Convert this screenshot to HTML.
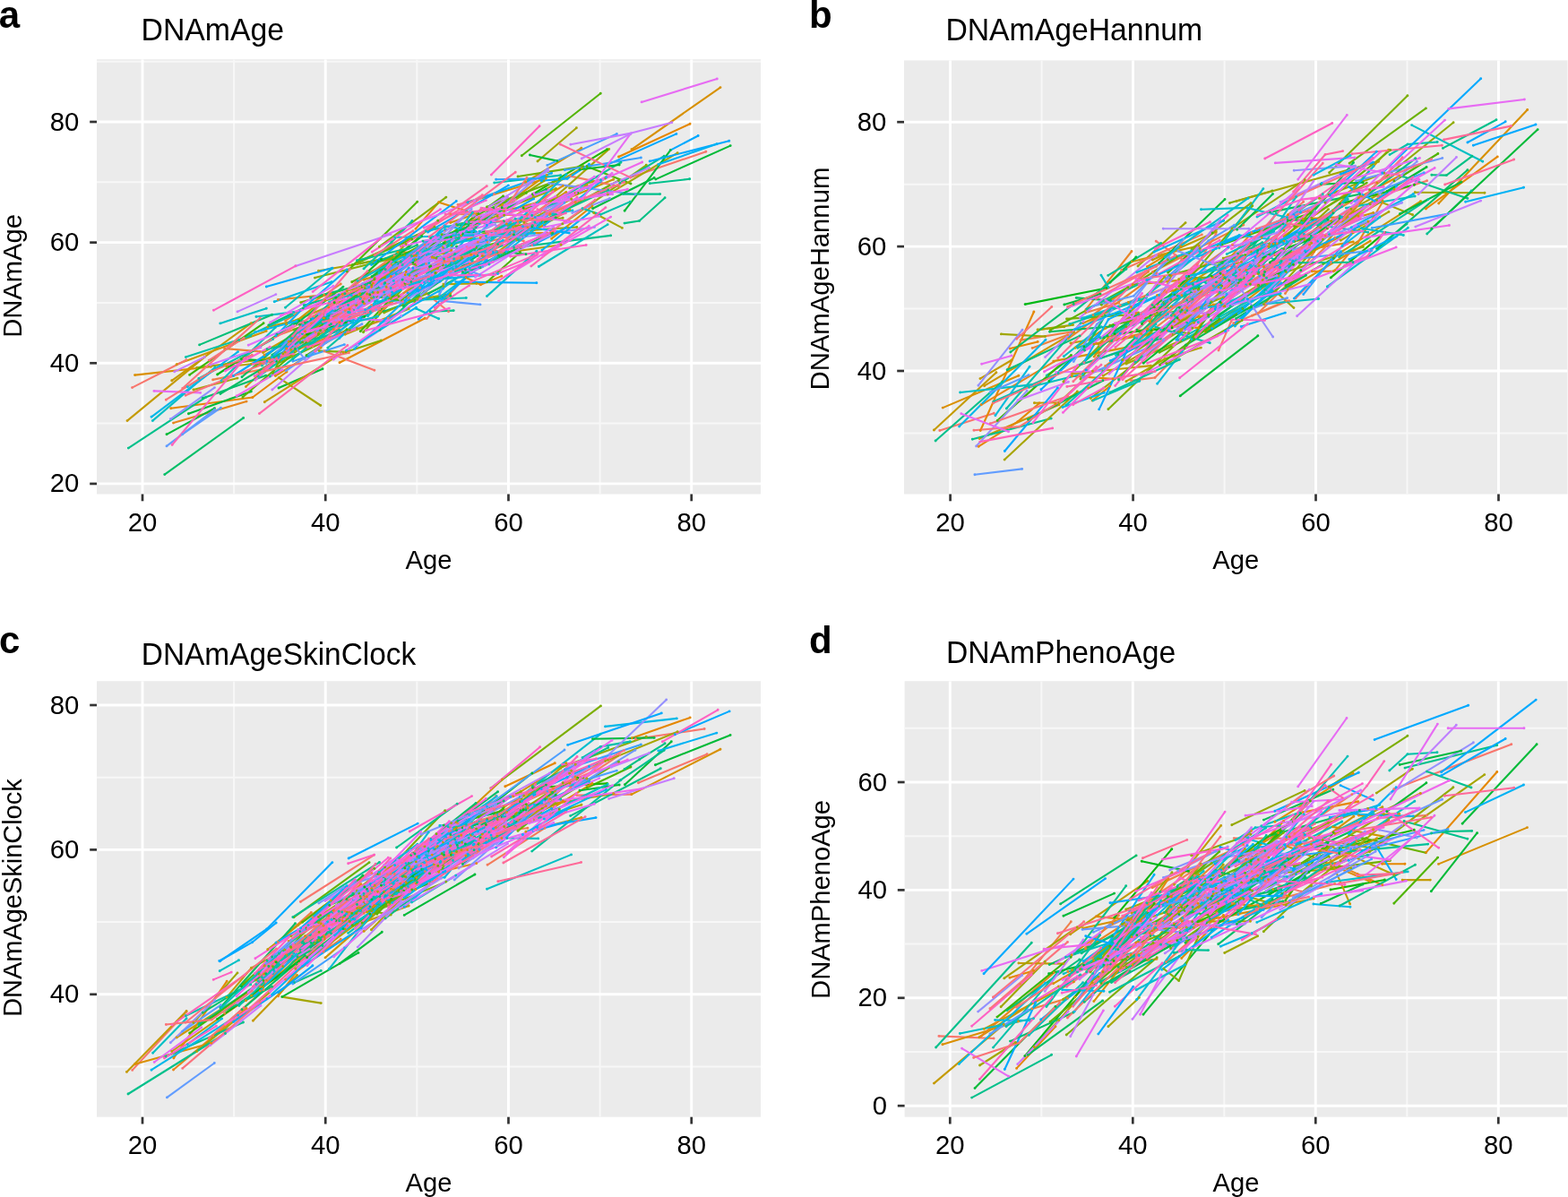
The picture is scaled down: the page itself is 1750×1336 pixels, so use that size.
<!DOCTYPE html><html><head><meta charset="utf-8"><title>DNAm clocks vs age</title>
<style>html,body{margin:0;padding:0;background:#fff;}svg{display:block;filter:blur(0.45px);}</style></head><body>
<svg width="1750" height="1336" viewBox="0 0 1750 1336" font-family='"Liberation Sans", Arial, Helvetica, sans-serif'>
<defs>
<clipPath id="clipa"><rect x="108" y="66.2" width="741.0" height="485.3"/></clipPath>
<clipPath id="clipb"><rect x="1009" y="67.3" width="740.5" height="484.2"/></clipPath>
<clipPath id="clipc"><rect x="108" y="760.2" width="741.0" height="486.5"/></clipPath>
<clipPath id="clipd"><rect x="1009.6" y="760.2" width="739.9" height="486.5"/></clipPath>
</defs>
<rect x="108" y="66.2" width="741.0" height="485.3" fill="#EBEBEB"/>
<g stroke="#FFFFFF" clip-path="url(#clipa)"><line x1="108" x2="849" y1="472.60" y2="472.60" stroke-width="2.0" stroke="#F7F7F7"/><line x1="108" x2="849" y1="337.96" y2="337.96" stroke-width="2.0" stroke="#F7F7F7"/><line x1="108" x2="849" y1="203.32" y2="203.32" stroke-width="2.0" stroke="#F7F7F7"/><line x1="108" x2="849" y1="68.68" y2="68.68" stroke-width="2.0" stroke="#F7F7F7"/><line x1="261.12" x2="261.12" y1="66.2" y2="551.5" stroke-width="2.0" stroke="#F7F7F7"/><line x1="465.36" x2="465.36" y1="66.2" y2="551.5" stroke-width="2.0" stroke="#F7F7F7"/><line x1="669.60" x2="669.60" y1="66.2" y2="551.5" stroke-width="2.0" stroke="#F7F7F7"/><line x1="108" x2="849" y1="539.92" y2="539.92" stroke-width="2.9"/><line x1="108" x2="849" y1="405.28" y2="405.28" stroke-width="2.9"/><line x1="108" x2="849" y1="270.64" y2="270.64" stroke-width="2.9"/><line x1="108" x2="849" y1="136.00" y2="136.00" stroke-width="2.9"/><line x1="159.00" x2="159.00" y1="66.2" y2="551.5" stroke-width="2.9"/><line x1="363.24" x2="363.24" y1="66.2" y2="551.5" stroke-width="2.9"/><line x1="567.48" x2="567.48" y1="66.2" y2="551.5" stroke-width="2.9"/><line x1="771.72" x2="771.72" y1="66.2" y2="551.5" stroke-width="2.9"/></g>
<g clip-path="url(#clipa)" fill="none" stroke-linecap="butt" stroke-linejoin="round"><g stroke-width="2.1"><path stroke="#F8766D" d="M703.7 198.1L787.9 169.2"/><path stroke="#F67964" d="M475.5 294.5L537.5 232.4"/><path stroke="#F27C55" d="M400.4 328.8L474.3 273.1"/><path stroke="#F47A5D" d="M361.2 370.2L387.7 370.8L433.3 355.3"/><path stroke="#F77768" d="M415.5 333.3L434.8 330.3L455.9 332.4"/><path stroke="#EE8041" d="M385.1 347.0L486.7 304.5"/><path stroke="#E58700" d="M379.0 404.7L474.2 355.2"/><path stroke="#E88526" d="M310.4 334.4L361.7 329.3"/><path stroke="#DB8E00" d="M536.0 265.4L628.3 207.4"/><path stroke="#EF7F47" d="M332.2 378.4L406.4 333.3"/><path stroke="#E48800" d="M520.0 309.7L536.4 317.7L559.9 308.1"/><path stroke="#DD8C00" d="M464.7 308.1L565.4 249.9"/><path stroke="#D29300" d="M502.7 248.6L560.6 228.4"/><path stroke="#CF9500" d="M363.0 335.4L452.2 306.7"/><path stroke="#EE8044" d="M533.4 270.2L578.1 247.3L613.2 239.7"/><path stroke="#D89000" d="M444.0 281.4L525.7 284.3"/><path stroke="#D19400" d="M586.8 203.2L648.8 165.3"/><path stroke="#D69100" d="M307.4 419.5L358.2 388.1"/><path stroke="#CD9500" d="M572.8 253.3L631.8 214.4"/><path stroke="#E38900" d="M379.0 360.0L416.4 316.1"/><path stroke="#E08B00" d="M463.9 255.4L489.7 225.7L531.8 239.1"/><path stroke="#F7776B" d="M544.8 261.3L584.4 269.0"/><path stroke="#C19B00" d="M409.6 328.0L461.8 285.6"/><path stroke="#C79800" d="M588.9 239.9L684.7 200.2"/><path stroke="#E88520" d="M588.9 253.9L614.2 238.7L642.1 225.6"/><path stroke="#E48800" d="M366.7 343.1L382.3 328.2L406.0 338.0"/><path stroke="#F27D53" d="M352.0 371.0L436.2 333.8"/><path stroke="#B1A100" d="M355.5 302.2L398.7 294.8L439.2 286.9"/><path stroke="#E28900" d="M295.0 396.3L340.6 370.0"/><path stroke="#D39200" d="M274.4 431.6L362.1 351.3"/><path stroke="#F8766D" d="M511.0 228.5L551.5 216.7"/><path stroke="#9EA700" d="M534.3 244.4L620.5 210.4"/><path stroke="#C49900" d="M191.7 424.8L280.5 360.7"/><path stroke="#B89E00" d="M538.3 285.7L626.1 273.2"/><path stroke="#EA832F" d="M524.3 294.2L617.4 259.2"/><path stroke="#BD9C00" d="M385.1 373.3L456.2 344.8"/><path stroke="#AAA300" d="M584.8 248.4L637.7 222.3"/><path stroke="#F8766D" d="M362.0 392.0L417.9 413.2"/><path stroke="#F07E4D" d="M496.3 257.0L534.7 242.8"/><path stroke="#F57962" d="M636.7 196.6L691.7 208.2"/><path stroke="#8BAB00" d="M509.5 250.5L562.7 240.2"/><path stroke="#A3A500" d="M614.5 224.5L679.7 166.4"/><path stroke="#E58705" d="M553.2 259.7L615.0 260.1"/><path stroke="#DC8D00" d="M417.7 312.3L464.5 285.2"/><path stroke="#92AA00" d="M285.5 408.0L324.8 397.5"/><path stroke="#F37B5A" d="M544.0 270.2L608.1 252.1"/><path stroke="#C49A00" d="M142.0 469.6L228.4 398.4"/><path stroke="#ED813E" d="M310.2 374.3L347.4 360.8"/><path stroke="#A3A500" d="M600.0 180.0L643.4 142.8"/><path stroke="#8FAB00" d="M627.8 249.9L721.3 184.3"/><path stroke="#B4A000" d="M329.8 392.0L431.2 320.4"/><path stroke="#BC9D00" d="M319.6 361.8L401.8 327.7"/><path stroke="#DA8F00" d="M150.5 418.6L235.4 409.3"/><path stroke="#4FB400" d="M655.1 185.8L704.0 205.0"/><path stroke="#F37C58" d="M349.0 386.8L414.8 340.4"/><path stroke="#62B200" d="M392.7 314.7L493.2 261.7"/><path stroke="#EB8237" d="M318.6 358.0L380.3 317.0"/><path stroke="#DC8D00" d="M521.9 226.1L609.3 199.3"/><path stroke="#C99700" d="M362.1 355.1L436.8 295.7"/><path stroke="#97A800" d="M315.8 394.8L407.0 321.0"/><path stroke="#CA9700" d="M456.9 307.3L509.3 265.8"/><path stroke="#4BB400" d="M543.6 314.8L580.5 281.5"/><path stroke="#A3A500" d="M662.6 237.5L694.4 254.4"/><path stroke="#53B400" d="M582.3 173.7L670.3 104.3"/><path stroke="#F17D50" d="M502.9 239.0L588.9 240.2"/><path stroke="#B0A100" d="M494.9 317.2L531.9 316.5"/><path stroke="#6AB100" d="M605.1 247.7L690.5 201.5"/><path stroke="#A9A400" d="M324.8 390.4L398.4 366.5"/><path stroke="#CC9600" d="M197.1 406.7L297.2 369.4"/><path stroke="#00B81C" d="M373.2 337.7L425.5 289.5"/><path stroke="#12B700" d="M584.2 232.3L644.7 215.4"/><path stroke="#7BAE00" d="M405.5 370.7L496.7 270.0"/><path stroke="#81AD00" d="M423.3 275.4L497.9 220.1"/><path stroke="#F07F4A" d="M237.6 423.9L294.2 411.7"/><path stroke="#5CB300" d="M444.9 330.6L485.8 304.8"/><path stroke="#9BA800" d="M571.4 258.4L643.8 253.5"/><path stroke="#D09400" d="M414.7 320.3L458.9 285.4"/><path stroke="#E7861A" d="M193.5 472.1L275.1 448.1"/><path stroke="#D59100" d="M514.7 262.7L610.2 195.4"/><path stroke="#94A900" d="M503.6 273.7L581.5 246.2"/><path stroke="#2EB600" d="M342.0 396.7L387.1 367.8"/><path stroke="#D79000" d="M704.9 166.8L804.0 97.6"/><path stroke="#00BB4A" d="M422.0 291.8L495.6 271.5"/><path stroke="#00BD5C" d="M428.1 347.8L463.0 335.5L502.8 330.3"/><path stroke="#1EB700" d="M594.5 216.8L677.6 166.7"/><path stroke="#F8766D" d="M468.6 321.4L500.6 347.7"/><path stroke="#A3A500" d="M355.7 371.9L452.9 272.5"/><path stroke="#E9842B" d="M290.6 405.7L389.9 368.2"/><path stroke="#E68612" d="M322.2 381.3L372.2 367.2L402.9 331.7"/><path stroke="#47B500" d="M533.9 238.7L587.4 215.2"/><path stroke="#65B200" d="M327.9 368.1L412.1 335.4"/><path stroke="#00BB47" d="M367.7 362.4L409.5 321.0"/><path stroke="#F67866" d="M476.2 355.6L553.6 272.9"/><path stroke="#EB8333" d="M423.6 348.4L495.8 291.1"/><path stroke="#00BC54" d="M330.8 361.3L383.0 320.1"/><path stroke="#C69900" d="M298.7 365.1L332.7 356.9L369.2 328.1"/><path stroke="#C09B00" d="M293.5 393.5L379.7 343.7"/><path stroke="#A4A500" d="M635.6 209.9L675.7 199.1"/><path stroke="#00BE71" d="M510.9 251.2L562.2 247.0"/><path stroke="#99A800" d="M509.3 266.6L607.1 201.9"/><path stroke="#00BA37" d="M495.2 271.5L550.7 232.3"/><path stroke="#F57A5F" d="M350.3 353.2L440.2 284.9"/><path stroke="#00BA38" d="M731.8 200.1L815.2 162.6"/><path stroke="#C39A00" d="M423.2 303.4L507.1 260.5"/><path stroke="#96A900" d="M473.9 270.3L555.2 241.4"/><path stroke="#C89800" d="M576.8 268.1L636.0 234.0"/><path stroke="#00BA38" d="M311.0 433.0L360.0 411.7"/><path stroke="#BE9C00" d="M418.2 310.3L494.6 275.8"/><path stroke="#74B000" d="M487.0 288.2L582.0 264.1"/><path stroke="#00C08B" d="M725.2 204.7L769.7 199.8"/><path stroke="#6FB000" d="M578.0 197.0L650.8 185.6"/><path stroke="#00BC4F" d="M479.5 297.7L519.4 301.0"/><path stroke="#00C08B" d="M480.0 347.7L506.3 346.6"/><path stroke="#00BF7F" d="M430.1 300.8L529.1 256.1"/><path stroke="#76AF00" d="M462.4 336.4L531.6 276.6"/><path stroke="#F8766D" d="M147.5 432.6L208.0 401.8"/><path stroke="#E18A00" d="M390.1 345.1L482.2 287.3"/><path stroke="#7DAE00" d="M289.1 415.3L390.2 368.3"/><path stroke="#53B400" d="M387.4 303.1L465.7 225.2"/><path stroke="#00BD5E" d="M516.4 303.7L616.6 260.5"/><path stroke="#B3A000" d="M414.4 332.6L484.3 287.5"/><path stroke="#ADA200" d="M421.6 326.5L464.3 296.0"/><path stroke="#E58700" d="M190.7 455.7L281.9 443.5L320.0 415.0"/><path stroke="#00BE67" d="M458.8 314.5L555.6 272.6"/><path stroke="#00C093" d="M326.8 400.7L423.5 320.5"/><path stroke="#EC823A" d="M250.6 389.0L290.3 392.4"/><path stroke="#A6A500" d="M678.3 217.1L756.2 170.7"/><path stroke="#00BC59" d="M450.4 341.8L533.3 285.2"/><path stroke="#34B600" d="M412.8 328.9L436.7 292.0L480.8 296.9"/><path stroke="#A0A600" d="M215.9 435.0L265.0 422.1"/><path stroke="#85AD00" d="M356.1 391.6L385.8 392.9L425.4 379.9"/><path stroke="#00C08A" d="M423.9 368.2L503.8 293.4"/><path stroke="#00C1A3" d="M475.3 258.0L523.2 248.0"/><path stroke="#43B500" d="M402.3 369.8L452.0 316.2"/><path stroke="#DE8C00" d="M615.6 266.4L661.0 230.0"/><path stroke="#DF8B00" d="M406.7 338.9L436.3 308.5L453.2 303.5"/><path stroke="#B79F00" d="M562.6 235.6L642.2 215.4"/><path stroke="#AFA200" d="M387.4 324.6L488.5 299.8"/><path stroke="#00BE67" d="M183.7 529.6L271.7 466.4"/><path stroke="#00C0B7" d="M418.7 336.5L520.3 332.5"/><path stroke="#00C1AB" d="M650.0 232.6L670.2 239.5L703.4 225.1"/><path stroke="#E58700" d="M690.5 175.0L770.1 138.2"/><path stroke="#00C0BD" d="M413.4 347.9L512.0 262.2"/><path stroke="#00B930" d="M374.9 332.3L460.6 310.4"/><path stroke="#00C0B1" d="M388.6 340.5L449.1 295.8"/><path stroke="#D98F00" d="M409.3 320.9L446.9 292.0"/><path stroke="#90AA00" d="M575.5 252.3L628.2 243.3"/><path stroke="#D49200" d="M319.7 389.0L361.0 354.9"/><path stroke="#00BFC4" d="M245.8 360.9L297.3 344.2"/><path stroke="#00B822" d="M460.9 293.2L560.2 231.8"/><path stroke="#ACA300" d="M595.3 219.3L649.0 187.8"/><path stroke="#CB9600" d="M406.1 312.3L503.8 279.2"/><path stroke="#00C19A" d="M593.7 240.5L693.0 181.2"/><path stroke="#00C085" d="M697.0 249.1L713.6 246.5L742.1 220.8"/><path stroke="#00BD65" d="M299.8 362.9L338.2 343.9"/><path stroke="#00C1AC" d="M221.8 422.4L304.7 378.6"/><path stroke="#00C0AF" d="M495.4 289.0L575.3 244.3"/><path stroke="#00BFC6" d="M285.9 353.5L327.7 348.4"/><path stroke="#52B400" d="M393.3 295.7L459.8 267.0"/><path stroke="#27B700" d="M450.9 284.8L503.5 264.6L542.4 244.8"/><path stroke="#83AD00" d="M397.7 340.6L414.7 318.1L436.2 333.5"/><path stroke="#00B70A" d="M342.7 373.4L406.8 353.3"/><path stroke="#00BB44" d="M536.1 298.8L581.2 276.4"/><path stroke="#6CB100" d="M543.4 230.9L624.3 200.4"/><path stroke="#00B9E2" d="M436.1 321.5L478.9 293.6"/><path stroke="#9CA700" d="M465.8 334.3L502.7 328.0"/><path stroke="#A3A500" d="M311.2 421.6L357.8 452.5"/><path stroke="#00BECE" d="M365.5 354.6L402.2 333.4"/><path stroke="#3EB500" d="M462.6 290.2L561.6 218.9"/><path stroke="#00BD60" d="M270.0 420.8L340.5 360.3"/><path stroke="#00BECF" d="M439.3 313.4L490.9 279.7L535.4 258.1"/><path stroke="#C29A00" d="M295.3 448.7L383.1 393.2"/><path stroke="#7FAE00" d="M335.6 337.6L429.7 309.9"/><path stroke="#A7A400" d="M219.6 410.4L301.0 400.2"/><path stroke="#8DAB00" d="M428.7 349.1L494.9 319.6"/><path stroke="#89AC00" d="M351.4 310.1L451.2 284.9"/><path stroke="#00BB4C" d="M334.4 362.4L404.9 336.8"/><path stroke="#00B8E6" d="M461.3 290.0L496.2 252.0L531.0 258.4"/><path stroke="#00BE69" d="M478.5 327.6L556.5 284.9"/><path stroke="#B59F00" d="M555.0 281.7L655.0 206.2"/><path stroke="#87AC00" d="M402.2 294.0L438.0 287.2"/><path stroke="#00BECB" d="M478.2 283.6L508.7 260.6L527.4 237.3"/><path stroke="#00B6EB" d="M542.5 263.5L596.5 260.4"/><path stroke="#00C097" d="M409.2 317.4L423.4 303.5L447.7 292.2"/><path stroke="#00B9E3" d="M597.2 242.6L639.0 235.0"/><path stroke="#BB9D00" d="M416.6 326.5L515.0 288.5"/><path stroke="#00BA38" d="M591.4 173.0L621.9 179.6"/><path stroke="#B99E00" d="M253.0 409.3L280.5 406.2L318.1 393.0"/><path stroke="#00C08B" d="M143.3 500.1L230.0 443.2"/><path stroke="#00BFC9" d="M509.1 297.5L582.4 242.8"/><path stroke="#00A9FF" d="M748.3 167.6L779.2 151.5"/><path stroke="#00BECD" d="M580.3 248.1L670.5 201.0"/><path stroke="#00BD62" d="M245.9 439.5L329.5 389.3"/><path stroke="#00BE6D" d="M480.5 265.7L531.1 253.9"/><path stroke="#00C08E" d="M335.4 382.7L394.4 345.9"/><path stroke="#00BA38" d="M210.4 461.7L280.3 436.9"/><path stroke="#00B815" d="M242.6 418.0L333.8 357.9"/><path stroke="#00BF79" d="M222.6 384.9L303.7 351.3"/><path stroke="#00C0B3" d="M318.5 343.2L370.5 299.7"/><path stroke="#00C0BA" d="M288.4 420.3L388.7 348.5"/><path stroke="#00BC52" d="M509.5 275.1L587.0 283.7"/><path stroke="#00BADF" d="M306.2 336.8L370.2 314.6"/><path stroke="#00BF77" d="M309.1 373.1L332.0 357.9L359.9 360.7"/><path stroke="#00B927" d="M516.3 261.0L593.9 252.8"/><path stroke="#00BF7B" d="M416.2 294.4L465.6 273.5"/><path stroke="#00C1A9" d="M207.3 398.6L279.7 374.9"/><path stroke="#00B1F6" d="M481.0 312.5L555.6 305.6"/><path stroke="#A1A600" d="M464.1 289.8L515.6 287.4"/><path stroke="#00C090" d="M691.8 204.4L741.3 174.1"/><path stroke="#71B000" d="M304.5 416.2L324.4 380.6L355.5 373.2"/><path stroke="#00BBDB" d="M390.3 348.8L428.7 326.0"/><path stroke="#67B100" d="M404.1 320.4L488.8 246.2"/><path stroke="#00C083" d="M339.3 340.8L384.8 327.7"/><path stroke="#00BA3B" d="M415.0 308.7L470.7 263.8"/><path stroke="#00BBDC" d="M209.3 431.7L247.6 407.5"/><path stroke="#00BFC7" d="M379.3 363.2L442.3 305.8"/><path stroke="#00B92B" d="M269.4 400.7L308.4 403.3"/><path stroke="#00B6EA" d="M437.6 326.3L482.0 309.1L535.1 249.8"/><path stroke="#00B8E7" d="M477.2 315.2L569.8 248.3"/><path stroke="#00BA38" d="M186.0 484.8L239.5 455.7"/><path stroke="#00BA3E" d="M573.4 261.9L620.2 242.9"/><path stroke="#78AF00" d="M400.6 291.8L485.0 253.3"/><path stroke="#6F99FF" d="M612.6 204.6L709.0 217.0"/><path stroke="#00C0B4" d="M551.7 204.0L625.8 195.6"/><path stroke="#00BF81" d="M305.9 398.8L369.4 361.8"/><path stroke="#00BDD3" d="M490.8 331.6L534.9 298.4"/><path stroke="#00BA38" d="M697.1 235.3L748.3 167.6"/><path stroke="#00B6EC" d="M451.2 338.3L548.0 247.9"/><path stroke="#00C095" d="M444.7 294.5L507.7 283.5"/><path stroke="#00C08B" d="M573.7 276.4L681.7 262.9"/><path stroke="#00BCD9" d="M455.5 306.3L505.7 262.6"/><path stroke="#59B300" d="M420.8 331.1L447.8 335.2L494.2 295.9"/><path stroke="#00BC57" d="M510.4 258.7L609.5 211.3"/><path stroke="#988FFF" d="M447.2 338.0L506.0 303.8"/><path stroke="#00C092" d="M472.0 269.1L511.0 265.9"/><path stroke="#00ACFC" d="M604.2 201.8L633.1 199.4L657.5 183.3"/><path stroke="#31A2FF" d="M467.8 287.3L504.6 293.2"/><path stroke="#00B5ED" d="M607.3 251.5L676.6 198.0"/><path stroke="#5FB200" d="M270.9 443.2L357.6 369.0"/><path stroke="#00AFF7" d="M424.8 360.9L494.6 322.1"/><path stroke="#00A6FF" d="M260.5 419.5L326.2 377.0"/><path stroke="#00A8FF" d="M477.6 259.1L567.4 206.9"/><path stroke="#00BFC4" d="M543.4 330.6L598.9 280.3"/><path stroke="#00C0B6" d="M545.9 295.0L597.0 248.3"/><path stroke="#00C1A4" d="M502.1 296.4L578.2 267.4"/><path stroke="#00C08B" d="M695.4 216.6L736.7 216.6"/><path stroke="#00C19F" d="M311.4 397.8L378.7 368.3"/><path stroke="#56B300" d="M337.6 381.9L417.9 311.7"/><path stroke="#00B934" d="M647.0 189.3L691.2 184.0"/><path stroke="#9D8DFF" d="M553.9 252.5L622.8 227.8"/><path stroke="#00A4FF" d="M460.9 299.2L542.8 268.1"/><path stroke="#00C1A6" d="M266.8 379.6L326.5 351.7"/><path stroke="#00C08C" d="M398.5 290.8L456.3 277.1"/><path stroke="#39B600" d="M211.6 418.4L294.1 360.8"/><path stroke="#00BA41" d="M661.5 232.7L730.2 198.5"/><path stroke="#9590FF" d="M543.1 245.7L611.5 188.1"/><path stroke="#00C087" d="M594.4 251.6L678.8 211.9"/><path stroke="#00C089" d="M298.1 389.6L355.7 377.1"/><path stroke="#8993FF" d="M404.7 316.5L469.4 283.3"/><path stroke="#00C1AE" d="M301.4 420.1L381.8 358.0"/><path stroke="#00BCD6" d="M541.7 281.8L632.1 194.7"/><path stroke="#00B0F6" d="M451.3 287.6L496.9 256.0"/><path stroke="#00ABFD" d="M337.8 363.3L403.0 356.0"/><path stroke="#00BFC4" d="M464.0 344.3L489.7 355.7"/><path stroke="#00BAE0" d="M489.5 325.4L524.2 299.5L554.3 281.1"/><path stroke="#00BFC0" d="M468.0 314.7L520.7 258.1"/><path stroke="#A58AFF" d="M458.0 311.6L497.0 275.5L552.7 250.4"/><path stroke="#00C1A7" d="M292.4 408.1L378.1 329.2"/><path stroke="#CA7BFF" d="M303.8 435.0L389.3 360.2"/><path stroke="#639CFF" d="M490.4 328.8L506.8 296.6L535.6 306.6"/><path stroke="#00AEFA" d="M484.0 312.7L533.3 282.9"/><path stroke="#00BCD7" d="M344.1 397.8L394.5 357.4"/><path stroke="#00C19E" d="M337.4 372.6L415.2 326.1"/><path stroke="#CD79FF" d="M362.9 351.5L443.7 321.0"/><path stroke="#00BBDD" d="M501.9 272.4L574.1 258.8"/><path stroke="#A08CFF" d="M581.6 264.7L663.6 253.6"/><path stroke="#00A6FF" d="M455.1 327.1L491.3 314.1"/><path stroke="#A38BFF" d="M512.0 276.2L571.4 259.1"/><path stroke="#00BF75" d="M449.2 312.2L529.7 278.7"/><path stroke="#B684FF" d="M399.2 385.2L447.7 352.5"/><path stroke="#00ACFB" d="M522.0 225.9L615.6 193.3"/><path stroke="#00BE6B" d="M226.3 444.4L296.8 419.1"/><path stroke="#00BE6F" d="M346.7 332.3L413.0 315.9"/><path stroke="#41A0FF" d="M326.8 403.3L384.4 384.6"/><path stroke="#00BF7D" d="M303.7 396.1L393.9 333.5"/><path stroke="#00C19C" d="M406.0 299.9L437.1 270.2L460.0 246.4"/><path stroke="#E66CF4" d="M590.3 241.6L663.4 197.2"/><path stroke="#00A7FF" d="M414.5 295.5L509.3 224.5"/><path stroke="#00BBDA" d="M367.5 336.9L428.7 316.9"/><path stroke="#00BFC4" d="M170.3 469.6L240.0 410.0"/><path stroke="#6B9AFF" d="M306.9 402.3L396.9 338.5"/><path stroke="#8F91FF" d="M638.7 237.6L680.5 221.4"/><path stroke="#00A9FF" d="M467.2 356.3L543.3 290.1"/><path stroke="#C27EFF" d="M265.0 347.9L307.9 328.6"/><path stroke="#00C098" d="M417.0 331.7L512.4 265.7"/><path stroke="#00AEF9" d="M499.9 310.5L550.5 281.2"/><path stroke="#00C0B9" d="M506.8 289.0L549.1 265.3L603.3 248.9"/><path stroke="#00AAFD" d="M543.3 251.5L595.6 221.9"/><path stroke="#7E96FF" d="M355.8 350.5L383.1 348.1L419.7 345.8"/><path stroke="#00BF73" d="M347.1 356.4L429.7 315.8"/><path stroke="#00C0BC" d="M247.0 425.0L307.4 365.4"/><path stroke="#00C1A1" d="M365.8 388.3L430.1 333.6"/><path stroke="#00B7E9" d="M169.0 465.3L265.6 392.6"/><path stroke="#D973FC" d="M420.0 329.3L518.2 275.2"/><path stroke="#00A9FF" d="M675.6 184.9L754.9 149.4"/><path stroke="#EA69F0" d="M368.9 354.8L432.9 357.6"/><path stroke="#48A0FF" d="M610.8 184.4L688.4 149.4"/><path stroke="#00BECA" d="M398.9 313.3L492.0 264.5"/><path stroke="#BC81FF" d="M527.9 241.3L612.0 190.6"/><path stroke="#00BDD5" d="M410.5 352.7L453.1 313.9L478.3 300.4"/><path stroke="#F763E0" d="M445.5 298.8L514.4 260.2"/><path stroke="#E76BF3" d="M171.9 436.4L223.7 438.4"/><path stroke="#EC69EF" d="M565.6 245.7L620.0 219.1"/><path stroke="#00BFC4" d="M505.6 300.5L545.6 273.5"/><path stroke="#00AFF8" d="M308.0 374.8L335.7 346.5L387.1 301.0"/><path stroke="#00A9FF" d="M595.3 273.3L631.8 254.3"/><path stroke="#00A5FF" d="M310.6 399.3L348.9 355.5"/><path stroke="#BE80FF" d="M682.2 205.7L724.6 187.4"/><path stroke="#E76BF3" d="M336.5 346.3L426.6 306.9"/><path stroke="#DD71FA" d="M277.2 385.3L326.9 363.8"/><path stroke="#7797FF" d="M507.2 260.4L585.1 264.6"/><path stroke="#619CFF" d="M186.0 497.9L239.5 457.3"/><path stroke="#D774FD" d="M452.6 314.8L524.4 291.9"/><path stroke="#BA82FF" d="M375.3 344.2L445.7 315.8"/><path stroke="#00AAFE" d="M466.5 324.9L529.2 285.6"/><path stroke="#FC61D5" d="M396.5 337.4L469.0 282.1"/><path stroke="#AF86FF" d="M397.0 336.0L488.7 270.7"/><path stroke="#ED68EE" d="M479.3 270.3L546.9 261.2"/><path stroke="#679BFF" d="M319.3 413.8L363.9 382.3L404.0 361.7"/><path stroke="#F066EA" d="M342.9 377.9L422.2 332.7"/><path stroke="#00A9FF" d="M297.3 320.0L371.0 299.1"/><path stroke="#C07FFF" d="M470.7 292.7L535.3 284.3"/><path stroke="#FF61C3" d="M343.2 387.4L396.1 367.6"/><path stroke="#00A9FF" d="M508.6 314.6L598.9 315.7"/><path stroke="#00B8E5" d="M565.0 281.0L606.2 248.1"/><path stroke="#00C0BF" d="M601.3 297.5L678.2 250.6"/><path stroke="#EF67EB" d="M622.6 237.9L650.1 221.1L700.4 211.2"/><path stroke="#8594FF" d="M542.3 283.8L634.6 220.1"/><path stroke="#7398FF" d="M296.8 405.9L322.9 378.6L340.0 400.6"/><path stroke="#FF63B7" d="M599.8 233.7L624.9 237.5L644.1 220.0"/><path stroke="#4E9FFF" d="M538.5 297.7L630.0 226.2"/><path stroke="#00A9FF" d="M725.2 180.0L813.8 157.2"/><path stroke="#39A1FF" d="M630.3 189.8L715.4 176.0"/><path stroke="#00BFC2" d="M478.0 311.8L500.1 309.8L527.3 291.0"/><path stroke="#DE70F9" d="M428.7 262.7L529.8 224.0"/><path stroke="#00B4F0" d="M386.6 391.1L464.6 343.2"/><path stroke="#00B5EE" d="M284.5 370.8L330.9 358.4"/><path stroke="#9290FF" d="M190.3 467.8L239.5 432.6"/><path stroke="#00BFC3" d="M459.5 285.7L508.8 266.0"/><path stroke="#FF64AF" d="M442.1 314.9L521.0 275.5"/><path stroke="#00BDD1" d="M367.2 367.0L421.7 353.1"/><path stroke="#26A3FF" d="M553.6 200.2L606.9 199.2"/><path stroke="#E16FF7" d="M372.5 344.6L454.6 319.2"/><path stroke="#00B7E8" d="M407.7 345.7L497.6 296.0"/><path stroke="#B385FF" d="M377.9 355.7L444.3 337.5"/><path stroke="#FE61CE" d="M393.2 346.5L415.9 343.8L448.9 328.6"/><path stroke="#00BDD2" d="M422.9 304.8L465.9 282.2"/><path stroke="#FF62BA" d="M525.3 251.5L575.1 222.6"/><path stroke="#16A4FF" d="M411.5 320.8L476.2 284.6"/><path stroke="#FF61C5" d="M369.8 352.5L460.2 309.3"/><path stroke="#00BAE1" d="M440.6 265.0L528.1 262.6"/><path stroke="#CF78FF" d="M234.5 407.3L291.0 387.9"/><path stroke="#DA72FB" d="M488.9 283.3L560.5 258.1"/><path stroke="#00B2F3" d="M395.7 389.2L469.7 318.1"/><path stroke="#00ADFB" d="M583.4 252.7L635.3 260.1"/><path stroke="#FF62BF" d="M523.0 254.7L597.0 227.6"/><path stroke="#E76BF3" d="M703.7 149.4L650.0 222.0"/><path stroke="#00B3F1" d="M298.0 403.2L392.3 330.1"/><path stroke="#FF65AC" d="M425.8 317.0L457.1 295.6L493.8 278.9"/><path stroke="#FC727E" d="M539.0 289.9L612.4 226.2"/><path stroke="#5E9CFF" d="M203.6 484.7L246.5 455.2"/><path stroke="#FF65AD" d="M351.6 392.0L435.8 296.8"/><path stroke="#549EFF" d="M409.4 320.6L474.2 270.5"/><path stroke="#C77CFF" d="M329.9 296.9L436.1 261.6"/><path stroke="#00B2F4" d="M734.8 183.5L799.9 160.7"/><path stroke="#00B3F2" d="M378.8 377.6L456.3 299.0"/><path stroke="#F8766F" d="M366.9 358.5L432.4 317.1"/><path stroke="#C87CFF" d="M504.1 269.2L566.7 220.0"/><path stroke="#FE6E8B" d="M593.9 273.8L664.3 223.1"/><path stroke="#AD87FF" d="M374.9 357.4L460.6 309.6"/><path stroke="#8C92FF" d="M397.4 334.1L479.9 305.4"/><path stroke="#FF699C" d="M326.6 375.2L390.4 300.7"/><path stroke="#FB737A" d="M535.4 247.7L557.0 243.2L588.0 198.4"/><path stroke="#F265E7" d="M551.5 237.1L639.8 247.3"/><path stroke="#00B4EF" d="M473.7 315.3L561.5 268.2"/><path stroke="#FF66A8" d="M482.2 307.4L560.7 248.3"/><path stroke="#C47DFF" d="M525.2 304.2L613.5 262.9"/><path stroke="#FC61D3" d="M473.2 254.2L542.4 223.6"/><path stroke="#F862DE" d="M284.9 424.3L376.5 336.4"/><path stroke="#00B1F5" d="M604.9 279.2L657.5 237.6"/><path stroke="#FF62BC" d="M433.5 329.1L500.8 284.3"/><path stroke="#E76BF3" d="M716.1 113.9L800.3 88.0"/><path stroke="#C77CFF" d="M636.8 161.3L704.5 148.6L749.9 136.7"/><path stroke="#E46DF6" d="M607.1 253.7L668.8 241.3"/><path stroke="#FF63B9" d="M192.1 496.5L273.3 399.8"/><path stroke="#FF6C91" d="M374.3 360.2L423.8 345.1"/><path stroke="#B883FF" d="M457.4 301.2L503.5 290.0"/><path stroke="#FF61C3" d="M548.3 195.1L602.1 140.8"/><path stroke="#F962DC" d="M366.6 361.0L420.5 329.4L466.1 294.7"/><path stroke="#EE68ED" d="M372.2 401.2L469.6 333.0"/><path stroke="#599DFF" d="M399.5 343.9L447.5 302.8L476.6 274.3"/><path stroke="#8295FF" d="M470.1 329.2L553.3 260.3"/><path stroke="#F663E1" d="M446.4 295.5L486.1 264.3"/><path stroke="#E26EF7" d="M451.4 274.3L549.5 250.3"/><path stroke="#CC7AFF" d="M481.3 291.8L565.0 253.7"/><path stroke="#FF61C3" d="M556.6 313.4L598.9 284.9"/><path stroke="#D276FF" d="M424.5 319.4L490.4 282.7"/><path stroke="#7B97FF" d="M413.6 325.4L455.9 314.7"/><path stroke="#FB727C" d="M203.7 433.5L290.3 355.0"/><path stroke="#619CFF" d="M491.4 335.7L536.0 339.9"/><path stroke="#FF6B95" d="M478.0 300.7L566.7 268.7"/><path stroke="#DC72FB" d="M301.5 359.9L371.9 319.3"/><path stroke="#A889FF" d="M397.0 327.7L492.5 294.9"/><path stroke="#FD6F86" d="M366.8 338.7L405.5 319.3"/><path stroke="#F97571" d="M290.2 415.4L389.5 393.8"/><path stroke="#FF63B5" d="M532.9 289.6L617.3 214.0"/><path stroke="#FA61D9" d="M446.0 318.5L529.4 275.2"/><path stroke="#E96AF1" d="M623.9 225.5L683.1 193.4"/><path stroke="#D675FE" d="M530.5 309.4L617.9 253.1"/><path stroke="#FF61CC" d="M415.3 281.2L491.5 233.6"/><path stroke="#9A8EFF" d="M427.8 332.7L526.2 233.5"/><path stroke="#FF6A9A" d="M447.3 275.3L538.4 217.6"/><path stroke="#FF64B2" d="M548.6 262.6L631.4 237.9"/><path stroke="#FF6A98" d="M625.2 161.0L703.7 198.1"/><path stroke="#E06FF8" d="M332.5 374.1L362.1 364.4L394.8 343.3"/><path stroke="#FF61C9" d="M349.1 325.6L424.4 266.4"/><path stroke="#B186FF" d="M477.1 275.5L524.1 235.7"/><path stroke="#FF6A97" d="M478.9 264.3L575.3 192.2"/><path stroke="#F166E8" d="M264.0 442.0L315.2 412.7"/><path stroke="#FA7476" d="M185.3 446.2L236.2 414.4L281.4 396.3"/><path stroke="#F962DB" d="M562.3 273.8L643.4 215.5"/><path stroke="#FC7180" d="M207.1 441.3L308.6 400.3"/><path stroke="#C67DFF" d="M446.3 334.2L524.0 273.8"/><path stroke="#C77CFF" d="M194.7 414.9L228.4 398.4"/><path stroke="#D177FF" d="M408.2 336.5L495.8 274.3"/><path stroke="#E86BF2" d="M540.7 251.4L596.0 215.7"/><path stroke="#FF62C0" d="M485.2 343.5L523.6 318.7"/><path stroke="#F564E3" d="M520.7 247.7L574.0 246.9"/><path stroke="#AA88FF" d="M480.1 281.2L546.4 270.4"/><path stroke="#FF67A5" d="M542.5 258.4L577.9 256.1L597.7 251.4"/><path stroke="#C77CFF" d="M649.2 177.0L703.7 149.4"/><path stroke="#FF6C93" d="M279.2 392.4L376.8 337.1"/><path stroke="#D476FE" d="M531.7 242.5L612.3 212.0"/><path stroke="#FF61C8" d="M537.0 232.1L603.2 236.7"/><path stroke="#FF66AA" d="M282.2 406.6L327.6 395.1"/><path stroke="#FF67A3" d="M467.4 261.9L543.3 207.7"/><path stroke="#F763DF" d="M337.2 370.7L373.3 361.9"/><path stroke="#FD6F88" d="M554.8 246.9L614.6 245.1"/><path stroke="#F365E6" d="M605.6 285.5L681.7 242.1"/><path stroke="#E56DF5" d="M594.1 228.9L683.6 216.7"/><path stroke="#FD61D0" d="M381.1 361.6L436.7 291.9"/><path stroke="#EF67EC" d="M620.8 223.8L716.7 181.0"/><path stroke="#FF61C3" d="M238.4 346.3L329.9 296.9"/><path stroke="#FA7378" d="M233.2 402.1L272.3 377.2"/><path stroke="#FF66A7" d="M289.4 461.6L387.9 385.5"/><path stroke="#FE6D8D" d="M609.7 238.5L696.7 203.2"/><path stroke="#FD7084" d="M418.2 285.0L461.0 257.7"/><path stroke="#F564E4" d="M313.3 351.8L384.3 333.5"/><path stroke="#FF63B4" d="M592.8 297.1L675.9 231.6"/><path stroke="#FD61D2" d="M332.8 368.9L433.3 303.9"/><path stroke="#FB61D7" d="M408.4 368.7L501.4 344.1"/><path stroke="#FF62BD" d="M525.2 314.9L600.2 283.4"/><path stroke="#FF61C2" d="M379.3 342.2L457.6 312.0"/><path stroke="#F464E5" d="M565.9 307.6L657.3 252.3"/><path stroke="#FA62DA" d="M449.5 322.5L550.4 292.3"/><path stroke="#FC61D6" d="M251.5 414.0L301.3 387.3"/><path stroke="#FF68A0" d="M500.3 289.3L581.5 275.8"/><path stroke="#FF61CB" d="M543.0 288.0L619.7 257.6"/><path stroke="#FE61CF" d="M502.4 307.4L552.2 306.8L590.2 291.5"/><path stroke="#FF61C3" d="M569.5 286.2L654.2 273.5"/><path stroke="#FF68A1" d="M343.4 380.6L419.1 325.6"/><path stroke="#FF61C6" d="M284.1 419.8L322.3 393.1"/><path stroke="#FF6D8F" d="M321.8 384.8L410.1 302.8"/><path stroke="#FF64B1" d="M497.1 239.2L549.7 234.0"/><path stroke="#FF699E" d="M360.3 359.3L449.7 336.6"/><path stroke="#F97473" d="M488.7 295.1L532.4 282.6"/><path stroke="#FF6A98" d="M405.0 331.4L478.7 308.8"/><path stroke="#FE6E8A" d="M296.4 410.2L344.7 377.7"/><path stroke="#FC7082" d="M501.1 303.8L559.7 281.5"/></g><g stroke-width="2.9" stroke-linecap="round"><path stroke="#F8766D" d="M703.7 198.1h0M787.9 169.2h0"/><path stroke="#F67964" d="M475.5 294.5h0M537.5 232.4h0"/><path stroke="#F27C55" d="M400.4 328.8h0M474.3 273.1h0"/><path stroke="#F47A5D" d="M361.2 370.2h0M387.7 370.8h0M433.3 355.3h0"/><path stroke="#F77768" d="M415.5 333.3h0M434.8 330.3h0M455.9 332.4h0"/><path stroke="#EE8041" d="M385.1 347.0h0M486.7 304.5h0"/><path stroke="#E58700" d="M379.0 404.7h0M474.2 355.2h0"/><path stroke="#E88526" d="M310.4 334.4h0M361.7 329.3h0"/><path stroke="#DB8E00" d="M536.0 265.4h0M628.3 207.4h0"/><path stroke="#EF7F47" d="M332.2 378.4h0M406.4 333.3h0"/><path stroke="#E48800" d="M520.0 309.7h0M536.4 317.7h0M559.9 308.1h0"/><path stroke="#DD8C00" d="M464.7 308.1h0M565.4 249.9h0"/><path stroke="#D29300" d="M502.7 248.6h0M560.6 228.4h0"/><path stroke="#CF9500" d="M363.0 335.4h0M452.2 306.7h0"/><path stroke="#EE8044" d="M533.4 270.2h0M578.1 247.3h0M613.2 239.7h0"/><path stroke="#D89000" d="M444.0 281.4h0M525.7 284.3h0"/><path stroke="#D19400" d="M586.8 203.2h0M648.8 165.3h0"/><path stroke="#D69100" d="M307.4 419.5h0M358.2 388.1h0"/><path stroke="#CD9500" d="M572.8 253.3h0M631.8 214.4h0"/><path stroke="#E38900" d="M379.0 360.0h0M416.4 316.1h0"/><path stroke="#E08B00" d="M463.9 255.4h0M489.7 225.7h0M531.8 239.1h0"/><path stroke="#F7776B" d="M544.8 261.3h0M584.4 269.0h0"/><path stroke="#C19B00" d="M409.6 328.0h0M461.8 285.6h0"/><path stroke="#C79800" d="M588.9 239.9h0M684.7 200.2h0"/><path stroke="#E88520" d="M588.9 253.9h0M614.2 238.7h0M642.1 225.6h0"/><path stroke="#E48800" d="M366.7 343.1h0M382.3 328.2h0M406.0 338.0h0"/><path stroke="#F27D53" d="M352.0 371.0h0M436.2 333.8h0"/><path stroke="#B1A100" d="M355.5 302.2h0M398.7 294.8h0M439.2 286.9h0"/><path stroke="#E28900" d="M295.0 396.3h0M340.6 370.0h0"/><path stroke="#D39200" d="M274.4 431.6h0M362.1 351.3h0"/><path stroke="#F8766D" d="M511.0 228.5h0M551.5 216.7h0"/><path stroke="#9EA700" d="M534.3 244.4h0M620.5 210.4h0"/><path stroke="#C49900" d="M191.7 424.8h0M280.5 360.7h0"/><path stroke="#B89E00" d="M538.3 285.7h0M626.1 273.2h0"/><path stroke="#EA832F" d="M524.3 294.2h0M617.4 259.2h0"/><path stroke="#BD9C00" d="M385.1 373.3h0M456.2 344.8h0"/><path stroke="#AAA300" d="M584.8 248.4h0M637.7 222.3h0"/><path stroke="#F8766D" d="M362.0 392.0h0M417.9 413.2h0"/><path stroke="#F07E4D" d="M496.3 257.0h0M534.7 242.8h0"/><path stroke="#F57962" d="M636.7 196.6h0M691.7 208.2h0"/><path stroke="#8BAB00" d="M509.5 250.5h0M562.7 240.2h0"/><path stroke="#A3A500" d="M614.5 224.5h0M679.7 166.4h0"/><path stroke="#E58705" d="M553.2 259.7h0M615.0 260.1h0"/><path stroke="#DC8D00" d="M417.7 312.3h0M464.5 285.2h0"/><path stroke="#92AA00" d="M285.5 408.0h0M324.8 397.5h0"/><path stroke="#F37B5A" d="M544.0 270.2h0M608.1 252.1h0"/><path stroke="#C49A00" d="M142.0 469.6h0M228.4 398.4h0"/><path stroke="#ED813E" d="M310.2 374.3h0M347.4 360.8h0"/><path stroke="#A3A500" d="M600.0 180.0h0M643.4 142.8h0"/><path stroke="#8FAB00" d="M627.8 249.9h0M721.3 184.3h0"/><path stroke="#B4A000" d="M329.8 392.0h0M431.2 320.4h0"/><path stroke="#BC9D00" d="M319.6 361.8h0M401.8 327.7h0"/><path stroke="#DA8F00" d="M150.5 418.6h0M235.4 409.3h0"/><path stroke="#4FB400" d="M655.1 185.8h0M704.0 205.0h0"/><path stroke="#F37C58" d="M349.0 386.8h0M414.8 340.4h0"/><path stroke="#62B200" d="M392.7 314.7h0M493.2 261.7h0"/><path stroke="#EB8237" d="M318.6 358.0h0M380.3 317.0h0"/><path stroke="#DC8D00" d="M521.9 226.1h0M609.3 199.3h0"/><path stroke="#C99700" d="M362.1 355.1h0M436.8 295.7h0"/><path stroke="#97A800" d="M315.8 394.8h0M407.0 321.0h0"/><path stroke="#CA9700" d="M456.9 307.3h0M509.3 265.8h0"/><path stroke="#4BB400" d="M543.6 314.8h0M580.5 281.5h0"/><path stroke="#A3A500" d="M662.6 237.5h0M694.4 254.4h0"/><path stroke="#53B400" d="M582.3 173.7h0M670.3 104.3h0"/><path stroke="#F17D50" d="M502.9 239.0h0M588.9 240.2h0"/><path stroke="#B0A100" d="M494.9 317.2h0M531.9 316.5h0"/><path stroke="#6AB100" d="M605.1 247.7h0M690.5 201.5h0"/><path stroke="#A9A400" d="M324.8 390.4h0M398.4 366.5h0"/><path stroke="#CC9600" d="M197.1 406.7h0M297.2 369.4h0"/><path stroke="#00B81C" d="M373.2 337.7h0M425.5 289.5h0"/><path stroke="#12B700" d="M584.2 232.3h0M644.7 215.4h0"/><path stroke="#7BAE00" d="M405.5 370.7h0M496.7 270.0h0"/><path stroke="#81AD00" d="M423.3 275.4h0M497.9 220.1h0"/><path stroke="#F07F4A" d="M237.6 423.9h0M294.2 411.7h0"/><path stroke="#5CB300" d="M444.9 330.6h0M485.8 304.8h0"/><path stroke="#9BA800" d="M571.4 258.4h0M643.8 253.5h0"/><path stroke="#D09400" d="M414.7 320.3h0M458.9 285.4h0"/><path stroke="#E7861A" d="M193.5 472.1h0M275.1 448.1h0"/><path stroke="#D59100" d="M514.7 262.7h0M610.2 195.4h0"/><path stroke="#94A900" d="M503.6 273.7h0M581.5 246.2h0"/><path stroke="#2EB600" d="M342.0 396.7h0M387.1 367.8h0"/><path stroke="#D79000" d="M704.9 166.8h0M804.0 97.6h0"/><path stroke="#00BB4A" d="M422.0 291.8h0M495.6 271.5h0"/><path stroke="#00BD5C" d="M428.1 347.8h0M463.0 335.5h0M502.8 330.3h0"/><path stroke="#1EB700" d="M594.5 216.8h0M677.6 166.7h0"/><path stroke="#F8766D" d="M468.6 321.4h0M500.6 347.7h0"/><path stroke="#A3A500" d="M355.7 371.9h0M452.9 272.5h0"/><path stroke="#E9842B" d="M290.6 405.7h0M389.9 368.2h0"/><path stroke="#E68612" d="M322.2 381.3h0M372.2 367.2h0M402.9 331.7h0"/><path stroke="#47B500" d="M533.9 238.7h0M587.4 215.2h0"/><path stroke="#65B200" d="M327.9 368.1h0M412.1 335.4h0"/><path stroke="#00BB47" d="M367.7 362.4h0M409.5 321.0h0"/><path stroke="#F67866" d="M476.2 355.6h0M553.6 272.9h0"/><path stroke="#EB8333" d="M423.6 348.4h0M495.8 291.1h0"/><path stroke="#00BC54" d="M330.8 361.3h0M383.0 320.1h0"/><path stroke="#C69900" d="M298.7 365.1h0M332.7 356.9h0M369.2 328.1h0"/><path stroke="#C09B00" d="M293.5 393.5h0M379.7 343.7h0"/><path stroke="#A4A500" d="M635.6 209.9h0M675.7 199.1h0"/><path stroke="#00BE71" d="M510.9 251.2h0M562.2 247.0h0"/><path stroke="#99A800" d="M509.3 266.6h0M607.1 201.9h0"/><path stroke="#00BA37" d="M495.2 271.5h0M550.7 232.3h0"/><path stroke="#F57A5F" d="M350.3 353.2h0M440.2 284.9h0"/><path stroke="#00BA38" d="M731.8 200.1h0M815.2 162.6h0"/><path stroke="#C39A00" d="M423.2 303.4h0M507.1 260.5h0"/><path stroke="#96A900" d="M473.9 270.3h0M555.2 241.4h0"/><path stroke="#C89800" d="M576.8 268.1h0M636.0 234.0h0"/><path stroke="#00BA38" d="M311.0 433.0h0M360.0 411.7h0"/><path stroke="#BE9C00" d="M418.2 310.3h0M494.6 275.8h0"/><path stroke="#74B000" d="M487.0 288.2h0M582.0 264.1h0"/><path stroke="#00C08B" d="M725.2 204.7h0M769.7 199.8h0"/><path stroke="#6FB000" d="M578.0 197.0h0M650.8 185.6h0"/><path stroke="#00BC4F" d="M479.5 297.7h0M519.4 301.0h0"/><path stroke="#00C08B" d="M480.0 347.7h0M506.3 346.6h0"/><path stroke="#00BF7F" d="M430.1 300.8h0M529.1 256.1h0"/><path stroke="#76AF00" d="M462.4 336.4h0M531.6 276.6h0"/><path stroke="#F8766D" d="M147.5 432.6h0M208.0 401.8h0"/><path stroke="#E18A00" d="M390.1 345.1h0M482.2 287.3h0"/><path stroke="#7DAE00" d="M289.1 415.3h0M390.2 368.3h0"/><path stroke="#53B400" d="M387.4 303.1h0M465.7 225.2h0"/><path stroke="#00BD5E" d="M516.4 303.7h0M616.6 260.5h0"/><path stroke="#B3A000" d="M414.4 332.6h0M484.3 287.5h0"/><path stroke="#ADA200" d="M421.6 326.5h0M464.3 296.0h0"/><path stroke="#E58700" d="M190.7 455.7h0M281.9 443.5h0M320.0 415.0h0"/><path stroke="#00BE67" d="M458.8 314.5h0M555.6 272.6h0"/><path stroke="#00C093" d="M326.8 400.7h0M423.5 320.5h0"/><path stroke="#EC823A" d="M250.6 389.0h0M290.3 392.4h0"/><path stroke="#A6A500" d="M678.3 217.1h0M756.2 170.7h0"/><path stroke="#00BC59" d="M450.4 341.8h0M533.3 285.2h0"/><path stroke="#34B600" d="M412.8 328.9h0M436.7 292.0h0M480.8 296.9h0"/><path stroke="#A0A600" d="M215.9 435.0h0M265.0 422.1h0"/><path stroke="#85AD00" d="M356.1 391.6h0M385.8 392.9h0M425.4 379.9h0"/><path stroke="#00C08A" d="M423.9 368.2h0M503.8 293.4h0"/><path stroke="#00C1A3" d="M475.3 258.0h0M523.2 248.0h0"/><path stroke="#43B500" d="M402.3 369.8h0M452.0 316.2h0"/><path stroke="#DE8C00" d="M615.6 266.4h0M661.0 230.0h0"/><path stroke="#DF8B00" d="M406.7 338.9h0M436.3 308.5h0M453.2 303.5h0"/><path stroke="#B79F00" d="M562.6 235.6h0M642.2 215.4h0"/><path stroke="#AFA200" d="M387.4 324.6h0M488.5 299.8h0"/><path stroke="#00BE67" d="M183.7 529.6h0M271.7 466.4h0"/><path stroke="#00C0B7" d="M418.7 336.5h0M520.3 332.5h0"/><path stroke="#00C1AB" d="M650.0 232.6h0M670.2 239.5h0M703.4 225.1h0"/><path stroke="#E58700" d="M690.5 175.0h0M770.1 138.2h0"/><path stroke="#00C0BD" d="M413.4 347.9h0M512.0 262.2h0"/><path stroke="#00B930" d="M374.9 332.3h0M460.6 310.4h0"/><path stroke="#00C0B1" d="M388.6 340.5h0M449.1 295.8h0"/><path stroke="#D98F00" d="M409.3 320.9h0M446.9 292.0h0"/><path stroke="#90AA00" d="M575.5 252.3h0M628.2 243.3h0"/><path stroke="#D49200" d="M319.7 389.0h0M361.0 354.9h0"/><path stroke="#00BFC4" d="M245.8 360.9h0M297.3 344.2h0"/><path stroke="#00B822" d="M460.9 293.2h0M560.2 231.8h0"/><path stroke="#ACA300" d="M595.3 219.3h0M649.0 187.8h0"/><path stroke="#CB9600" d="M406.1 312.3h0M503.8 279.2h0"/><path stroke="#00C19A" d="M593.7 240.5h0M693.0 181.2h0"/><path stroke="#00C085" d="M697.0 249.1h0M713.6 246.5h0M742.1 220.8h0"/><path stroke="#00BD65" d="M299.8 362.9h0M338.2 343.9h0"/><path stroke="#00C1AC" d="M221.8 422.4h0M304.7 378.6h0"/><path stroke="#00C0AF" d="M495.4 289.0h0M575.3 244.3h0"/><path stroke="#00BFC6" d="M285.9 353.5h0M327.7 348.4h0"/><path stroke="#52B400" d="M393.3 295.7h0M459.8 267.0h0"/><path stroke="#27B700" d="M450.9 284.8h0M503.5 264.6h0M542.4 244.8h0"/><path stroke="#83AD00" d="M397.7 340.6h0M414.7 318.1h0M436.2 333.5h0"/><path stroke="#00B70A" d="M342.7 373.4h0M406.8 353.3h0"/><path stroke="#00BB44" d="M536.1 298.8h0M581.2 276.4h0"/><path stroke="#6CB100" d="M543.4 230.9h0M624.3 200.4h0"/><path stroke="#00B9E2" d="M436.1 321.5h0M478.9 293.6h0"/><path stroke="#9CA700" d="M465.8 334.3h0M502.7 328.0h0"/><path stroke="#A3A500" d="M311.2 421.6h0M357.8 452.5h0"/><path stroke="#00BECE" d="M365.5 354.6h0M402.2 333.4h0"/><path stroke="#3EB500" d="M462.6 290.2h0M561.6 218.9h0"/><path stroke="#00BD60" d="M270.0 420.8h0M340.5 360.3h0"/><path stroke="#00BECF" d="M439.3 313.4h0M490.9 279.7h0M535.4 258.1h0"/><path stroke="#C29A00" d="M295.3 448.7h0M383.1 393.2h0"/><path stroke="#7FAE00" d="M335.6 337.6h0M429.7 309.9h0"/><path stroke="#A7A400" d="M219.6 410.4h0M301.0 400.2h0"/><path stroke="#8DAB00" d="M428.7 349.1h0M494.9 319.6h0"/><path stroke="#89AC00" d="M351.4 310.1h0M451.2 284.9h0"/><path stroke="#00BB4C" d="M334.4 362.4h0M404.9 336.8h0"/><path stroke="#00B8E6" d="M461.3 290.0h0M496.2 252.0h0M531.0 258.4h0"/><path stroke="#00BE69" d="M478.5 327.6h0M556.5 284.9h0"/><path stroke="#B59F00" d="M555.0 281.7h0M655.0 206.2h0"/><path stroke="#87AC00" d="M402.2 294.0h0M438.0 287.2h0"/><path stroke="#00BECB" d="M478.2 283.6h0M508.7 260.6h0M527.4 237.3h0"/><path stroke="#00B6EB" d="M542.5 263.5h0M596.5 260.4h0"/><path stroke="#00C097" d="M409.2 317.4h0M423.4 303.5h0M447.7 292.2h0"/><path stroke="#00B9E3" d="M597.2 242.6h0M639.0 235.0h0"/><path stroke="#BB9D00" d="M416.6 326.5h0M515.0 288.5h0"/><path stroke="#00BA38" d="M591.4 173.0h0M621.9 179.6h0"/><path stroke="#B99E00" d="M253.0 409.3h0M280.5 406.2h0M318.1 393.0h0"/><path stroke="#00C08B" d="M143.3 500.1h0M230.0 443.2h0"/><path stroke="#00BFC9" d="M509.1 297.5h0M582.4 242.8h0"/><path stroke="#00A9FF" d="M748.3 167.6h0M779.2 151.5h0"/><path stroke="#00BECD" d="M580.3 248.1h0M670.5 201.0h0"/><path stroke="#00BD62" d="M245.9 439.5h0M329.5 389.3h0"/><path stroke="#00BE6D" d="M480.5 265.7h0M531.1 253.9h0"/><path stroke="#00C08E" d="M335.4 382.7h0M394.4 345.9h0"/><path stroke="#00BA38" d="M210.4 461.7h0M280.3 436.9h0"/><path stroke="#00B815" d="M242.6 418.0h0M333.8 357.9h0"/><path stroke="#00BF79" d="M222.6 384.9h0M303.7 351.3h0"/><path stroke="#00C0B3" d="M318.5 343.2h0M370.5 299.7h0"/><path stroke="#00C0BA" d="M288.4 420.3h0M388.7 348.5h0"/><path stroke="#00BC52" d="M509.5 275.1h0M587.0 283.7h0"/><path stroke="#00BADF" d="M306.2 336.8h0M370.2 314.6h0"/><path stroke="#00BF77" d="M309.1 373.1h0M332.0 357.9h0M359.9 360.7h0"/><path stroke="#00B927" d="M516.3 261.0h0M593.9 252.8h0"/><path stroke="#00BF7B" d="M416.2 294.4h0M465.6 273.5h0"/><path stroke="#00C1A9" d="M207.3 398.6h0M279.7 374.9h0"/><path stroke="#00B1F6" d="M481.0 312.5h0M555.6 305.6h0"/><path stroke="#A1A600" d="M464.1 289.8h0M515.6 287.4h0"/><path stroke="#00C090" d="M691.8 204.4h0M741.3 174.1h0"/><path stroke="#71B000" d="M304.5 416.2h0M324.4 380.6h0M355.5 373.2h0"/><path stroke="#00BBDB" d="M390.3 348.8h0M428.7 326.0h0"/><path stroke="#67B100" d="M404.1 320.4h0M488.8 246.2h0"/><path stroke="#00C083" d="M339.3 340.8h0M384.8 327.7h0"/><path stroke="#00BA3B" d="M415.0 308.7h0M470.7 263.8h0"/><path stroke="#00BBDC" d="M209.3 431.7h0M247.6 407.5h0"/><path stroke="#00BFC7" d="M379.3 363.2h0M442.3 305.8h0"/><path stroke="#00B92B" d="M269.4 400.7h0M308.4 403.3h0"/><path stroke="#00B6EA" d="M437.6 326.3h0M482.0 309.1h0M535.1 249.8h0"/><path stroke="#00B8E7" d="M477.2 315.2h0M569.8 248.3h0"/><path stroke="#00BA38" d="M186.0 484.8h0M239.5 455.7h0"/><path stroke="#00BA3E" d="M573.4 261.9h0M620.2 242.9h0"/><path stroke="#78AF00" d="M400.6 291.8h0M485.0 253.3h0"/><path stroke="#6F99FF" d="M612.6 204.6h0M709.0 217.0h0"/><path stroke="#00C0B4" d="M551.7 204.0h0M625.8 195.6h0"/><path stroke="#00BF81" d="M305.9 398.8h0M369.4 361.8h0"/><path stroke="#00BDD3" d="M490.8 331.6h0M534.9 298.4h0"/><path stroke="#00BA38" d="M697.1 235.3h0M748.3 167.6h0"/><path stroke="#00B6EC" d="M451.2 338.3h0M548.0 247.9h0"/><path stroke="#00C095" d="M444.7 294.5h0M507.7 283.5h0"/><path stroke="#00C08B" d="M573.7 276.4h0M681.7 262.9h0"/><path stroke="#00BCD9" d="M455.5 306.3h0M505.7 262.6h0"/><path stroke="#59B300" d="M420.8 331.1h0M447.8 335.2h0M494.2 295.9h0"/><path stroke="#00BC57" d="M510.4 258.7h0M609.5 211.3h0"/><path stroke="#988FFF" d="M447.2 338.0h0M506.0 303.8h0"/><path stroke="#00C092" d="M472.0 269.1h0M511.0 265.9h0"/><path stroke="#00ACFC" d="M604.2 201.8h0M633.1 199.4h0M657.5 183.3h0"/><path stroke="#31A2FF" d="M467.8 287.3h0M504.6 293.2h0"/><path stroke="#00B5ED" d="M607.3 251.5h0M676.6 198.0h0"/><path stroke="#5FB200" d="M270.9 443.2h0M357.6 369.0h0"/><path stroke="#00AFF7" d="M424.8 360.9h0M494.6 322.1h0"/><path stroke="#00A6FF" d="M260.5 419.5h0M326.2 377.0h0"/><path stroke="#00A8FF" d="M477.6 259.1h0M567.4 206.9h0"/><path stroke="#00BFC4" d="M543.4 330.6h0M598.9 280.3h0"/><path stroke="#00C0B6" d="M545.9 295.0h0M597.0 248.3h0"/><path stroke="#00C1A4" d="M502.1 296.4h0M578.2 267.4h0"/><path stroke="#00C08B" d="M695.4 216.6h0M736.7 216.6h0"/><path stroke="#00C19F" d="M311.4 397.8h0M378.7 368.3h0"/><path stroke="#56B300" d="M337.6 381.9h0M417.9 311.7h0"/><path stroke="#00B934" d="M647.0 189.3h0M691.2 184.0h0"/><path stroke="#9D8DFF" d="M553.9 252.5h0M622.8 227.8h0"/><path stroke="#00A4FF" d="M460.9 299.2h0M542.8 268.1h0"/><path stroke="#00C1A6" d="M266.8 379.6h0M326.5 351.7h0"/><path stroke="#00C08C" d="M398.5 290.8h0M456.3 277.1h0"/><path stroke="#39B600" d="M211.6 418.4h0M294.1 360.8h0"/><path stroke="#00BA41" d="M661.5 232.7h0M730.2 198.5h0"/><path stroke="#9590FF" d="M543.1 245.7h0M611.5 188.1h0"/><path stroke="#00C087" d="M594.4 251.6h0M678.8 211.9h0"/><path stroke="#00C089" d="M298.1 389.6h0M355.7 377.1h0"/><path stroke="#8993FF" d="M404.7 316.5h0M469.4 283.3h0"/><path stroke="#00C1AE" d="M301.4 420.1h0M381.8 358.0h0"/><path stroke="#00BCD6" d="M541.7 281.8h0M632.1 194.7h0"/><path stroke="#00B0F6" d="M451.3 287.6h0M496.9 256.0h0"/><path stroke="#00ABFD" d="M337.8 363.3h0M403.0 356.0h0"/><path stroke="#00BFC4" d="M464.0 344.3h0M489.7 355.7h0"/><path stroke="#00BAE0" d="M489.5 325.4h0M524.2 299.5h0M554.3 281.1h0"/><path stroke="#00BFC0" d="M468.0 314.7h0M520.7 258.1h0"/><path stroke="#A58AFF" d="M458.0 311.6h0M497.0 275.5h0M552.7 250.4h0"/><path stroke="#00C1A7" d="M292.4 408.1h0M378.1 329.2h0"/><path stroke="#CA7BFF" d="M303.8 435.0h0M389.3 360.2h0"/><path stroke="#639CFF" d="M490.4 328.8h0M506.8 296.6h0M535.6 306.6h0"/><path stroke="#00AEFA" d="M484.0 312.7h0M533.3 282.9h0"/><path stroke="#00BCD7" d="M344.1 397.8h0M394.5 357.4h0"/><path stroke="#00C19E" d="M337.4 372.6h0M415.2 326.1h0"/><path stroke="#CD79FF" d="M362.9 351.5h0M443.7 321.0h0"/><path stroke="#00BBDD" d="M501.9 272.4h0M574.1 258.8h0"/><path stroke="#A08CFF" d="M581.6 264.7h0M663.6 253.6h0"/><path stroke="#00A6FF" d="M455.1 327.1h0M491.3 314.1h0"/><path stroke="#A38BFF" d="M512.0 276.2h0M571.4 259.1h0"/><path stroke="#00BF75" d="M449.2 312.2h0M529.7 278.7h0"/><path stroke="#B684FF" d="M399.2 385.2h0M447.7 352.5h0"/><path stroke="#00ACFB" d="M522.0 225.9h0M615.6 193.3h0"/><path stroke="#00BE6B" d="M226.3 444.4h0M296.8 419.1h0"/><path stroke="#00BE6F" d="M346.7 332.3h0M413.0 315.9h0"/><path stroke="#41A0FF" d="M326.8 403.3h0M384.4 384.6h0"/><path stroke="#00BF7D" d="M303.7 396.1h0M393.9 333.5h0"/><path stroke="#00C19C" d="M406.0 299.9h0M437.1 270.2h0M460.0 246.4h0"/><path stroke="#E66CF4" d="M590.3 241.6h0M663.4 197.2h0"/><path stroke="#00A7FF" d="M414.5 295.5h0M509.3 224.5h0"/><path stroke="#00BBDA" d="M367.5 336.9h0M428.7 316.9h0"/><path stroke="#00BFC4" d="M170.3 469.6h0M240.0 410.0h0"/><path stroke="#6B9AFF" d="M306.9 402.3h0M396.9 338.5h0"/><path stroke="#8F91FF" d="M638.7 237.6h0M680.5 221.4h0"/><path stroke="#00A9FF" d="M467.2 356.3h0M543.3 290.1h0"/><path stroke="#C27EFF" d="M265.0 347.9h0M307.9 328.6h0"/><path stroke="#00C098" d="M417.0 331.7h0M512.4 265.7h0"/><path stroke="#00AEF9" d="M499.9 310.5h0M550.5 281.2h0"/><path stroke="#00C0B9" d="M506.8 289.0h0M549.1 265.3h0M603.3 248.9h0"/><path stroke="#00AAFD" d="M543.3 251.5h0M595.6 221.9h0"/><path stroke="#7E96FF" d="M355.8 350.5h0M383.1 348.1h0M419.7 345.8h0"/><path stroke="#00BF73" d="M347.1 356.4h0M429.7 315.8h0"/><path stroke="#00C0BC" d="M247.0 425.0h0M307.4 365.4h0"/><path stroke="#00C1A1" d="M365.8 388.3h0M430.1 333.6h0"/><path stroke="#00B7E9" d="M169.0 465.3h0M265.6 392.6h0"/><path stroke="#D973FC" d="M420.0 329.3h0M518.2 275.2h0"/><path stroke="#00A9FF" d="M675.6 184.9h0M754.9 149.4h0"/><path stroke="#EA69F0" d="M368.9 354.8h0M432.9 357.6h0"/><path stroke="#48A0FF" d="M610.8 184.4h0M688.4 149.4h0"/><path stroke="#00BECA" d="M398.9 313.3h0M492.0 264.5h0"/><path stroke="#BC81FF" d="M527.9 241.3h0M612.0 190.6h0"/><path stroke="#00BDD5" d="M410.5 352.7h0M453.1 313.9h0M478.3 300.4h0"/><path stroke="#F763E0" d="M445.5 298.8h0M514.4 260.2h0"/><path stroke="#E76BF3" d="M171.9 436.4h0M223.7 438.4h0"/><path stroke="#EC69EF" d="M565.6 245.7h0M620.0 219.1h0"/><path stroke="#00BFC4" d="M505.6 300.5h0M545.6 273.5h0"/><path stroke="#00AFF8" d="M308.0 374.8h0M335.7 346.5h0M387.1 301.0h0"/><path stroke="#00A9FF" d="M595.3 273.3h0M631.8 254.3h0"/><path stroke="#00A5FF" d="M310.6 399.3h0M348.9 355.5h0"/><path stroke="#BE80FF" d="M682.2 205.7h0M724.6 187.4h0"/><path stroke="#E76BF3" d="M336.5 346.3h0M426.6 306.9h0"/><path stroke="#DD71FA" d="M277.2 385.3h0M326.9 363.8h0"/><path stroke="#7797FF" d="M507.2 260.4h0M585.1 264.6h0"/><path stroke="#619CFF" d="M186.0 497.9h0M239.5 457.3h0"/><path stroke="#D774FD" d="M452.6 314.8h0M524.4 291.9h0"/><path stroke="#BA82FF" d="M375.3 344.2h0M445.7 315.8h0"/><path stroke="#00AAFE" d="M466.5 324.9h0M529.2 285.6h0"/><path stroke="#FC61D5" d="M396.5 337.4h0M469.0 282.1h0"/><path stroke="#AF86FF" d="M397.0 336.0h0M488.7 270.7h0"/><path stroke="#ED68EE" d="M479.3 270.3h0M546.9 261.2h0"/><path stroke="#679BFF" d="M319.3 413.8h0M363.9 382.3h0M404.0 361.7h0"/><path stroke="#F066EA" d="M342.9 377.9h0M422.2 332.7h0"/><path stroke="#00A9FF" d="M297.3 320.0h0M371.0 299.1h0"/><path stroke="#C07FFF" d="M470.7 292.7h0M535.3 284.3h0"/><path stroke="#FF61C3" d="M343.2 387.4h0M396.1 367.6h0"/><path stroke="#00A9FF" d="M508.6 314.6h0M598.9 315.7h0"/><path stroke="#00B8E5" d="M565.0 281.0h0M606.2 248.1h0"/><path stroke="#00C0BF" d="M601.3 297.5h0M678.2 250.6h0"/><path stroke="#EF67EB" d="M622.6 237.9h0M650.1 221.1h0M700.4 211.2h0"/><path stroke="#8594FF" d="M542.3 283.8h0M634.6 220.1h0"/><path stroke="#7398FF" d="M296.8 405.9h0M322.9 378.6h0M340.0 400.6h0"/><path stroke="#FF63B7" d="M599.8 233.7h0M624.9 237.5h0M644.1 220.0h0"/><path stroke="#4E9FFF" d="M538.5 297.7h0M630.0 226.2h0"/><path stroke="#00A9FF" d="M725.2 180.0h0M813.8 157.2h0"/><path stroke="#39A1FF" d="M630.3 189.8h0M715.4 176.0h0"/><path stroke="#00BFC2" d="M478.0 311.8h0M500.1 309.8h0M527.3 291.0h0"/><path stroke="#DE70F9" d="M428.7 262.7h0M529.8 224.0h0"/><path stroke="#00B4F0" d="M386.6 391.1h0M464.6 343.2h0"/><path stroke="#00B5EE" d="M284.5 370.8h0M330.9 358.4h0"/><path stroke="#9290FF" d="M190.3 467.8h0M239.5 432.6h0"/><path stroke="#00BFC3" d="M459.5 285.7h0M508.8 266.0h0"/><path stroke="#FF64AF" d="M442.1 314.9h0M521.0 275.5h0"/><path stroke="#00BDD1" d="M367.2 367.0h0M421.7 353.1h0"/><path stroke="#26A3FF" d="M553.6 200.2h0M606.9 199.2h0"/><path stroke="#E16FF7" d="M372.5 344.6h0M454.6 319.2h0"/><path stroke="#00B7E8" d="M407.7 345.7h0M497.6 296.0h0"/><path stroke="#B385FF" d="M377.9 355.7h0M444.3 337.5h0"/><path stroke="#FE61CE" d="M393.2 346.5h0M415.9 343.8h0M448.9 328.6h0"/><path stroke="#00BDD2" d="M422.9 304.8h0M465.9 282.2h0"/><path stroke="#FF62BA" d="M525.3 251.5h0M575.1 222.6h0"/><path stroke="#16A4FF" d="M411.5 320.8h0M476.2 284.6h0"/><path stroke="#FF61C5" d="M369.8 352.5h0M460.2 309.3h0"/><path stroke="#00BAE1" d="M440.6 265.0h0M528.1 262.6h0"/><path stroke="#CF78FF" d="M234.5 407.3h0M291.0 387.9h0"/><path stroke="#DA72FB" d="M488.9 283.3h0M560.5 258.1h0"/><path stroke="#00B2F3" d="M395.7 389.2h0M469.7 318.1h0"/><path stroke="#00ADFB" d="M583.4 252.7h0M635.3 260.1h0"/><path stroke="#FF62BF" d="M523.0 254.7h0M597.0 227.6h0"/><path stroke="#E76BF3" d="M703.7 149.4h0M650.0 222.0h0"/><path stroke="#00B3F1" d="M298.0 403.2h0M392.3 330.1h0"/><path stroke="#FF65AC" d="M425.8 317.0h0M457.1 295.6h0M493.8 278.9h0"/><path stroke="#FC727E" d="M539.0 289.9h0M612.4 226.2h0"/><path stroke="#5E9CFF" d="M203.6 484.7h0M246.5 455.2h0"/><path stroke="#FF65AD" d="M351.6 392.0h0M435.8 296.8h0"/><path stroke="#549EFF" d="M409.4 320.6h0M474.2 270.5h0"/><path stroke="#C77CFF" d="M329.9 296.9h0M436.1 261.6h0"/><path stroke="#00B2F4" d="M734.8 183.5h0M799.9 160.7h0"/><path stroke="#00B3F2" d="M378.8 377.6h0M456.3 299.0h0"/><path stroke="#F8766F" d="M366.9 358.5h0M432.4 317.1h0"/><path stroke="#C87CFF" d="M504.1 269.2h0M566.7 220.0h0"/><path stroke="#FE6E8B" d="M593.9 273.8h0M664.3 223.1h0"/><path stroke="#AD87FF" d="M374.9 357.4h0M460.6 309.6h0"/><path stroke="#8C92FF" d="M397.4 334.1h0M479.9 305.4h0"/><path stroke="#FF699C" d="M326.6 375.2h0M390.4 300.7h0"/><path stroke="#FB737A" d="M535.4 247.7h0M557.0 243.2h0M588.0 198.4h0"/><path stroke="#F265E7" d="M551.5 237.1h0M639.8 247.3h0"/><path stroke="#00B4EF" d="M473.7 315.3h0M561.5 268.2h0"/><path stroke="#FF66A8" d="M482.2 307.4h0M560.7 248.3h0"/><path stroke="#C47DFF" d="M525.2 304.2h0M613.5 262.9h0"/><path stroke="#FC61D3" d="M473.2 254.2h0M542.4 223.6h0"/><path stroke="#F862DE" d="M284.9 424.3h0M376.5 336.4h0"/><path stroke="#00B1F5" d="M604.9 279.2h0M657.5 237.6h0"/><path stroke="#FF62BC" d="M433.5 329.1h0M500.8 284.3h0"/><path stroke="#E76BF3" d="M716.1 113.9h0M800.3 88.0h0"/><path stroke="#C77CFF" d="M636.8 161.3h0M704.5 148.6h0M749.9 136.7h0"/><path stroke="#E46DF6" d="M607.1 253.7h0M668.8 241.3h0"/><path stroke="#FF63B9" d="M192.1 496.5h0M273.3 399.8h0"/><path stroke="#FF6C91" d="M374.3 360.2h0M423.8 345.1h0"/><path stroke="#B883FF" d="M457.4 301.2h0M503.5 290.0h0"/><path stroke="#FF61C3" d="M548.3 195.1h0M602.1 140.8h0"/><path stroke="#F962DC" d="M366.6 361.0h0M420.5 329.4h0M466.1 294.7h0"/><path stroke="#EE68ED" d="M372.2 401.2h0M469.6 333.0h0"/><path stroke="#599DFF" d="M399.5 343.9h0M447.5 302.8h0M476.6 274.3h0"/><path stroke="#8295FF" d="M470.1 329.2h0M553.3 260.3h0"/><path stroke="#F663E1" d="M446.4 295.5h0M486.1 264.3h0"/><path stroke="#E26EF7" d="M451.4 274.3h0M549.5 250.3h0"/><path stroke="#CC7AFF" d="M481.3 291.8h0M565.0 253.7h0"/><path stroke="#FF61C3" d="M556.6 313.4h0M598.9 284.9h0"/><path stroke="#D276FF" d="M424.5 319.4h0M490.4 282.7h0"/><path stroke="#7B97FF" d="M413.6 325.4h0M455.9 314.7h0"/><path stroke="#FB727C" d="M203.7 433.5h0M290.3 355.0h0"/><path stroke="#619CFF" d="M491.4 335.7h0M536.0 339.9h0"/><path stroke="#FF6B95" d="M478.0 300.7h0M566.7 268.7h0"/><path stroke="#DC72FB" d="M301.5 359.9h0M371.9 319.3h0"/><path stroke="#A889FF" d="M397.0 327.7h0M492.5 294.9h0"/><path stroke="#FD6F86" d="M366.8 338.7h0M405.5 319.3h0"/><path stroke="#F97571" d="M290.2 415.4h0M389.5 393.8h0"/><path stroke="#FF63B5" d="M532.9 289.6h0M617.3 214.0h0"/><path stroke="#FA61D9" d="M446.0 318.5h0M529.4 275.2h0"/><path stroke="#E96AF1" d="M623.9 225.5h0M683.1 193.4h0"/><path stroke="#D675FE" d="M530.5 309.4h0M617.9 253.1h0"/><path stroke="#FF61CC" d="M415.3 281.2h0M491.5 233.6h0"/><path stroke="#9A8EFF" d="M427.8 332.7h0M526.2 233.5h0"/><path stroke="#FF6A9A" d="M447.3 275.3h0M538.4 217.6h0"/><path stroke="#FF64B2" d="M548.6 262.6h0M631.4 237.9h0"/><path stroke="#FF6A98" d="M625.2 161.0h0M703.7 198.1h0"/><path stroke="#E06FF8" d="M332.5 374.1h0M362.1 364.4h0M394.8 343.3h0"/><path stroke="#FF61C9" d="M349.1 325.6h0M424.4 266.4h0"/><path stroke="#B186FF" d="M477.1 275.5h0M524.1 235.7h0"/><path stroke="#FF6A97" d="M478.9 264.3h0M575.3 192.2h0"/><path stroke="#F166E8" d="M264.0 442.0h0M315.2 412.7h0"/><path stroke="#FA7476" d="M185.3 446.2h0M236.2 414.4h0M281.4 396.3h0"/><path stroke="#F962DB" d="M562.3 273.8h0M643.4 215.5h0"/><path stroke="#FC7180" d="M207.1 441.3h0M308.6 400.3h0"/><path stroke="#C67DFF" d="M446.3 334.2h0M524.0 273.8h0"/><path stroke="#C77CFF" d="M194.7 414.9h0M228.4 398.4h0"/><path stroke="#D177FF" d="M408.2 336.5h0M495.8 274.3h0"/><path stroke="#E86BF2" d="M540.7 251.4h0M596.0 215.7h0"/><path stroke="#FF62C0" d="M485.2 343.5h0M523.6 318.7h0"/><path stroke="#F564E3" d="M520.7 247.7h0M574.0 246.9h0"/><path stroke="#AA88FF" d="M480.1 281.2h0M546.4 270.4h0"/><path stroke="#FF67A5" d="M542.5 258.4h0M577.9 256.1h0M597.7 251.4h0"/><path stroke="#C77CFF" d="M649.2 177.0h0M703.7 149.4h0"/><path stroke="#FF6C93" d="M279.2 392.4h0M376.8 337.1h0"/><path stroke="#D476FE" d="M531.7 242.5h0M612.3 212.0h0"/><path stroke="#FF61C8" d="M537.0 232.1h0M603.2 236.7h0"/><path stroke="#FF66AA" d="M282.2 406.6h0M327.6 395.1h0"/><path stroke="#FF67A3" d="M467.4 261.9h0M543.3 207.7h0"/><path stroke="#F763DF" d="M337.2 370.7h0M373.3 361.9h0"/><path stroke="#FD6F88" d="M554.8 246.9h0M614.6 245.1h0"/><path stroke="#F365E6" d="M605.6 285.5h0M681.7 242.1h0"/><path stroke="#E56DF5" d="M594.1 228.9h0M683.6 216.7h0"/><path stroke="#FD61D0" d="M381.1 361.6h0M436.7 291.9h0"/><path stroke="#EF67EC" d="M620.8 223.8h0M716.7 181.0h0"/><path stroke="#FF61C3" d="M238.4 346.3h0M329.9 296.9h0"/><path stroke="#FA7378" d="M233.2 402.1h0M272.3 377.2h0"/><path stroke="#FF66A7" d="M289.4 461.6h0M387.9 385.5h0"/><path stroke="#FE6D8D" d="M609.7 238.5h0M696.7 203.2h0"/><path stroke="#FD7084" d="M418.2 285.0h0M461.0 257.7h0"/><path stroke="#F564E4" d="M313.3 351.8h0M384.3 333.5h0"/><path stroke="#FF63B4" d="M592.8 297.1h0M675.9 231.6h0"/><path stroke="#FD61D2" d="M332.8 368.9h0M433.3 303.9h0"/><path stroke="#FB61D7" d="M408.4 368.7h0M501.4 344.1h0"/><path stroke="#FF62BD" d="M525.2 314.9h0M600.2 283.4h0"/><path stroke="#FF61C2" d="M379.3 342.2h0M457.6 312.0h0"/><path stroke="#F464E5" d="M565.9 307.6h0M657.3 252.3h0"/><path stroke="#FA62DA" d="M449.5 322.5h0M550.4 292.3h0"/><path stroke="#FC61D6" d="M251.5 414.0h0M301.3 387.3h0"/><path stroke="#FF68A0" d="M500.3 289.3h0M581.5 275.8h0"/><path stroke="#FF61CB" d="M543.0 288.0h0M619.7 257.6h0"/><path stroke="#FE61CF" d="M502.4 307.4h0M552.2 306.8h0M590.2 291.5h0"/><path stroke="#FF61C3" d="M569.5 286.2h0M654.2 273.5h0"/><path stroke="#FF68A1" d="M343.4 380.6h0M419.1 325.6h0"/><path stroke="#FF61C6" d="M284.1 419.8h0M322.3 393.1h0"/><path stroke="#FF6D8F" d="M321.8 384.8h0M410.1 302.8h0"/><path stroke="#FF64B1" d="M497.1 239.2h0M549.7 234.0h0"/><path stroke="#FF699E" d="M360.3 359.3h0M449.7 336.6h0"/><path stroke="#F97473" d="M488.7 295.1h0M532.4 282.6h0"/><path stroke="#FF6A98" d="M405.0 331.4h0M478.7 308.8h0"/><path stroke="#FE6E8A" d="M296.4 410.2h0M344.7 377.7h0"/><path stroke="#FC7082" d="M501.1 303.8h0M559.7 281.5h0"/></g></g>
<g stroke="#333333" stroke-width="2.7"><line x1="100.20" x2="108" y1="539.92" y2="539.92"/><line x1="100.20" x2="108" y1="405.28" y2="405.28"/><line x1="100.20" x2="108" y1="270.64" y2="270.64"/><line x1="100.20" x2="108" y1="136.00" y2="136.00"/><line x1="159.00" x2="159.00" y1="551.5" y2="559.30"/><line x1="363.24" x2="363.24" y1="551.5" y2="559.30"/><line x1="567.48" x2="567.48" y1="551.5" y2="559.30"/><line x1="771.72" x2="771.72" y1="551.5" y2="559.30"/></g>
<g font-size="30.3" fill="#000"><text x="88.4" y="549.4" text-anchor="end" textLength="32.58" lengthAdjust="spacingAndGlyphs">20</text><text x="88.4" y="414.8" text-anchor="end" textLength="32.58" lengthAdjust="spacingAndGlyphs">40</text><text x="88.4" y="280.1" text-anchor="end" textLength="32.58" lengthAdjust="spacingAndGlyphs">60</text><text x="88.4" y="145.5" text-anchor="end" textLength="32.58" lengthAdjust="spacingAndGlyphs">80</text><text x="159.0" y="592.7" text-anchor="middle" textLength="32.58" lengthAdjust="spacingAndGlyphs">20</text><text x="363.2" y="592.7" text-anchor="middle" textLength="32.58" lengthAdjust="spacingAndGlyphs">40</text><text x="567.5" y="592.7" text-anchor="middle" textLength="32.58" lengthAdjust="spacingAndGlyphs">60</text><text x="771.7" y="592.7" text-anchor="middle" textLength="32.58" lengthAdjust="spacingAndGlyphs">80</text></g>
<text x="478.5" y="634.5" font-size="30.3" text-anchor="middle" textLength="51.96" lengthAdjust="spacingAndGlyphs">Age</text>
<text transform="translate(24.2,307.9) rotate(-90)" font-size="29.4" text-anchor="middle" textLength="137.9" lengthAdjust="spacingAndGlyphs">DNAmAge</text>
<text x="157.5" y="45.0" font-size="34.5" textLength="159.6" lengthAdjust="spacingAndGlyphs">DNAmAge</text>
<rect x="1009" y="67.3" width="740.5" height="484.2" fill="#EBEBEB"/>
<g stroke="#FFFFFF" clip-path="url(#clipb)"><line x1="1009" x2="1749.5" y1="483.45" y2="483.45" stroke-width="2.0" stroke="#F7F7F7"/><line x1="1009" x2="1749.5" y1="344.55" y2="344.55" stroke-width="2.0" stroke="#F7F7F7"/><line x1="1009" x2="1749.5" y1="205.65" y2="205.65" stroke-width="2.0" stroke="#F7F7F7"/><line x1="1009" x2="1749.5" y1="66.75" y2="66.75" stroke-width="2.0" stroke="#F7F7F7"/><line x1="1162.58" x2="1162.58" y1="67.3" y2="551.5" stroke-width="2.0" stroke="#F7F7F7"/><line x1="1366.54" x2="1366.54" y1="67.3" y2="551.5" stroke-width="2.0" stroke="#F7F7F7"/><line x1="1570.50" x2="1570.50" y1="67.3" y2="551.5" stroke-width="2.0" stroke="#F7F7F7"/><line x1="1009" x2="1749.5" y1="414.00" y2="414.00" stroke-width="2.9"/><line x1="1009" x2="1749.5" y1="275.10" y2="275.10" stroke-width="2.9"/><line x1="1009" x2="1749.5" y1="136.20" y2="136.20" stroke-width="2.9"/><line x1="1060.60" x2="1060.60" y1="67.3" y2="551.5" stroke-width="2.9"/><line x1="1264.56" x2="1264.56" y1="67.3" y2="551.5" stroke-width="2.9"/><line x1="1468.52" x2="1468.52" y1="67.3" y2="551.5" stroke-width="2.9"/><line x1="1672.48" x2="1672.48" y1="67.3" y2="551.5" stroke-width="2.9"/></g>
<g clip-path="url(#clipb)" fill="none" stroke-linecap="butt" stroke-linejoin="round"><g stroke-width="2.1"><path stroke="#F67964" d="M1376.6 360.8L1438.6 335.6"/><path stroke="#F27C55" d="M1301.7 326.2L1375.5 273.2"/><path stroke="#F47A5D" d="M1262.5 424.8L1289.0 421.5L1334.5 375.8"/><path stroke="#F77768" d="M1316.7 322.6L1336.0 296.0L1357.1 261.1"/><path stroke="#EE8041" d="M1286.4 303.5L1387.9 251.1"/><path stroke="#E58700" d="M1177.9 450.9L1214.7 432.9"/><path stroke="#E88526" d="M1211.8 345.6L1263.0 280.5"/><path stroke="#DB8E00" d="M1437.1 323.2L1529.3 269.0"/><path stroke="#EF7F47" d="M1233.6 408.5L1307.7 352.0"/><path stroke="#E48800" d="M1421.1 272.1L1437.5 239.8L1460.9 235.3"/><path stroke="#DD8C00" d="M1365.9 342.1L1466.4 281.1"/><path stroke="#D29300" d="M1403.9 305.6L1461.6 273.5"/><path stroke="#CF9500" d="M1264.3 317.7L1353.4 309.4"/><path stroke="#EE8044" d="M1434.4 327.6L1479.1 263.3L1514.2 230.7"/><path stroke="#D89000" d="M1345.2 370.4L1426.8 308.0"/><path stroke="#D19400" d="M1487.8 234.7L1549.8 167.1"/><path stroke="#D69100" d="M1208.8 360.7L1259.5 337.5"/><path stroke="#C49A00" d="M1042.4 480.0L1111.9 415.7"/><path stroke="#CD9500" d="M1473.8 254.0L1532.8 237.5"/><path stroke="#E38900" d="M1280.3 297.6L1317.7 274.9"/><path stroke="#E08B00" d="M1365.1 306.9L1390.9 301.5L1432.9 269.3"/><path stroke="#F7776B" d="M1445.9 333.1L1485.4 292.5"/><path stroke="#C19B00" d="M1310.8 351.7L1363.0 338.1"/><path stroke="#C79800" d="M1489.9 285.7L1585.6 224.6"/><path stroke="#E88520" d="M1489.9 301.8L1515.2 271.4L1543.1 225.5"/><path stroke="#E48800" d="M1268.1 349.6L1283.5 359.2L1307.2 307.7"/><path stroke="#F27D53" d="M1253.3 401.3L1337.4 344.5"/><path stroke="#B1A100" d="M1256.9 425.7L1300.0 400.6L1340.4 388.1"/><path stroke="#A3A500" d="M1270.0 297.0L1323.1 248.6"/><path stroke="#E28900" d="M1196.4 419.7L1241.9 422.9"/><path stroke="#D39200" d="M1175.8 403.1L1263.4 386.6"/><path stroke="#F8766D" d="M1412.1 339.7L1452.6 276.2"/><path stroke="#9EA700" d="M1435.4 303.6L1521.4 275.4"/><path stroke="#C49900" d="M1093.2 489.5L1181.9 451.7"/><path stroke="#B89E00" d="M1439.4 294.4L1527.0 247.3"/><path stroke="#EA832F" d="M1425.4 271.7L1518.4 219.0"/><path stroke="#BD9C00" d="M1286.3 290.0L1357.4 258.8"/><path stroke="#E58700" d="M1219.0 447.1L1238.7 431.1"/><path stroke="#AAA300" d="M1485.8 246.7L1538.7 216.8"/><path stroke="#F07E4D" d="M1397.5 352.3L1435.7 335.7"/><path stroke="#F57962" d="M1537.7 219.5L1592.6 201.8"/><path stroke="#F8766D" d="M1360.0 391.1L1374.4 358.0"/><path stroke="#E58700" d="M1127.3 389.1L1158.2 381.4"/><path stroke="#8BAB00" d="M1410.6 307.9L1463.7 243.3"/><path stroke="#E58705" d="M1454.3 244.4L1516.0 241.3"/><path stroke="#DC8D00" d="M1318.9 329.7L1365.7 311.0"/><path stroke="#92AA00" d="M1186.9 426.0L1226.2 386.8"/><path stroke="#F37B5A" d="M1445.1 269.1L1509.1 258.2"/><path stroke="#ED813E" d="M1211.6 349.0L1248.7 338.1"/><path stroke="#8FAB00" d="M1528.7 212.0L1622.1 136.7"/><path stroke="#B4A000" d="M1231.2 419.4L1332.5 360.3"/><path stroke="#BC9D00" d="M1221.0 384.2L1303.0 369.1"/><path stroke="#DA8F00" d="M1052.2 455.1L1136.9 419.2"/><path stroke="#4FB400" d="M1556.0 202.0L1604.9 171.5"/><path stroke="#F37C58" d="M1250.3 340.7L1316.1 315.6"/><path stroke="#62B200" d="M1294.0 393.3L1394.4 343.8"/><path stroke="#EB8237" d="M1220.0 351.6L1281.6 303.2"/><path stroke="#DC8D00" d="M1423.0 284.8L1510.3 269.9"/><path stroke="#C99700" d="M1263.4 292.0L1338.0 274.2"/><path stroke="#E58700" d="M1092.1 498.4L1135.9 470.6L1160.0 450.0"/><path stroke="#97A800" d="M1217.2 444.5L1308.2 373.3"/><path stroke="#F8766D" d="M1048.8 480.5L1109.3 461.2"/><path stroke="#CA9700" d="M1358.1 296.8L1410.5 297.8"/><path stroke="#4BB400" d="M1444.7 269.6L1481.5 254.9"/><path stroke="#E58700" d="M1591.4 233.0L1671.3 174.9"/><path stroke="#F17D50" d="M1404.0 349.7L1489.9 265.3"/><path stroke="#B0A100" d="M1396.1 280.9L1433.0 257.2"/><path stroke="#6AB100" d="M1506.1 182.2L1591.4 120.9"/><path stroke="#A9A400" d="M1226.1 384.0L1299.7 309.3"/><path stroke="#CC9600" d="M1098.6 430.7L1198.7 370.9"/><path stroke="#00B81C" d="M1274.5 361.5L1326.7 308.5"/><path stroke="#12B700" d="M1485.3 309.9L1545.6 259.4"/><path stroke="#7BAE00" d="M1306.8 334.4L1397.8 229.7"/><path stroke="#81AD00" d="M1324.6 310.3L1399.1 308.2"/><path stroke="#F07F4A" d="M1139.1 379.6L1195.6 370.5"/><path stroke="#C49A00" d="M1093.9 422.6L1129.0 402.0"/><path stroke="#5CB300" d="M1346.1 370.3L1386.9 344.5"/><path stroke="#A3A500" d="M1158.1 368.0L1187.8 364.7"/><path stroke="#F8766D" d="M1290.2 269.2L1319.4 289.7"/><path stroke="#9BA800" d="M1472.5 221.4L1544.7 193.1"/><path stroke="#D09400" d="M1315.9 357.1L1360.0 320.8"/><path stroke="#E7861A" d="M1095.1 451.8L1176.5 403.6"/><path stroke="#D59100" d="M1415.8 275.2L1511.1 210.3"/><path stroke="#94A900" d="M1404.7 305.4L1482.6 233.6"/><path stroke="#2EB600" d="M1243.4 362.4L1288.4 342.7"/><path stroke="#D79000" d="M1605.7 227.0L1704.7 122.5"/><path stroke="#00BB4A" d="M1323.3 385.1L1396.7 341.9"/><path stroke="#00BD5C" d="M1329.3 326.8L1364.2 293.4L1403.9 279.6"/><path stroke="#1EB700" d="M1495.5 227.4L1578.5 206.2"/><path stroke="#7CAE00" d="M1483.6 192.8L1570.9 106.8"/><path stroke="#A3A500" d="M1257.0 406.0L1354.1 364.8"/><path stroke="#E9842B" d="M1192.0 378.2L1291.2 305.5"/><path stroke="#E68612" d="M1223.6 383.4L1273.5 372.6L1304.1 343.9"/><path stroke="#47B500" d="M1434.9 318.8L1488.4 288.2"/><path stroke="#65B200" d="M1229.3 340.2L1313.3 287.1"/><path stroke="#00BB47" d="M1269.0 368.3L1310.8 328.9"/><path stroke="#F67866" d="M1377.4 289.9L1454.7 225.3"/><path stroke="#EB8333" d="M1324.8 343.5L1396.9 259.7"/><path stroke="#00BC54" d="M1232.2 376.9L1284.3 344.6"/><path stroke="#C69900" d="M1200.1 388.2L1234.0 366.2L1270.5 348.9"/><path stroke="#C09B00" d="M1194.9 383.0L1281.0 367.3"/><path stroke="#A4A500" d="M1536.5 223.6L1576.6 239.8"/><path stroke="#00BE71" d="M1412.0 323.7L1463.3 263.4"/><path stroke="#99A800" d="M1410.4 339.6L1508.0 233.3"/><path stroke="#00BA37" d="M1396.4 342.9L1451.8 301.8"/><path stroke="#F57A5F" d="M1251.6 301.5L1341.4 261.9"/><path stroke="#C39A00" d="M1324.4 318.3L1408.2 265.2"/><path stroke="#96A900" d="M1375.0 255.0L1456.3 200.6"/><path stroke="#C89800" d="M1477.8 273.3L1537.0 204.1"/><path stroke="#BE9C00" d="M1319.4 368.9L1395.7 296.1"/><path stroke="#74B000" d="M1388.1 310.2L1483.0 217.1"/><path stroke="#6FB000" d="M1479.0 226.3L1551.7 167.5"/><path stroke="#00BC4F" d="M1380.7 256.3L1420.5 216.5"/><path stroke="#00C08B" d="M1085.3 490.3L1173.2 467.1"/><path stroke="#00BF7F" d="M1331.4 317.5L1430.1 291.5"/><path stroke="#76AF00" d="M1363.6 319.2L1432.7 277.7"/><path stroke="#E18A00" d="M1291.4 329.6L1383.4 301.2"/><path stroke="#7DAE00" d="M1190.5 355.9L1291.5 349.3"/><path stroke="#00BD5E" d="M1417.5 236.9L1517.6 216.8"/><path stroke="#B3A000" d="M1315.6 311.7L1385.5 292.4"/><path stroke="#ADA200" d="M1322.9 348.9L1365.5 331.8"/><path stroke="#E58700" d="M1464.4 302.8L1488.4 302.8"/><path stroke="#00BE67" d="M1360.0 352.7L1456.6 281.1"/><path stroke="#00C093" d="M1228.1 413.5L1324.8 346.6"/><path stroke="#EC823A" d="M1152.1 388.4L1191.7 373.7"/><path stroke="#A6A500" d="M1579.2 214.8L1657.0 215.3"/><path stroke="#00BC59" d="M1351.6 357.2L1434.3 302.0"/><path stroke="#34B600" d="M1314.1 355.0L1337.9 322.2L1382.0 315.4"/><path stroke="#A0A600" d="M1117.4 372.9L1166.5 375.5"/><path stroke="#85AD00" d="M1257.4 403.0L1287.1 367.8L1326.6 372.0"/><path stroke="#E58700" d="M1094.2 480.5L1153.9 348.0"/><path stroke="#00C08A" d="M1325.1 334.9L1404.9 304.0"/><path stroke="#00C1A3" d="M1376.5 306.9L1424.3 238.3"/><path stroke="#43B500" d="M1303.6 304.3L1353.2 260.0"/><path stroke="#DE8C00" d="M1516.5 220.7L1562.0 196.3"/><path stroke="#DF8B00" d="M1308.0 364.3L1337.5 365.9L1354.4 339.9"/><path stroke="#B79F00" d="M1463.6 271.2L1543.1 224.2"/><path stroke="#AFA200" d="M1288.7 350.6L1389.7 307.7"/><path stroke="#00C0B7" d="M1320.0 379.8L1421.4 322.9"/><path stroke="#00C1AB" d="M1551.0 172.6L1571.1 161.0L1604.2 158.5"/><path stroke="#00C0BD" d="M1314.7 379.6L1413.1 325.0"/><path stroke="#00B930" d="M1276.2 405.2L1361.8 337.3"/><path stroke="#00C0B1" d="M1289.9 365.1L1350.3 382.7"/><path stroke="#A3A500" d="M1409.2 312.4L1444.0 343.6"/><path stroke="#D98F00" d="M1310.5 358.9L1348.1 351.6"/><path stroke="#00C08B" d="M1536.4 277.6L1570.0 250.0"/><path stroke="#90AA00" d="M1476.5 267.3L1529.2 227.9"/><path stroke="#D49200" d="M1221.1 398.1L1262.4 342.6"/><path stroke="#00B822" d="M1362.1 305.3L1461.2 267.4"/><path stroke="#00BE67" d="M1537.5 277.4L1637.9 189.7"/><path stroke="#00BA38" d="M1293.8 293.4L1367.0 222.4"/><path stroke="#7CAE00" d="M1372.4 226.6L1420.0 212.9"/><path stroke="#00BA38" d="M1317.2 441.9L1403.9 374.8"/><path stroke="#ACA300" d="M1496.3 268.3L1550.0 236.4"/><path stroke="#00BFC4" d="M1404.4 340.0L1471.6 333.5"/><path stroke="#CB9600" d="M1307.3 342.1L1404.9 296.5"/><path stroke="#00C19A" d="M1494.7 286.9L1593.9 222.6"/><path stroke="#A3A500" d="M1380.0 224.6L1538.6 180.2"/><path stroke="#00C085" d="M1597.8 195.2L1614.4 195.6L1642.9 174.3"/><path stroke="#00BD65" d="M1201.2 332.4L1239.5 335.4"/><path stroke="#00C1AC" d="M1123.3 456.0L1206.1 360.6"/><path stroke="#00C0AF" d="M1396.6 271.8L1476.3 216.7"/><path stroke="#00BFC6" d="M1187.3 397.8L1229.0 364.6"/><path stroke="#52B400" d="M1294.5 407.2L1361.0 356.1"/><path stroke="#27B700" d="M1352.1 308.1L1404.6 318.4L1443.5 295.4"/><path stroke="#83AD00" d="M1299.0 338.8L1315.9 319.5L1337.4 323.4"/><path stroke="#00B70A" d="M1244.0 372.7L1308.1 365.9"/><path stroke="#00BB44" d="M1437.2 245.6L1482.2 245.2"/><path stroke="#6CB100" d="M1444.5 252.6L1525.3 204.1"/><path stroke="#00B9E2" d="M1337.3 359.8L1380.1 318.7"/><path stroke="#9CA700" d="M1367.0 341.7L1403.9 318.9"/><path stroke="#00BECE" d="M1266.8 376.3L1303.5 350.6"/><path stroke="#A3A500" d="M1158.2 368.1L1197.6 362.6"/><path stroke="#3EB500" d="M1363.8 273.1L1462.6 237.7"/><path stroke="#00BD60" d="M1171.5 370.2L1241.8 364.3"/><path stroke="#00BECF" d="M1340.5 233.8L1392.0 231.9L1436.5 242.8"/><path stroke="#C29A00" d="M1196.8 417.3L1284.4 408.1"/><path stroke="#7FAE00" d="M1236.9 456.7L1330.9 366.3"/><path stroke="#A7A400" d="M1121.1 513.1L1202.4 437.0"/><path stroke="#8DAB00" d="M1329.9 277.8L1396.1 226.6"/><path stroke="#89AC00" d="M1252.7 401.7L1352.4 337.1"/><path stroke="#00BB4C" d="M1235.8 374.7L1306.2 329.1"/><path stroke="#00B8E6" d="M1362.5 321.4L1397.4 291.2L1432.1 270.9"/><path stroke="#00BE69" d="M1379.6 355.5L1457.5 307.3"/><path stroke="#B59F00" d="M1456.1 267.8L1555.9 211.3"/><path stroke="#87AC00" d="M1303.5 289.7L1339.3 277.4"/><path stroke="#00BECB" d="M1379.3 312.5L1409.9 283.1L1428.5 293.0"/><path stroke="#00B6EB" d="M1443.6 269.5L1497.5 242.2"/><path stroke="#00C097" d="M1310.5 369.5L1324.7 359.9L1348.9 353.4"/><path stroke="#00B9E3" d="M1498.2 274.5L1540.0 242.3"/><path stroke="#BB9D00" d="M1317.9 367.6L1416.1 275.1"/><path stroke="#00BFC4" d="M1519.6 254.8L1566.4 262.5"/><path stroke="#B99E00" d="M1154.4 449.8L1181.9 449.3L1219.4 414.2"/><path stroke="#00BFC9" d="M1410.2 325.5L1483.5 261.4"/><path stroke="#00BECD" d="M1481.3 319.9L1571.4 254.3"/><path stroke="#00BD62" d="M1147.4 468.2L1230.9 424.7"/><path stroke="#00BE6D" d="M1381.7 283.1L1432.2 249.9"/><path stroke="#00C08E" d="M1236.7 307.4L1295.7 271.5"/><path stroke="#00B815" d="M1144.1 339.6L1235.1 321.5"/><path stroke="#00BF79" d="M1124.1 412.8L1205.1 374.9"/><path stroke="#00C0B3" d="M1219.9 447.1L1271.8 425.2"/><path stroke="#00C0BA" d="M1189.8 452.2L1290.0 361.8"/><path stroke="#00BC52" d="M1410.6 306.6L1488.0 237.7"/><path stroke="#00BADF" d="M1207.6 355.3L1271.5 333.8"/><path stroke="#00BF77" d="M1210.5 391.0L1233.4 352.1L1261.2 347.4"/><path stroke="#00B927" d="M1417.4 293.0L1494.9 243.7"/><path stroke="#00BF7B" d="M1317.5 347.7L1366.8 309.8"/><path stroke="#00C1A9" d="M1108.8 448.3L1181.1 416.5"/><path stroke="#00B1F6" d="M1382.2 349.9L1456.7 280.0"/><path stroke="#A1A600" d="M1365.2 288.2L1416.7 272.2"/><path stroke="#00C090" d="M1592.7 261.0L1642.2 212.9"/><path stroke="#71B000" d="M1205.9 423.1L1225.8 396.9L1256.9 364.6"/><path stroke="#00BBDB" d="M1291.6 428.3L1330.0 378.7"/><path stroke="#67B100" d="M1305.4 307.3L1389.9 284.6"/><path stroke="#00C083" d="M1240.7 380.6L1286.1 340.4"/><path stroke="#00BFC4" d="M1071.6 438.0L1151.3 429.4"/><path stroke="#00BA3B" d="M1316.2 343.2L1371.9 313.3"/><path stroke="#00BBDC" d="M1110.9 463.7L1149.1 409.2"/><path stroke="#00BFC7" d="M1280.6 328.9L1343.5 279.6"/><path stroke="#00B92B" d="M1170.8 425.5L1209.8 386.7"/><path stroke="#00B6EA" d="M1338.8 280.7L1383.1 262.5L1436.2 269.5"/><path stroke="#00BFC4" d="M1228.9 307.1L1237.1 320.8"/><path stroke="#00B8E7" d="M1378.3 364.1L1470.8 269.3"/><path stroke="#00BA3E" d="M1474.4 205.6L1521.2 203.8"/><path stroke="#78AF00" d="M1301.8 405.8L1386.2 357.5"/><path stroke="#6F99FF" d="M1513.5 201.9L1609.8 176.4"/><path stroke="#00C0B4" d="M1452.7 248.5L1526.7 259.2"/><path stroke="#00BF81" d="M1207.3 406.1L1270.7 350.8"/><path stroke="#00BDD3" d="M1391.9 304.3L1436.0 249.7"/><path stroke="#00B6EC" d="M1352.4 300.0L1449.1 264.7"/><path stroke="#00C095" d="M1345.9 302.6L1408.8 270.6"/><path stroke="#00BCD9" d="M1356.7 342.8L1406.8 322.5"/><path stroke="#59B300" d="M1322.0 389.0L1349.0 351.5L1395.4 317.2"/><path stroke="#00BC57" d="M1411.5 303.5L1510.5 181.5"/><path stroke="#988FFF" d="M1348.4 332.4L1407.1 288.0"/><path stroke="#00C092" d="M1373.2 341.7L1412.2 318.4"/><path stroke="#00ACFC" d="M1505.2 208.6L1534.1 224.4L1558.4 208.0"/><path stroke="#31A2FF" d="M1369.0 328.0L1405.7 308.3"/><path stroke="#00B5ED" d="M1508.2 253.9L1577.5 216.5"/><path stroke="#5FB200" d="M1172.4 368.4L1258.9 320.7"/><path stroke="#00AFF7" d="M1326.0 317.5L1395.7 296.2"/><path stroke="#00A6FF" d="M1161.9 434.7L1227.6 371.8"/><path stroke="#00A8FF" d="M1378.8 298.1L1468.4 245.1"/><path stroke="#00C0B6" d="M1447.0 262.1L1498.0 230.3"/><path stroke="#00C1A4" d="M1403.2 282.2L1479.2 245.7"/><path stroke="#00C08B" d="M1044.1 492.0L1118.7 426.0"/><path stroke="#00C08B" d="M1566.0 197.0L1637.9 221.4"/><path stroke="#00C19F" d="M1212.8 344.9L1280.0 312.9"/><path stroke="#56B300" d="M1238.9 363.2L1319.2 346.0"/><path stroke="#00B934" d="M1548.0 213.5L1592.1 186.5"/><path stroke="#9D8DFF" d="M1455.0 282.2L1523.7 230.1"/><path stroke="#00A4FF" d="M1362.1 273.1L1443.9 239.7"/><path stroke="#00C1A6" d="M1168.2 419.2L1227.9 376.7"/><path stroke="#00BA38" d="M1597.8 255.2L1716.2 144.6"/><path stroke="#00C08C" d="M1299.8 339.7L1357.5 314.9"/><path stroke="#39B600" d="M1113.2 469.4L1195.5 396.4"/><path stroke="#00BA41" d="M1562.4 238.8L1631.0 203.1"/><path stroke="#9590FF" d="M1444.2 190.2L1512.5 185.1"/><path stroke="#00C087" d="M1495.4 241.1L1579.7 176.8"/><path stroke="#00C089" d="M1199.5 347.1L1257.0 300.2"/><path stroke="#8993FF" d="M1306.0 354.4L1370.6 294.7"/><path stroke="#00C1AE" d="M1202.8 388.3L1283.1 355.1"/><path stroke="#00BCD6" d="M1442.7 290.9L1533.1 185.4"/><path stroke="#00B0F6" d="M1352.5 366.4L1398.1 336.0"/><path stroke="#00ABFD" d="M1239.2 402.7L1304.3 369.0"/><path stroke="#00A9FF" d="M1644.3 162.2L1714.0 139.0"/><path stroke="#00BAE0" d="M1390.6 318.0L1425.3 276.4L1455.4 261.5"/><path stroke="#00BA38" d="M1187.8 340.0L1228.0 328.1"/><path stroke="#00BA38" d="M1239.0 315.3L1267.9 287.0"/><path stroke="#00BFC0" d="M1369.2 283.6L1421.8 258.2"/><path stroke="#A58AFF" d="M1359.2 300.1L1398.1 268.2L1453.8 229.9"/><path stroke="#00C1A7" d="M1193.8 361.7L1279.4 332.3"/><path stroke="#CA7BFF" d="M1205.2 354.4L1290.5 284.7"/><path stroke="#639CFF" d="M1391.6 347.6L1407.9 340.6L1436.7 332.6"/><path stroke="#00A9FF" d="M1637.9 159.0L1680.2 135.8"/><path stroke="#00AEFA" d="M1385.2 364.5L1434.4 349.1"/><path stroke="#00BCD7" d="M1245.4 396.6L1295.8 368.1"/><path stroke="#00C19E" d="M1238.7 438.0L1316.5 401.2"/><path stroke="#CD79FF" d="M1264.2 349.3L1344.9 349.6"/><path stroke="#00BFC4" d="M1575.6 139.6L1654.8 180.2"/><path stroke="#00BBDD" d="M1403.0 242.1L1475.2 204.5"/><path stroke="#A08CFF" d="M1482.6 259.5L1564.6 226.2"/><path stroke="#00A6FF" d="M1356.3 345.0L1392.4 334.0"/><path stroke="#A38BFF" d="M1413.1 325.9L1472.4 267.6"/><path stroke="#00BF75" d="M1350.4 338.1L1430.8 277.7"/><path stroke="#B684FF" d="M1300.5 354.5L1348.9 336.9"/><path stroke="#00ACFB" d="M1423.1 297.7L1516.6 252.9"/><path stroke="#00C08B" d="M1450.0 293.2L1510.0 292.7"/><path stroke="#00BE6B" d="M1127.8 393.0L1198.2 339.4"/><path stroke="#00BE6F" d="M1248.0 395.6L1314.2 330.3"/><path stroke="#41A0FF" d="M1228.2 399.9L1285.7 378.7"/><path stroke="#00BF7D" d="M1205.1 407.2L1295.2 377.9"/><path stroke="#00A9FF" d="M1542.8 192.9L1652.7 87.8"/><path stroke="#00C19C" d="M1307.2 352.3L1338.4 310.9L1361.2 326.5"/><path stroke="#E66CF4" d="M1491.3 183.6L1564.3 195.9"/><path stroke="#00A7FF" d="M1315.8 330.6L1410.4 273.1"/><path stroke="#00BBDA" d="M1268.8 304.0L1329.9 280.0"/><path stroke="#00C08B" d="M1610.4 165.4L1670.0 133.7"/><path stroke="#6B9AFF" d="M1208.3 421.2L1298.2 380.2"/><path stroke="#8F91FF" d="M1539.6 216.2L1581.4 180.2"/><path stroke="#00A9FF" d="M1368.4 270.0L1444.4 241.2"/><path stroke="#C27EFF" d="M1166.5 398.6L1209.3 358.8"/><path stroke="#00C098" d="M1318.3 322.8L1413.5 310.2"/><path stroke="#00AEF9" d="M1401.0 287.5L1451.5 237.0"/><path stroke="#00C0B9" d="M1408.0 274.3L1450.1 261.3L1504.3 222.5"/><path stroke="#00AAFD" d="M1444.4 333.1L1496.6 280.7"/><path stroke="#7E96FF" d="M1257.2 345.6L1284.4 310.4L1321.0 266.7"/><path stroke="#E76BF3" d="M1549.1 192.8L1612.6 134.1"/><path stroke="#00BF73" d="M1248.5 423.8L1330.9 334.1"/><path stroke="#00C0BC" d="M1148.5 432.2L1208.8 417.3"/><path stroke="#00C1A1" d="M1267.1 404.2L1331.3 356.1"/><path stroke="#00B7E9" d="M1070.6 476.1L1167.0 379.2"/><path stroke="#D973FC" d="M1321.2 369.0L1419.3 301.8"/><path stroke="#E76BF3" d="M1423.3 181.9L1512.1 175.9"/><path stroke="#EA69F0" d="M1270.2 355.3L1334.1 316.7"/><path stroke="#48A0FF" d="M1511.8 224.6L1589.3 192.7"/><path stroke="#00BECA" d="M1300.2 286.9L1393.1 221.2"/><path stroke="#BC81FF" d="M1429.0 225.4L1513.0 186.7"/><path stroke="#00BDD5" d="M1311.8 353.2L1354.3 319.2L1379.5 302.1"/><path stroke="#F763E0" d="M1346.8 363.6L1415.5 286.3"/><path stroke="#EC69EF" d="M1466.6 270.1L1520.9 240.5"/><path stroke="#00BFC4" d="M1406.8 278.2L1446.6 219.7"/><path stroke="#00AFF8" d="M1209.4 405.1L1237.1 356.4L1288.4 332.3"/><path stroke="#E76BF3" d="M1616.8 121.4L1701.4 111.0"/><path stroke="#00A9FF" d="M1496.3 194.2L1532.8 181.1"/><path stroke="#C77CFF" d="M1447.6 352.7L1528.0 278.8"/><path stroke="#00A5FF" d="M1212.0 412.9L1250.3 372.2"/><path stroke="#BE80FF" d="M1583.0 216.7L1625.5 175.4"/><path stroke="#E76BF3" d="M1237.9 417.3L1327.9 338.9"/><path stroke="#DD71FA" d="M1178.6 415.5L1228.3 414.0"/><path stroke="#7797FF" d="M1408.3 255.0L1486.1 221.2"/><path stroke="#D774FD" d="M1353.8 293.5L1425.5 269.3"/><path stroke="#BA82FF" d="M1276.6 396.3L1346.9 343.5"/><path stroke="#00AAFE" d="M1367.6 369.7L1430.2 315.9"/><path stroke="#FC61D5" d="M1297.8 316.4L1370.2 240.2"/><path stroke="#AF86FF" d="M1298.3 334.7L1389.9 307.7"/><path stroke="#E76BF3" d="M1448.7 200.2L1503.3 128.4"/><path stroke="#619CFF" d="M1087.9 529.7L1140.7 523.4"/><path stroke="#E76BF3" d="M1191.4 343.6L1292.0 306.2"/><path stroke="#ED68EE" d="M1380.5 321.9L1448.0 287.5"/><path stroke="#679BFF" d="M1220.7 341.5L1265.3 330.3L1305.2 288.3"/><path stroke="#F066EA" d="M1244.3 360.9L1323.5 338.8"/><path stroke="#00A9FF" d="M1121.3 503.5L1180.4 432.9"/><path stroke="#C07FFF" d="M1371.9 326.7L1436.4 299.0"/><path stroke="#FF61C3" d="M1244.6 430.6L1297.4 365.8"/><path stroke="#00B8E5" d="M1466.1 195.2L1507.2 173.4"/><path stroke="#00C0BF" d="M1502.3 232.1L1579.1 219.0"/><path stroke="#EF67EB" d="M1523.6 235.9L1551.0 215.5L1601.2 187.5"/><path stroke="#8594FF" d="M1443.4 278.9L1535.5 243.7"/><path stroke="#7398FF" d="M1198.2 403.6L1224.2 361.9L1241.3 345.9"/><path stroke="#FF63B7" d="M1500.8 296.3L1525.8 286.3L1545.1 259.4"/><path stroke="#4E9FFF" d="M1439.6 289.7L1530.9 279.7"/><path stroke="#39A1FF" d="M1531.3 254.5L1616.3 238.6"/><path stroke="#00BFC2" d="M1379.2 308.2L1401.2 297.1L1428.4 298.5"/><path stroke="#DE70F9" d="M1329.9 328.4L1430.9 264.9"/><path stroke="#00B4F0" d="M1287.9 281.3L1365.7 246.3"/><path stroke="#00B5EE" d="M1185.9 454.6L1232.3 438.3"/><path stroke="#9290FF" d="M1091.9 430.2L1141.0 368.2"/><path stroke="#00BFC3" d="M1360.7 276.9L1409.9 210.6"/><path stroke="#FF64AF" d="M1343.3 351.1L1422.1 296.1"/><path stroke="#00BDD1" d="M1268.5 377.6L1323.0 327.6"/><path stroke="#26A3FF" d="M1454.7 328.5L1507.9 261.8"/><path stroke="#E16FF7" d="M1273.8 401.6L1355.8 312.3"/><path stroke="#00B7E8" d="M1309.0 327.1L1398.7 290.6"/><path stroke="#9590FF" d="M1089.6 498.0L1146.2 436.3"/><path stroke="#B385FF" d="M1279.2 331.1L1345.5 301.1"/><path stroke="#FE61CE" d="M1294.5 376.6L1317.1 352.0L1350.1 329.5"/><path stroke="#00BDD2" d="M1324.1 308.4L1367.0 299.1"/><path stroke="#FF62BA" d="M1426.4 301.2L1476.2 262.0"/><path stroke="#16A4FF" d="M1312.8 379.3L1377.4 294.9"/><path stroke="#FF61C5" d="M1271.1 317.9L1361.3 268.2"/><path stroke="#00BAE1" d="M1341.8 344.2L1429.2 327.6"/><path stroke="#CF78FF" d="M1136.0 446.7L1192.4 426.2"/><path stroke="#DA72FB" d="M1390.0 335.6L1461.6 317.3"/><path stroke="#00B2F3" d="M1296.9 340.3L1370.9 276.0"/><path stroke="#00ADFB" d="M1484.4 218.0L1536.3 169.2"/><path stroke="#FF62BF" d="M1424.1 284.2L1498.0 228.2"/><path stroke="#FF6A98" d="M1612.6 206.0L1689.7 178.0"/><path stroke="#00B3F1" d="M1199.4 367.6L1293.6 329.5"/><path stroke="#FF65AC" d="M1327.0 334.8L1358.3 326.0L1394.9 279.5"/><path stroke="#FC727E" d="M1440.1 222.2L1513.3 189.5"/><path stroke="#5E9CFF" d="M1105.2 437.8L1148.0 418.6"/><path stroke="#00A9FF" d="M1226.7 456.9L1257.6 391.7"/><path stroke="#FF65AD" d="M1253.0 423.8L1337.0 346.5"/><path stroke="#549EFF" d="M1310.7 339.9L1375.3 314.7"/><path stroke="#00B2F4" d="M1635.6 225.3L1700.6 209.2"/><path stroke="#00B3F2" d="M1280.1 312.4L1357.5 277.2"/><path stroke="#F8766F" d="M1268.2 375.3L1333.7 325.6"/><path stroke="#FF61C3" d="M1411.7 177.0L1486.8 137.5"/><path stroke="#C87CFF" d="M1405.2 314.6L1467.7 235.8"/><path stroke="#FE6E8B" d="M1494.9 248.1L1565.2 175.7"/><path stroke="#AD87FF" d="M1276.2 350.6L1361.8 245.5"/><path stroke="#8C92FF" d="M1298.7 379.0L1381.1 313.7"/><path stroke="#FF699C" d="M1228.0 385.4L1291.7 344.1"/><path stroke="#FB737A" d="M1436.5 249.5L1458.0 252.5L1489.0 235.2"/><path stroke="#F265E7" d="M1452.5 253.5L1540.7 169.4"/><path stroke="#00B4EF" d="M1374.8 291.1L1462.6 254.0"/><path stroke="#FF66A8" d="M1383.3 334.8L1461.8 275.3"/><path stroke="#C47DFF" d="M1426.3 288.0L1514.5 226.8"/><path stroke="#FC61D3" d="M1374.4 277.7L1443.5 241.8"/><path stroke="#F862DE" d="M1186.4 460.4L1277.8 369.5"/><path stroke="#00B1F5" d="M1505.9 289.5L1558.4 263.8"/><path stroke="#FF62BC" d="M1334.7 376.3L1401.9 300.3"/><path stroke="#E46DF6" d="M1508.0 226.9L1569.7 165.0"/><path stroke="#FF63B9" d="M1093.7 493.1L1174.7 477.9"/><path stroke="#FF6C91" d="M1275.6 311.0L1325.0 304.1"/><path stroke="#B883FF" d="M1358.6 345.7L1404.6 331.8"/><path stroke="#9590FF" d="M1378.0 312.4L1420.7 376.0"/><path stroke="#F962DC" d="M1267.9 311.5L1321.7 322.1L1367.3 303.4"/><path stroke="#EE68ED" d="M1273.5 419.1L1370.8 368.8"/><path stroke="#599DFF" d="M1300.8 311.1L1348.7 268.7L1377.7 251.2"/><path stroke="#8295FF" d="M1371.2 309.8L1454.4 284.1"/><path stroke="#F663E1" d="M1347.6 277.0L1387.2 272.9"/><path stroke="#E26EF7" d="M1352.6 292.2L1450.6 209.5"/><path stroke="#CC7AFF" d="M1382.4 322.3L1466.0 202.1"/><path stroke="#D276FF" d="M1325.7 368.1L1391.6 328.0"/><path stroke="#7B97FF" d="M1314.9 280.3L1357.0 296.2"/><path stroke="#FF6A98" d="M1509.0 171.7L1609.4 162.2"/><path stroke="#FB727C" d="M1105.2 472.7L1191.7 442.3"/><path stroke="#FF6B95" d="M1379.2 318.6L1467.7 267.9"/><path stroke="#C77CFF" d="M1579.8 253.1L1652.7 224.1"/><path stroke="#DC72FB" d="M1202.9 397.1L1273.2 341.3"/><path stroke="#A889FF" d="M1298.2 255.2L1393.7 255.2"/><path stroke="#FD6F86" d="M1268.2 399.0L1306.8 373.2"/><path stroke="#F97571" d="M1191.7 342.3L1290.7 297.3"/><path stroke="#FF63B5" d="M1434.0 287.8L1518.3 243.9"/><path stroke="#FA61D9" d="M1347.2 331.3L1430.5 279.2"/><path stroke="#E96AF1" d="M1524.8 251.4L1584.0 200.4"/><path stroke="#D675FE" d="M1431.6 299.1L1518.9 221.7"/><path stroke="#FF61CC" d="M1316.6 421.8L1392.6 361.4"/><path stroke="#9A8EFF" d="M1329.0 329.2L1427.3 275.6"/><path stroke="#FF6A9A" d="M1348.5 313.0L1439.5 252.5"/><path stroke="#E76BF3" d="M1095.6 406.3L1129.0 396.9"/><path stroke="#FF64B2" d="M1449.6 234.5L1532.3 176.4"/><path stroke="#E06FF8" d="M1233.9 335.1L1263.5 353.8L1296.1 309.1"/><path stroke="#FF61C9" d="M1250.5 394.9L1325.7 357.9"/><path stroke="#B186FF" d="M1378.3 274.9L1425.2 259.8"/><path stroke="#FF6A97" d="M1380.1 288.0L1476.3 182.3"/><path stroke="#F166E8" d="M1165.4 414.8L1216.6 388.2"/><path stroke="#FA7476" d="M1086.9 480.2L1137.7 476.1L1182.9 448.2"/><path stroke="#F962DB" d="M1463.4 221.9L1544.3 208.4"/><path stroke="#FC7180" d="M1108.7 449.9L1210.0 404.7"/><path stroke="#C67DFF" d="M1347.5 335.6L1425.1 307.4"/><path stroke="#D177FF" d="M1309.4 362.1L1397.0 292.7"/><path stroke="#E86BF2" d="M1441.8 299.6L1497.0 245.6"/><path stroke="#FF62C0" d="M1386.4 309.9L1424.7 298.5"/><path stroke="#F564E3" d="M1421.8 322.6L1475.1 296.8"/><path stroke="#AA88FF" d="M1381.2 302.3L1447.5 261.8"/><path stroke="#FF67A5" d="M1443.6 213.9L1479.0 172.5L1498.7 168.6"/><path stroke="#FF6C93" d="M1180.7 399.8L1278.1 302.8"/><path stroke="#D476FE" d="M1432.8 317.1L1513.2 251.4"/><path stroke="#FF61C8" d="M1438.1 312.1L1504.1 272.1"/><path stroke="#FF66AA" d="M1183.7 448.3L1229.0 407.2"/><path stroke="#FF61C3" d="M1289.2 277.8L1350.5 247.7"/><path stroke="#FF67A3" d="M1368.6 320.6L1444.4 244.8"/><path stroke="#F763DF" d="M1238.5 373.8L1274.6 327.5"/><path stroke="#FD6F88" d="M1455.8 263.1L1515.6 228.6"/><path stroke="#F365E6" d="M1506.5 241.2L1582.6 199.2"/><path stroke="#FF61C3" d="M1375.6 356.8L1411.6 357.5"/><path stroke="#E56DF5" d="M1495.1 204.2L1584.5 176.4"/><path stroke="#FD61D0" d="M1282.4 343.4L1337.9 296.9"/><path stroke="#EF67EC" d="M1521.8 265.1L1617.5 251.5"/><path stroke="#FA7378" d="M1134.7 378.3L1173.8 342.4"/><path stroke="#FF66A7" d="M1190.8 431.5L1289.2 414.5"/><path stroke="#E76BF3" d="M1072.8 461.7L1125.6 481.7"/><path stroke="#FE6D8D" d="M1510.7 213.5L1597.6 177.8"/><path stroke="#FD7084" d="M1319.5 350.4L1362.2 313.4"/><path stroke="#F564E4" d="M1214.7 411.6L1285.6 346.0"/><path stroke="#FF6A98" d="M1611.5 155.9L1686.6 140.6"/><path stroke="#FF63B4" d="M1493.8 257.4L1576.8 197.9"/><path stroke="#FD61D2" d="M1234.2 388.6L1334.5 297.7"/><path stroke="#FB61D7" d="M1309.7 385.8L1402.5 301.7"/><path stroke="#FF62BD" d="M1426.3 267.0L1501.2 199.6"/><path stroke="#FF61C2" d="M1280.6 405.3L1358.8 374.9"/><path stroke="#F464E5" d="M1466.9 310.9L1558.2 275.9"/><path stroke="#FA62DA" d="M1350.7 326.6L1451.5 307.6"/><path stroke="#FC61D6" d="M1153.0 471.7L1202.7 407.6"/><path stroke="#FF68A0" d="M1401.4 318.8L1482.5 253.4"/><path stroke="#FF61CB" d="M1444.1 265.1L1520.7 258.0"/><path stroke="#FE61CF" d="M1403.6 240.1L1453.3 222.6L1491.2 217.9"/><path stroke="#FF68A1" d="M1244.8 387.8L1320.3 324.8"/><path stroke="#FF61C6" d="M1185.5 447.1L1223.6 409.5"/><path stroke="#FF61C3" d="M1197.6 451.7L1231.9 432.9"/><path stroke="#FF6D8F" d="M1223.2 333.4L1311.4 285.4"/><path stroke="#FF64B1" d="M1398.3 301.3L1450.8 281.6"/><path stroke="#FF699E" d="M1261.6 360.9L1350.9 280.0"/><path stroke="#F97473" d="M1389.8 319.7L1433.5 288.1"/><path stroke="#FF6A98" d="M1306.3 354.8L1379.9 297.8"/><path stroke="#FE6E8A" d="M1197.8 425.7L1246.0 376.8"/><path stroke="#FC7082" d="M1402.2 255.4L1460.8 234.8"/></g><g stroke-width="2.9" stroke-linecap="round"><path stroke="#F67964" d="M1376.6 360.8h0M1438.6 335.6h0"/><path stroke="#F27C55" d="M1301.7 326.2h0M1375.5 273.2h0"/><path stroke="#F47A5D" d="M1262.5 424.8h0M1289.0 421.5h0M1334.5 375.8h0"/><path stroke="#F77768" d="M1316.7 322.6h0M1336.0 296.0h0M1357.1 261.1h0"/><path stroke="#EE8041" d="M1286.4 303.5h0M1387.9 251.1h0"/><path stroke="#E58700" d="M1177.9 450.9h0M1214.7 432.9h0"/><path stroke="#E88526" d="M1211.8 345.6h0M1263.0 280.5h0"/><path stroke="#DB8E00" d="M1437.1 323.2h0M1529.3 269.0h0"/><path stroke="#EF7F47" d="M1233.6 408.5h0M1307.7 352.0h0"/><path stroke="#E48800" d="M1421.1 272.1h0M1437.5 239.8h0M1460.9 235.3h0"/><path stroke="#DD8C00" d="M1365.9 342.1h0M1466.4 281.1h0"/><path stroke="#D29300" d="M1403.9 305.6h0M1461.6 273.5h0"/><path stroke="#CF9500" d="M1264.3 317.7h0M1353.4 309.4h0"/><path stroke="#EE8044" d="M1434.4 327.6h0M1479.1 263.3h0M1514.2 230.7h0"/><path stroke="#D89000" d="M1345.2 370.4h0M1426.8 308.0h0"/><path stroke="#D19400" d="M1487.8 234.7h0M1549.8 167.1h0"/><path stroke="#D69100" d="M1208.8 360.7h0M1259.5 337.5h0"/><path stroke="#C49A00" d="M1042.4 480.0h0M1111.9 415.7h0"/><path stroke="#CD9500" d="M1473.8 254.0h0M1532.8 237.5h0"/><path stroke="#E38900" d="M1280.3 297.6h0M1317.7 274.9h0"/><path stroke="#E08B00" d="M1365.1 306.9h0M1390.9 301.5h0M1432.9 269.3h0"/><path stroke="#F7776B" d="M1445.9 333.1h0M1485.4 292.5h0"/><path stroke="#C19B00" d="M1310.8 351.7h0M1363.0 338.1h0"/><path stroke="#C79800" d="M1489.9 285.7h0M1585.6 224.6h0"/><path stroke="#E88520" d="M1489.9 301.8h0M1515.2 271.4h0M1543.1 225.5h0"/><path stroke="#E48800" d="M1268.1 349.6h0M1283.5 359.2h0M1307.2 307.7h0"/><path stroke="#F27D53" d="M1253.3 401.3h0M1337.4 344.5h0"/><path stroke="#B1A100" d="M1256.9 425.7h0M1300.0 400.6h0M1340.4 388.1h0"/><path stroke="#A3A500" d="M1270.0 297.0h0M1323.1 248.6h0"/><path stroke="#E28900" d="M1196.4 419.7h0M1241.9 422.9h0"/><path stroke="#D39200" d="M1175.8 403.1h0M1263.4 386.6h0"/><path stroke="#F8766D" d="M1412.1 339.7h0M1452.6 276.2h0"/><path stroke="#9EA700" d="M1435.4 303.6h0M1521.4 275.4h0"/><path stroke="#C49900" d="M1093.2 489.5h0M1181.9 451.7h0"/><path stroke="#B89E00" d="M1439.4 294.4h0M1527.0 247.3h0"/><path stroke="#EA832F" d="M1425.4 271.7h0M1518.4 219.0h0"/><path stroke="#BD9C00" d="M1286.3 290.0h0M1357.4 258.8h0"/><path stroke="#E58700" d="M1219.0 447.1h0M1238.7 431.1h0"/><path stroke="#AAA300" d="M1485.8 246.7h0M1538.7 216.8h0"/><path stroke="#F07E4D" d="M1397.5 352.3h0M1435.7 335.7h0"/><path stroke="#F57962" d="M1537.7 219.5h0M1592.6 201.8h0"/><path stroke="#F8766D" d="M1360.0 391.1h0M1374.4 358.0h0"/><path stroke="#E58700" d="M1127.3 389.1h0M1158.2 381.4h0"/><path stroke="#8BAB00" d="M1410.6 307.9h0M1463.7 243.3h0"/><path stroke="#E58705" d="M1454.3 244.4h0M1516.0 241.3h0"/><path stroke="#DC8D00" d="M1318.9 329.7h0M1365.7 311.0h0"/><path stroke="#92AA00" d="M1186.9 426.0h0M1226.2 386.8h0"/><path stroke="#F37B5A" d="M1445.1 269.1h0M1509.1 258.2h0"/><path stroke="#ED813E" d="M1211.6 349.0h0M1248.7 338.1h0"/><path stroke="#8FAB00" d="M1528.7 212.0h0M1622.1 136.7h0"/><path stroke="#B4A000" d="M1231.2 419.4h0M1332.5 360.3h0"/><path stroke="#BC9D00" d="M1221.0 384.2h0M1303.0 369.1h0"/><path stroke="#DA8F00" d="M1052.2 455.1h0M1136.9 419.2h0"/><path stroke="#4FB400" d="M1556.0 202.0h0M1604.9 171.5h0"/><path stroke="#F37C58" d="M1250.3 340.7h0M1316.1 315.6h0"/><path stroke="#62B200" d="M1294.0 393.3h0M1394.4 343.8h0"/><path stroke="#EB8237" d="M1220.0 351.6h0M1281.6 303.2h0"/><path stroke="#DC8D00" d="M1423.0 284.8h0M1510.3 269.9h0"/><path stroke="#C99700" d="M1263.4 292.0h0M1338.0 274.2h0"/><path stroke="#E58700" d="M1092.1 498.4h0M1135.9 470.6h0M1160.0 450.0h0"/><path stroke="#97A800" d="M1217.2 444.5h0M1308.2 373.3h0"/><path stroke="#F8766D" d="M1048.8 480.5h0M1109.3 461.2h0"/><path stroke="#CA9700" d="M1358.1 296.8h0M1410.5 297.8h0"/><path stroke="#4BB400" d="M1444.7 269.6h0M1481.5 254.9h0"/><path stroke="#E58700" d="M1591.4 233.0h0M1671.3 174.9h0"/><path stroke="#F17D50" d="M1404.0 349.7h0M1489.9 265.3h0"/><path stroke="#B0A100" d="M1396.1 280.9h0M1433.0 257.2h0"/><path stroke="#6AB100" d="M1506.1 182.2h0M1591.4 120.9h0"/><path stroke="#A9A400" d="M1226.1 384.0h0M1299.7 309.3h0"/><path stroke="#CC9600" d="M1098.6 430.7h0M1198.7 370.9h0"/><path stroke="#00B81C" d="M1274.5 361.5h0M1326.7 308.5h0"/><path stroke="#12B700" d="M1485.3 309.9h0M1545.6 259.4h0"/><path stroke="#7BAE00" d="M1306.8 334.4h0M1397.8 229.7h0"/><path stroke="#81AD00" d="M1324.6 310.3h0M1399.1 308.2h0"/><path stroke="#F07F4A" d="M1139.1 379.6h0M1195.6 370.5h0"/><path stroke="#C49A00" d="M1093.9 422.6h0M1129.0 402.0h0"/><path stroke="#5CB300" d="M1346.1 370.3h0M1386.9 344.5h0"/><path stroke="#A3A500" d="M1158.1 368.0h0M1187.8 364.7h0"/><path stroke="#F8766D" d="M1290.2 269.2h0M1319.4 289.7h0"/><path stroke="#9BA800" d="M1472.5 221.4h0M1544.7 193.1h0"/><path stroke="#D09400" d="M1315.9 357.1h0M1360.0 320.8h0"/><path stroke="#E7861A" d="M1095.1 451.8h0M1176.5 403.6h0"/><path stroke="#D59100" d="M1415.8 275.2h0M1511.1 210.3h0"/><path stroke="#94A900" d="M1404.7 305.4h0M1482.6 233.6h0"/><path stroke="#2EB600" d="M1243.4 362.4h0M1288.4 342.7h0"/><path stroke="#D79000" d="M1605.7 227.0h0M1704.7 122.5h0"/><path stroke="#00BB4A" d="M1323.3 385.1h0M1396.7 341.9h0"/><path stroke="#00BD5C" d="M1329.3 326.8h0M1364.2 293.4h0M1403.9 279.6h0"/><path stroke="#1EB700" d="M1495.5 227.4h0M1578.5 206.2h0"/><path stroke="#7CAE00" d="M1483.6 192.8h0M1570.9 106.8h0"/><path stroke="#A3A500" d="M1257.0 406.0h0M1354.1 364.8h0"/><path stroke="#E9842B" d="M1192.0 378.2h0M1291.2 305.5h0"/><path stroke="#E68612" d="M1223.6 383.4h0M1273.5 372.6h0M1304.1 343.9h0"/><path stroke="#47B500" d="M1434.9 318.8h0M1488.4 288.2h0"/><path stroke="#65B200" d="M1229.3 340.2h0M1313.3 287.1h0"/><path stroke="#00BB47" d="M1269.0 368.3h0M1310.8 328.9h0"/><path stroke="#F67866" d="M1377.4 289.9h0M1454.7 225.3h0"/><path stroke="#EB8333" d="M1324.8 343.5h0M1396.9 259.7h0"/><path stroke="#00BC54" d="M1232.2 376.9h0M1284.3 344.6h0"/><path stroke="#C69900" d="M1200.1 388.2h0M1234.0 366.2h0M1270.5 348.9h0"/><path stroke="#C09B00" d="M1194.9 383.0h0M1281.0 367.3h0"/><path stroke="#A4A500" d="M1536.5 223.6h0M1576.6 239.8h0"/><path stroke="#00BE71" d="M1412.0 323.7h0M1463.3 263.4h0"/><path stroke="#99A800" d="M1410.4 339.6h0M1508.0 233.3h0"/><path stroke="#00BA37" d="M1396.4 342.9h0M1451.8 301.8h0"/><path stroke="#F57A5F" d="M1251.6 301.5h0M1341.4 261.9h0"/><path stroke="#C39A00" d="M1324.4 318.3h0M1408.2 265.2h0"/><path stroke="#96A900" d="M1375.0 255.0h0M1456.3 200.6h0"/><path stroke="#C89800" d="M1477.8 273.3h0M1537.0 204.1h0"/><path stroke="#BE9C00" d="M1319.4 368.9h0M1395.7 296.1h0"/><path stroke="#74B000" d="M1388.1 310.2h0M1483.0 217.1h0"/><path stroke="#6FB000" d="M1479.0 226.3h0M1551.7 167.5h0"/><path stroke="#00BC4F" d="M1380.7 256.3h0M1420.5 216.5h0"/><path stroke="#00C08B" d="M1085.3 490.3h0M1173.2 467.1h0"/><path stroke="#00BF7F" d="M1331.4 317.5h0M1430.1 291.5h0"/><path stroke="#76AF00" d="M1363.6 319.2h0M1432.7 277.7h0"/><path stroke="#E18A00" d="M1291.4 329.6h0M1383.4 301.2h0"/><path stroke="#7DAE00" d="M1190.5 355.9h0M1291.5 349.3h0"/><path stroke="#00BD5E" d="M1417.5 236.9h0M1517.6 216.8h0"/><path stroke="#B3A000" d="M1315.6 311.7h0M1385.5 292.4h0"/><path stroke="#ADA200" d="M1322.9 348.9h0M1365.5 331.8h0"/><path stroke="#E58700" d="M1464.4 302.8h0M1488.4 302.8h0"/><path stroke="#00BE67" d="M1360.0 352.7h0M1456.6 281.1h0"/><path stroke="#00C093" d="M1228.1 413.5h0M1324.8 346.6h0"/><path stroke="#EC823A" d="M1152.1 388.4h0M1191.7 373.7h0"/><path stroke="#A6A500" d="M1579.2 214.8h0M1657.0 215.3h0"/><path stroke="#00BC59" d="M1351.6 357.2h0M1434.3 302.0h0"/><path stroke="#34B600" d="M1314.1 355.0h0M1337.9 322.2h0M1382.0 315.4h0"/><path stroke="#A0A600" d="M1117.4 372.9h0M1166.5 375.5h0"/><path stroke="#85AD00" d="M1257.4 403.0h0M1287.1 367.8h0M1326.6 372.0h0"/><path stroke="#E58700" d="M1094.2 480.5h0M1153.9 348.0h0"/><path stroke="#00C08A" d="M1325.1 334.9h0M1404.9 304.0h0"/><path stroke="#00C1A3" d="M1376.5 306.9h0M1424.3 238.3h0"/><path stroke="#43B500" d="M1303.6 304.3h0M1353.2 260.0h0"/><path stroke="#DE8C00" d="M1516.5 220.7h0M1562.0 196.3h0"/><path stroke="#DF8B00" d="M1308.0 364.3h0M1337.5 365.9h0M1354.4 339.9h0"/><path stroke="#B79F00" d="M1463.6 271.2h0M1543.1 224.2h0"/><path stroke="#AFA200" d="M1288.7 350.6h0M1389.7 307.7h0"/><path stroke="#00C0B7" d="M1320.0 379.8h0M1421.4 322.9h0"/><path stroke="#00C1AB" d="M1551.0 172.6h0M1571.1 161.0h0M1604.2 158.5h0"/><path stroke="#00C0BD" d="M1314.7 379.6h0M1413.1 325.0h0"/><path stroke="#00B930" d="M1276.2 405.2h0M1361.8 337.3h0"/><path stroke="#00C0B1" d="M1289.9 365.1h0M1350.3 382.7h0"/><path stroke="#A3A500" d="M1409.2 312.4h0M1444.0 343.6h0"/><path stroke="#D98F00" d="M1310.5 358.9h0M1348.1 351.6h0"/><path stroke="#00C08B" d="M1536.4 277.6h0M1570.0 250.0h0"/><path stroke="#90AA00" d="M1476.5 267.3h0M1529.2 227.9h0"/><path stroke="#D49200" d="M1221.1 398.1h0M1262.4 342.6h0"/><path stroke="#00B822" d="M1362.1 305.3h0M1461.2 267.4h0"/><path stroke="#00BE67" d="M1537.5 277.4h0M1637.9 189.7h0"/><path stroke="#00BA38" d="M1293.8 293.4h0M1367.0 222.4h0"/><path stroke="#7CAE00" d="M1372.4 226.6h0M1420.0 212.9h0"/><path stroke="#00BA38" d="M1317.2 441.9h0M1403.9 374.8h0"/><path stroke="#ACA300" d="M1496.3 268.3h0M1550.0 236.4h0"/><path stroke="#00BFC4" d="M1404.4 340.0h0M1471.6 333.5h0"/><path stroke="#CB9600" d="M1307.3 342.1h0M1404.9 296.5h0"/><path stroke="#00C19A" d="M1494.7 286.9h0M1593.9 222.6h0"/><path stroke="#A3A500" d="M1380.0 224.6h0M1538.6 180.2h0"/><path stroke="#00C085" d="M1597.8 195.2h0M1614.4 195.6h0M1642.9 174.3h0"/><path stroke="#00BD65" d="M1201.2 332.4h0M1239.5 335.4h0"/><path stroke="#00C1AC" d="M1123.3 456.0h0M1206.1 360.6h0"/><path stroke="#00C0AF" d="M1396.6 271.8h0M1476.3 216.7h0"/><path stroke="#00BFC6" d="M1187.3 397.8h0M1229.0 364.6h0"/><path stroke="#52B400" d="M1294.5 407.2h0M1361.0 356.1h0"/><path stroke="#27B700" d="M1352.1 308.1h0M1404.6 318.4h0M1443.5 295.4h0"/><path stroke="#83AD00" d="M1299.0 338.8h0M1315.9 319.5h0M1337.4 323.4h0"/><path stroke="#00B70A" d="M1244.0 372.7h0M1308.1 365.9h0"/><path stroke="#00BB44" d="M1437.2 245.6h0M1482.2 245.2h0"/><path stroke="#6CB100" d="M1444.5 252.6h0M1525.3 204.1h0"/><path stroke="#00B9E2" d="M1337.3 359.8h0M1380.1 318.7h0"/><path stroke="#9CA700" d="M1367.0 341.7h0M1403.9 318.9h0"/><path stroke="#00BECE" d="M1266.8 376.3h0M1303.5 350.6h0"/><path stroke="#A3A500" d="M1158.2 368.1h0M1197.6 362.6h0"/><path stroke="#3EB500" d="M1363.8 273.1h0M1462.6 237.7h0"/><path stroke="#00BD60" d="M1171.5 370.2h0M1241.8 364.3h0"/><path stroke="#00BECF" d="M1340.5 233.8h0M1392.0 231.9h0M1436.5 242.8h0"/><path stroke="#C29A00" d="M1196.8 417.3h0M1284.4 408.1h0"/><path stroke="#7FAE00" d="M1236.9 456.7h0M1330.9 366.3h0"/><path stroke="#A7A400" d="M1121.1 513.1h0M1202.4 437.0h0"/><path stroke="#8DAB00" d="M1329.9 277.8h0M1396.1 226.6h0"/><path stroke="#89AC00" d="M1252.7 401.7h0M1352.4 337.1h0"/><path stroke="#00BB4C" d="M1235.8 374.7h0M1306.2 329.1h0"/><path stroke="#00B8E6" d="M1362.5 321.4h0M1397.4 291.2h0M1432.1 270.9h0"/><path stroke="#00BE69" d="M1379.6 355.5h0M1457.5 307.3h0"/><path stroke="#B59F00" d="M1456.1 267.8h0M1555.9 211.3h0"/><path stroke="#87AC00" d="M1303.5 289.7h0M1339.3 277.4h0"/><path stroke="#00BECB" d="M1379.3 312.5h0M1409.9 283.1h0M1428.5 293.0h0"/><path stroke="#00B6EB" d="M1443.6 269.5h0M1497.5 242.2h0"/><path stroke="#00C097" d="M1310.5 369.5h0M1324.7 359.9h0M1348.9 353.4h0"/><path stroke="#00B9E3" d="M1498.2 274.5h0M1540.0 242.3h0"/><path stroke="#BB9D00" d="M1317.9 367.6h0M1416.1 275.1h0"/><path stroke="#00BFC4" d="M1519.6 254.8h0M1566.4 262.5h0"/><path stroke="#B99E00" d="M1154.4 449.8h0M1181.9 449.3h0M1219.4 414.2h0"/><path stroke="#00BFC9" d="M1410.2 325.5h0M1483.5 261.4h0"/><path stroke="#00BECD" d="M1481.3 319.9h0M1571.4 254.3h0"/><path stroke="#00BD62" d="M1147.4 468.2h0M1230.9 424.7h0"/><path stroke="#00BE6D" d="M1381.7 283.1h0M1432.2 249.9h0"/><path stroke="#00C08E" d="M1236.7 307.4h0M1295.7 271.5h0"/><path stroke="#00B815" d="M1144.1 339.6h0M1235.1 321.5h0"/><path stroke="#00BF79" d="M1124.1 412.8h0M1205.1 374.9h0"/><path stroke="#00C0B3" d="M1219.9 447.1h0M1271.8 425.2h0"/><path stroke="#00C0BA" d="M1189.8 452.2h0M1290.0 361.8h0"/><path stroke="#00BC52" d="M1410.6 306.6h0M1488.0 237.7h0"/><path stroke="#00BADF" d="M1207.6 355.3h0M1271.5 333.8h0"/><path stroke="#00BF77" d="M1210.5 391.0h0M1233.4 352.1h0M1261.2 347.4h0"/><path stroke="#00B927" d="M1417.4 293.0h0M1494.9 243.7h0"/><path stroke="#00BF7B" d="M1317.5 347.7h0M1366.8 309.8h0"/><path stroke="#00C1A9" d="M1108.8 448.3h0M1181.1 416.5h0"/><path stroke="#00B1F6" d="M1382.2 349.9h0M1456.7 280.0h0"/><path stroke="#A1A600" d="M1365.2 288.2h0M1416.7 272.2h0"/><path stroke="#00C090" d="M1592.7 261.0h0M1642.2 212.9h0"/><path stroke="#71B000" d="M1205.9 423.1h0M1225.8 396.9h0M1256.9 364.6h0"/><path stroke="#00BBDB" d="M1291.6 428.3h0M1330.0 378.7h0"/><path stroke="#67B100" d="M1305.4 307.3h0M1389.9 284.6h0"/><path stroke="#00C083" d="M1240.7 380.6h0M1286.1 340.4h0"/><path stroke="#00BFC4" d="M1071.6 438.0h0M1151.3 429.4h0"/><path stroke="#00BA3B" d="M1316.2 343.2h0M1371.9 313.3h0"/><path stroke="#00BBDC" d="M1110.9 463.7h0M1149.1 409.2h0"/><path stroke="#00BFC7" d="M1280.6 328.9h0M1343.5 279.6h0"/><path stroke="#00B92B" d="M1170.8 425.5h0M1209.8 386.7h0"/><path stroke="#00B6EA" d="M1338.8 280.7h0M1383.1 262.5h0M1436.2 269.5h0"/><path stroke="#00BFC4" d="M1228.9 307.1h0M1237.1 320.8h0"/><path stroke="#00B8E7" d="M1378.3 364.1h0M1470.8 269.3h0"/><path stroke="#00BA3E" d="M1474.4 205.6h0M1521.2 203.8h0"/><path stroke="#78AF00" d="M1301.8 405.8h0M1386.2 357.5h0"/><path stroke="#6F99FF" d="M1513.5 201.9h0M1609.8 176.4h0"/><path stroke="#00C0B4" d="M1452.7 248.5h0M1526.7 259.2h0"/><path stroke="#00BF81" d="M1207.3 406.1h0M1270.7 350.8h0"/><path stroke="#00BDD3" d="M1391.9 304.3h0M1436.0 249.7h0"/><path stroke="#00B6EC" d="M1352.4 300.0h0M1449.1 264.7h0"/><path stroke="#00C095" d="M1345.9 302.6h0M1408.8 270.6h0"/><path stroke="#00BCD9" d="M1356.7 342.8h0M1406.8 322.5h0"/><path stroke="#59B300" d="M1322.0 389.0h0M1349.0 351.5h0M1395.4 317.2h0"/><path stroke="#00BC57" d="M1411.5 303.5h0M1510.5 181.5h0"/><path stroke="#988FFF" d="M1348.4 332.4h0M1407.1 288.0h0"/><path stroke="#00C092" d="M1373.2 341.7h0M1412.2 318.4h0"/><path stroke="#00ACFC" d="M1505.2 208.6h0M1534.1 224.4h0M1558.4 208.0h0"/><path stroke="#31A2FF" d="M1369.0 328.0h0M1405.7 308.3h0"/><path stroke="#00B5ED" d="M1508.2 253.9h0M1577.5 216.5h0"/><path stroke="#5FB200" d="M1172.4 368.4h0M1258.9 320.7h0"/><path stroke="#00AFF7" d="M1326.0 317.5h0M1395.7 296.2h0"/><path stroke="#00A6FF" d="M1161.9 434.7h0M1227.6 371.8h0"/><path stroke="#00A8FF" d="M1378.8 298.1h0M1468.4 245.1h0"/><path stroke="#00C0B6" d="M1447.0 262.1h0M1498.0 230.3h0"/><path stroke="#00C1A4" d="M1403.2 282.2h0M1479.2 245.7h0"/><path stroke="#00C08B" d="M1044.1 492.0h0M1118.7 426.0h0"/><path stroke="#00C08B" d="M1566.0 197.0h0M1637.9 221.4h0"/><path stroke="#00C19F" d="M1212.8 344.9h0M1280.0 312.9h0"/><path stroke="#56B300" d="M1238.9 363.2h0M1319.2 346.0h0"/><path stroke="#00B934" d="M1548.0 213.5h0M1592.1 186.5h0"/><path stroke="#9D8DFF" d="M1455.0 282.2h0M1523.7 230.1h0"/><path stroke="#00A4FF" d="M1362.1 273.1h0M1443.9 239.7h0"/><path stroke="#00C1A6" d="M1168.2 419.2h0M1227.9 376.7h0"/><path stroke="#00BA38" d="M1597.8 255.2h0M1716.2 144.6h0"/><path stroke="#00C08C" d="M1299.8 339.7h0M1357.5 314.9h0"/><path stroke="#39B600" d="M1113.2 469.4h0M1195.5 396.4h0"/><path stroke="#00BA41" d="M1562.4 238.8h0M1631.0 203.1h0"/><path stroke="#9590FF" d="M1444.2 190.2h0M1512.5 185.1h0"/><path stroke="#00C087" d="M1495.4 241.1h0M1579.7 176.8h0"/><path stroke="#00C089" d="M1199.5 347.1h0M1257.0 300.2h0"/><path stroke="#8993FF" d="M1306.0 354.4h0M1370.6 294.7h0"/><path stroke="#00C1AE" d="M1202.8 388.3h0M1283.1 355.1h0"/><path stroke="#00BCD6" d="M1442.7 290.9h0M1533.1 185.4h0"/><path stroke="#00B0F6" d="M1352.5 366.4h0M1398.1 336.0h0"/><path stroke="#00ABFD" d="M1239.2 402.7h0M1304.3 369.0h0"/><path stroke="#00A9FF" d="M1644.3 162.2h0M1714.0 139.0h0"/><path stroke="#00BAE0" d="M1390.6 318.0h0M1425.3 276.4h0M1455.4 261.5h0"/><path stroke="#00BA38" d="M1187.8 340.0h0M1228.0 328.1h0"/><path stroke="#00BA38" d="M1239.0 315.3h0M1267.9 287.0h0"/><path stroke="#00BFC0" d="M1369.2 283.6h0M1421.8 258.2h0"/><path stroke="#A58AFF" d="M1359.2 300.1h0M1398.1 268.2h0M1453.8 229.9h0"/><path stroke="#00C1A7" d="M1193.8 361.7h0M1279.4 332.3h0"/><path stroke="#CA7BFF" d="M1205.2 354.4h0M1290.5 284.7h0"/><path stroke="#639CFF" d="M1391.6 347.6h0M1407.9 340.6h0M1436.7 332.6h0"/><path stroke="#00A9FF" d="M1637.9 159.0h0M1680.2 135.8h0"/><path stroke="#00AEFA" d="M1385.2 364.5h0M1434.4 349.1h0"/><path stroke="#00BCD7" d="M1245.4 396.6h0M1295.8 368.1h0"/><path stroke="#00C19E" d="M1238.7 438.0h0M1316.5 401.2h0"/><path stroke="#CD79FF" d="M1264.2 349.3h0M1344.9 349.6h0"/><path stroke="#00BFC4" d="M1575.6 139.6h0M1654.8 180.2h0"/><path stroke="#00BBDD" d="M1403.0 242.1h0M1475.2 204.5h0"/><path stroke="#A08CFF" d="M1482.6 259.5h0M1564.6 226.2h0"/><path stroke="#00A6FF" d="M1356.3 345.0h0M1392.4 334.0h0"/><path stroke="#A38BFF" d="M1413.1 325.9h0M1472.4 267.6h0"/><path stroke="#00BF75" d="M1350.4 338.1h0M1430.8 277.7h0"/><path stroke="#B684FF" d="M1300.5 354.5h0M1348.9 336.9h0"/><path stroke="#00ACFB" d="M1423.1 297.7h0M1516.6 252.9h0"/><path stroke="#00C08B" d="M1450.0 293.2h0M1510.0 292.7h0"/><path stroke="#00BE6B" d="M1127.8 393.0h0M1198.2 339.4h0"/><path stroke="#00BE6F" d="M1248.0 395.6h0M1314.2 330.3h0"/><path stroke="#41A0FF" d="M1228.2 399.9h0M1285.7 378.7h0"/><path stroke="#00BF7D" d="M1205.1 407.2h0M1295.2 377.9h0"/><path stroke="#00A9FF" d="M1542.8 192.9h0M1652.7 87.8h0"/><path stroke="#00C19C" d="M1307.2 352.3h0M1338.4 310.9h0M1361.2 326.5h0"/><path stroke="#E66CF4" d="M1491.3 183.6h0M1564.3 195.9h0"/><path stroke="#00A7FF" d="M1315.8 330.6h0M1410.4 273.1h0"/><path stroke="#00BBDA" d="M1268.8 304.0h0M1329.9 280.0h0"/><path stroke="#00C08B" d="M1610.4 165.4h0M1670.0 133.7h0"/><path stroke="#6B9AFF" d="M1208.3 421.2h0M1298.2 380.2h0"/><path stroke="#8F91FF" d="M1539.6 216.2h0M1581.4 180.2h0"/><path stroke="#00A9FF" d="M1368.4 270.0h0M1444.4 241.2h0"/><path stroke="#C27EFF" d="M1166.5 398.6h0M1209.3 358.8h0"/><path stroke="#00C098" d="M1318.3 322.8h0M1413.5 310.2h0"/><path stroke="#00AEF9" d="M1401.0 287.5h0M1451.5 237.0h0"/><path stroke="#00C0B9" d="M1408.0 274.3h0M1450.1 261.3h0M1504.3 222.5h0"/><path stroke="#00AAFD" d="M1444.4 333.1h0M1496.6 280.7h0"/><path stroke="#7E96FF" d="M1257.2 345.6h0M1284.4 310.4h0M1321.0 266.7h0"/><path stroke="#E76BF3" d="M1549.1 192.8h0M1612.6 134.1h0"/><path stroke="#00BF73" d="M1248.5 423.8h0M1330.9 334.1h0"/><path stroke="#00C0BC" d="M1148.5 432.2h0M1208.8 417.3h0"/><path stroke="#00C1A1" d="M1267.1 404.2h0M1331.3 356.1h0"/><path stroke="#00B7E9" d="M1070.6 476.1h0M1167.0 379.2h0"/><path stroke="#D973FC" d="M1321.2 369.0h0M1419.3 301.8h0"/><path stroke="#E76BF3" d="M1423.3 181.9h0M1512.1 175.9h0"/><path stroke="#EA69F0" d="M1270.2 355.3h0M1334.1 316.7h0"/><path stroke="#48A0FF" d="M1511.8 224.6h0M1589.3 192.7h0"/><path stroke="#00BECA" d="M1300.2 286.9h0M1393.1 221.2h0"/><path stroke="#BC81FF" d="M1429.0 225.4h0M1513.0 186.7h0"/><path stroke="#00BDD5" d="M1311.8 353.2h0M1354.3 319.2h0M1379.5 302.1h0"/><path stroke="#F763E0" d="M1346.8 363.6h0M1415.5 286.3h0"/><path stroke="#EC69EF" d="M1466.6 270.1h0M1520.9 240.5h0"/><path stroke="#00BFC4" d="M1406.8 278.2h0M1446.6 219.7h0"/><path stroke="#00AFF8" d="M1209.4 405.1h0M1237.1 356.4h0M1288.4 332.3h0"/><path stroke="#E76BF3" d="M1616.8 121.4h0M1701.4 111.0h0"/><path stroke="#00A9FF" d="M1496.3 194.2h0M1532.8 181.1h0"/><path stroke="#C77CFF" d="M1447.6 352.7h0M1528.0 278.8h0"/><path stroke="#00A5FF" d="M1212.0 412.9h0M1250.3 372.2h0"/><path stroke="#BE80FF" d="M1583.0 216.7h0M1625.5 175.4h0"/><path stroke="#E76BF3" d="M1237.9 417.3h0M1327.9 338.9h0"/><path stroke="#DD71FA" d="M1178.6 415.5h0M1228.3 414.0h0"/><path stroke="#7797FF" d="M1408.3 255.0h0M1486.1 221.2h0"/><path stroke="#D774FD" d="M1353.8 293.5h0M1425.5 269.3h0"/><path stroke="#BA82FF" d="M1276.6 396.3h0M1346.9 343.5h0"/><path stroke="#00AAFE" d="M1367.6 369.7h0M1430.2 315.9h0"/><path stroke="#FC61D5" d="M1297.8 316.4h0M1370.2 240.2h0"/><path stroke="#AF86FF" d="M1298.3 334.7h0M1389.9 307.7h0"/><path stroke="#E76BF3" d="M1448.7 200.2h0M1503.3 128.4h0"/><path stroke="#619CFF" d="M1087.9 529.7h0M1140.7 523.4h0"/><path stroke="#E76BF3" d="M1191.4 343.6h0M1292.0 306.2h0"/><path stroke="#ED68EE" d="M1380.5 321.9h0M1448.0 287.5h0"/><path stroke="#679BFF" d="M1220.7 341.5h0M1265.3 330.3h0M1305.2 288.3h0"/><path stroke="#F066EA" d="M1244.3 360.9h0M1323.5 338.8h0"/><path stroke="#00A9FF" d="M1121.3 503.5h0M1180.4 432.9h0"/><path stroke="#C07FFF" d="M1371.9 326.7h0M1436.4 299.0h0"/><path stroke="#FF61C3" d="M1244.6 430.6h0M1297.4 365.8h0"/><path stroke="#00B8E5" d="M1466.1 195.2h0M1507.2 173.4h0"/><path stroke="#00C0BF" d="M1502.3 232.1h0M1579.1 219.0h0"/><path stroke="#EF67EB" d="M1523.6 235.9h0M1551.0 215.5h0M1601.2 187.5h0"/><path stroke="#8594FF" d="M1443.4 278.9h0M1535.5 243.7h0"/><path stroke="#7398FF" d="M1198.2 403.6h0M1224.2 361.9h0M1241.3 345.9h0"/><path stroke="#FF63B7" d="M1500.8 296.3h0M1525.8 286.3h0M1545.1 259.4h0"/><path stroke="#4E9FFF" d="M1439.6 289.7h0M1530.9 279.7h0"/><path stroke="#39A1FF" d="M1531.3 254.5h0M1616.3 238.6h0"/><path stroke="#00BFC2" d="M1379.2 308.2h0M1401.2 297.1h0M1428.4 298.5h0"/><path stroke="#DE70F9" d="M1329.9 328.4h0M1430.9 264.9h0"/><path stroke="#00B4F0" d="M1287.9 281.3h0M1365.7 246.3h0"/><path stroke="#00B5EE" d="M1185.9 454.6h0M1232.3 438.3h0"/><path stroke="#9290FF" d="M1091.9 430.2h0M1141.0 368.2h0"/><path stroke="#00BFC3" d="M1360.7 276.9h0M1409.9 210.6h0"/><path stroke="#FF64AF" d="M1343.3 351.1h0M1422.1 296.1h0"/><path stroke="#00BDD1" d="M1268.5 377.6h0M1323.0 327.6h0"/><path stroke="#26A3FF" d="M1454.7 328.5h0M1507.9 261.8h0"/><path stroke="#E16FF7" d="M1273.8 401.6h0M1355.8 312.3h0"/><path stroke="#00B7E8" d="M1309.0 327.1h0M1398.7 290.6h0"/><path stroke="#9590FF" d="M1089.6 498.0h0M1146.2 436.3h0"/><path stroke="#B385FF" d="M1279.2 331.1h0M1345.5 301.1h0"/><path stroke="#FE61CE" d="M1294.5 376.6h0M1317.1 352.0h0M1350.1 329.5h0"/><path stroke="#00BDD2" d="M1324.1 308.4h0M1367.0 299.1h0"/><path stroke="#FF62BA" d="M1426.4 301.2h0M1476.2 262.0h0"/><path stroke="#16A4FF" d="M1312.8 379.3h0M1377.4 294.9h0"/><path stroke="#FF61C5" d="M1271.1 317.9h0M1361.3 268.2h0"/><path stroke="#00BAE1" d="M1341.8 344.2h0M1429.2 327.6h0"/><path stroke="#CF78FF" d="M1136.0 446.7h0M1192.4 426.2h0"/><path stroke="#DA72FB" d="M1390.0 335.6h0M1461.6 317.3h0"/><path stroke="#00B2F3" d="M1296.9 340.3h0M1370.9 276.0h0"/><path stroke="#00ADFB" d="M1484.4 218.0h0M1536.3 169.2h0"/><path stroke="#FF62BF" d="M1424.1 284.2h0M1498.0 228.2h0"/><path stroke="#FF6A98" d="M1612.6 206.0h0M1689.7 178.0h0"/><path stroke="#00B3F1" d="M1199.4 367.6h0M1293.6 329.5h0"/><path stroke="#FF65AC" d="M1327.0 334.8h0M1358.3 326.0h0M1394.9 279.5h0"/><path stroke="#FC727E" d="M1440.1 222.2h0M1513.3 189.5h0"/><path stroke="#5E9CFF" d="M1105.2 437.8h0M1148.0 418.6h0"/><path stroke="#00A9FF" d="M1226.7 456.9h0M1257.6 391.7h0"/><path stroke="#FF65AD" d="M1253.0 423.8h0M1337.0 346.5h0"/><path stroke="#549EFF" d="M1310.7 339.9h0M1375.3 314.7h0"/><path stroke="#00B2F4" d="M1635.6 225.3h0M1700.6 209.2h0"/><path stroke="#00B3F2" d="M1280.1 312.4h0M1357.5 277.2h0"/><path stroke="#F8766F" d="M1268.2 375.3h0M1333.7 325.6h0"/><path stroke="#FF61C3" d="M1411.7 177.0h0M1486.8 137.5h0"/><path stroke="#C87CFF" d="M1405.2 314.6h0M1467.7 235.8h0"/><path stroke="#FE6E8B" d="M1494.9 248.1h0M1565.2 175.7h0"/><path stroke="#AD87FF" d="M1276.2 350.6h0M1361.8 245.5h0"/><path stroke="#8C92FF" d="M1298.7 379.0h0M1381.1 313.7h0"/><path stroke="#FF699C" d="M1228.0 385.4h0M1291.7 344.1h0"/><path stroke="#FB737A" d="M1436.5 249.5h0M1458.0 252.5h0M1489.0 235.2h0"/><path stroke="#F265E7" d="M1452.5 253.5h0M1540.7 169.4h0"/><path stroke="#00B4EF" d="M1374.8 291.1h0M1462.6 254.0h0"/><path stroke="#FF66A8" d="M1383.3 334.8h0M1461.8 275.3h0"/><path stroke="#C47DFF" d="M1426.3 288.0h0M1514.5 226.8h0"/><path stroke="#FC61D3" d="M1374.4 277.7h0M1443.5 241.8h0"/><path stroke="#F862DE" d="M1186.4 460.4h0M1277.8 369.5h0"/><path stroke="#00B1F5" d="M1505.9 289.5h0M1558.4 263.8h0"/><path stroke="#FF62BC" d="M1334.7 376.3h0M1401.9 300.3h0"/><path stroke="#E46DF6" d="M1508.0 226.9h0M1569.7 165.0h0"/><path stroke="#FF63B9" d="M1093.7 493.1h0M1174.7 477.9h0"/><path stroke="#FF6C91" d="M1275.6 311.0h0M1325.0 304.1h0"/><path stroke="#B883FF" d="M1358.6 345.7h0M1404.6 331.8h0"/><path stroke="#9590FF" d="M1378.0 312.4h0M1420.7 376.0h0"/><path stroke="#F962DC" d="M1267.9 311.5h0M1321.7 322.1h0M1367.3 303.4h0"/><path stroke="#EE68ED" d="M1273.5 419.1h0M1370.8 368.8h0"/><path stroke="#599DFF" d="M1300.8 311.1h0M1348.7 268.7h0M1377.7 251.2h0"/><path stroke="#8295FF" d="M1371.2 309.8h0M1454.4 284.1h0"/><path stroke="#F663E1" d="M1347.6 277.0h0M1387.2 272.9h0"/><path stroke="#E26EF7" d="M1352.6 292.2h0M1450.6 209.5h0"/><path stroke="#CC7AFF" d="M1382.4 322.3h0M1466.0 202.1h0"/><path stroke="#D276FF" d="M1325.7 368.1h0M1391.6 328.0h0"/><path stroke="#7B97FF" d="M1314.9 280.3h0M1357.0 296.2h0"/><path stroke="#FF6A98" d="M1509.0 171.7h0M1609.4 162.2h0"/><path stroke="#FB727C" d="M1105.2 472.7h0M1191.7 442.3h0"/><path stroke="#FF6B95" d="M1379.2 318.6h0M1467.7 267.9h0"/><path stroke="#C77CFF" d="M1579.8 253.1h0M1652.7 224.1h0"/><path stroke="#DC72FB" d="M1202.9 397.1h0M1273.2 341.3h0"/><path stroke="#A889FF" d="M1298.2 255.2h0M1393.7 255.2h0"/><path stroke="#FD6F86" d="M1268.2 399.0h0M1306.8 373.2h0"/><path stroke="#F97571" d="M1191.7 342.3h0M1290.7 297.3h0"/><path stroke="#FF63B5" d="M1434.0 287.8h0M1518.3 243.9h0"/><path stroke="#FA61D9" d="M1347.2 331.3h0M1430.5 279.2h0"/><path stroke="#E96AF1" d="M1524.8 251.4h0M1584.0 200.4h0"/><path stroke="#D675FE" d="M1431.6 299.1h0M1518.9 221.7h0"/><path stroke="#FF61CC" d="M1316.6 421.8h0M1392.6 361.4h0"/><path stroke="#9A8EFF" d="M1329.0 329.2h0M1427.3 275.6h0"/><path stroke="#FF6A9A" d="M1348.5 313.0h0M1439.5 252.5h0"/><path stroke="#E76BF3" d="M1095.6 406.3h0M1129.0 396.9h0"/><path stroke="#FF64B2" d="M1449.6 234.5h0M1532.3 176.4h0"/><path stroke="#E06FF8" d="M1233.9 335.1h0M1263.5 353.8h0M1296.1 309.1h0"/><path stroke="#FF61C9" d="M1250.5 394.9h0M1325.7 357.9h0"/><path stroke="#B186FF" d="M1378.3 274.9h0M1425.2 259.8h0"/><path stroke="#FF6A97" d="M1380.1 288.0h0M1476.3 182.3h0"/><path stroke="#F166E8" d="M1165.4 414.8h0M1216.6 388.2h0"/><path stroke="#FA7476" d="M1086.9 480.2h0M1137.7 476.1h0M1182.9 448.2h0"/><path stroke="#F962DB" d="M1463.4 221.9h0M1544.3 208.4h0"/><path stroke="#FC7180" d="M1108.7 449.9h0M1210.0 404.7h0"/><path stroke="#C67DFF" d="M1347.5 335.6h0M1425.1 307.4h0"/><path stroke="#D177FF" d="M1309.4 362.1h0M1397.0 292.7h0"/><path stroke="#E86BF2" d="M1441.8 299.6h0M1497.0 245.6h0"/><path stroke="#FF62C0" d="M1386.4 309.9h0M1424.7 298.5h0"/><path stroke="#F564E3" d="M1421.8 322.6h0M1475.1 296.8h0"/><path stroke="#AA88FF" d="M1381.2 302.3h0M1447.5 261.8h0"/><path stroke="#FF67A5" d="M1443.6 213.9h0M1479.0 172.5h0M1498.7 168.6h0"/><path stroke="#FF6C93" d="M1180.7 399.8h0M1278.1 302.8h0"/><path stroke="#D476FE" d="M1432.8 317.1h0M1513.2 251.4h0"/><path stroke="#FF61C8" d="M1438.1 312.1h0M1504.1 272.1h0"/><path stroke="#FF66AA" d="M1183.7 448.3h0M1229.0 407.2h0"/><path stroke="#FF61C3" d="M1289.2 277.8h0M1350.5 247.7h0"/><path stroke="#FF67A3" d="M1368.6 320.6h0M1444.4 244.8h0"/><path stroke="#F763DF" d="M1238.5 373.8h0M1274.6 327.5h0"/><path stroke="#FD6F88" d="M1455.8 263.1h0M1515.6 228.6h0"/><path stroke="#F365E6" d="M1506.5 241.2h0M1582.6 199.2h0"/><path stroke="#FF61C3" d="M1375.6 356.8h0M1411.6 357.5h0"/><path stroke="#E56DF5" d="M1495.1 204.2h0M1584.5 176.4h0"/><path stroke="#FD61D0" d="M1282.4 343.4h0M1337.9 296.9h0"/><path stroke="#EF67EC" d="M1521.8 265.1h0M1617.5 251.5h0"/><path stroke="#FA7378" d="M1134.7 378.3h0M1173.8 342.4h0"/><path stroke="#FF66A7" d="M1190.8 431.5h0M1289.2 414.5h0"/><path stroke="#E76BF3" d="M1072.8 461.7h0M1125.6 481.7h0"/><path stroke="#FE6D8D" d="M1510.7 213.5h0M1597.6 177.8h0"/><path stroke="#FD7084" d="M1319.5 350.4h0M1362.2 313.4h0"/><path stroke="#F564E4" d="M1214.7 411.6h0M1285.6 346.0h0"/><path stroke="#FF6A98" d="M1611.5 155.9h0M1686.6 140.6h0"/><path stroke="#FF63B4" d="M1493.8 257.4h0M1576.8 197.9h0"/><path stroke="#FD61D2" d="M1234.2 388.6h0M1334.5 297.7h0"/><path stroke="#FB61D7" d="M1309.7 385.8h0M1402.5 301.7h0"/><path stroke="#FF62BD" d="M1426.3 267.0h0M1501.2 199.6h0"/><path stroke="#FF61C2" d="M1280.6 405.3h0M1358.8 374.9h0"/><path stroke="#F464E5" d="M1466.9 310.9h0M1558.2 275.9h0"/><path stroke="#FA62DA" d="M1350.7 326.6h0M1451.5 307.6h0"/><path stroke="#FC61D6" d="M1153.0 471.7h0M1202.7 407.6h0"/><path stroke="#FF68A0" d="M1401.4 318.8h0M1482.5 253.4h0"/><path stroke="#FF61CB" d="M1444.1 265.1h0M1520.7 258.0h0"/><path stroke="#FE61CF" d="M1403.6 240.1h0M1453.3 222.6h0M1491.2 217.9h0"/><path stroke="#FF68A1" d="M1244.8 387.8h0M1320.3 324.8h0"/><path stroke="#FF61C6" d="M1185.5 447.1h0M1223.6 409.5h0"/><path stroke="#FF61C3" d="M1197.6 451.7h0M1231.9 432.9h0"/><path stroke="#FF6D8F" d="M1223.2 333.4h0M1311.4 285.4h0"/><path stroke="#FF64B1" d="M1398.3 301.3h0M1450.8 281.6h0"/><path stroke="#FF699E" d="M1261.6 360.9h0M1350.9 280.0h0"/><path stroke="#F97473" d="M1389.8 319.7h0M1433.5 288.1h0"/><path stroke="#FF6A98" d="M1306.3 354.8h0M1379.9 297.8h0"/><path stroke="#FE6E8A" d="M1197.8 425.7h0M1246.0 376.8h0"/><path stroke="#FC7082" d="M1402.2 255.4h0M1460.8 234.8h0"/></g></g>
<g stroke="#333333" stroke-width="2.7"><line x1="1001.20" x2="1009" y1="414.00" y2="414.00"/><line x1="1001.20" x2="1009" y1="275.10" y2="275.10"/><line x1="1001.20" x2="1009" y1="136.20" y2="136.20"/><line x1="1060.60" x2="1060.60" y1="551.5" y2="559.30"/><line x1="1264.56" x2="1264.56" y1="551.5" y2="559.30"/><line x1="1468.52" x2="1468.52" y1="551.5" y2="559.30"/><line x1="1672.48" x2="1672.48" y1="551.5" y2="559.30"/></g>
<g font-size="30.3" fill="#000"><text x="989.4" y="423.5" text-anchor="end" textLength="32.58" lengthAdjust="spacingAndGlyphs">40</text><text x="989.4" y="284.6" text-anchor="end" textLength="32.58" lengthAdjust="spacingAndGlyphs">60</text><text x="989.4" y="145.7" text-anchor="end" textLength="32.58" lengthAdjust="spacingAndGlyphs">80</text><text x="1060.6" y="592.7" text-anchor="middle" textLength="32.58" lengthAdjust="spacingAndGlyphs">20</text><text x="1264.6" y="592.7" text-anchor="middle" textLength="32.58" lengthAdjust="spacingAndGlyphs">40</text><text x="1468.5" y="592.7" text-anchor="middle" textLength="32.58" lengthAdjust="spacingAndGlyphs">60</text><text x="1672.5" y="592.7" text-anchor="middle" textLength="32.58" lengthAdjust="spacingAndGlyphs">80</text></g>
<text x="1379.2" y="634.5" font-size="30.3" text-anchor="middle" textLength="51.96" lengthAdjust="spacingAndGlyphs">Age</text>
<text transform="translate(925.2,311.1) rotate(-90)" font-size="29.4" text-anchor="middle" textLength="248.7" lengthAdjust="spacingAndGlyphs">DNAmAgeHannum</text>
<text x="1055.4" y="45.2" font-size="34.5" textLength="286.8" lengthAdjust="spacingAndGlyphs">DNAmAgeHannum</text>
<rect x="108" y="760.2" width="741.0" height="486.5" fill="#EBEBEB"/>
<g stroke="#FFFFFF" clip-path="url(#clipc)"><line x1="108" x2="849" y1="1190.50" y2="1190.50" stroke-width="2.0" stroke="#F7F7F7"/><line x1="108" x2="849" y1="1029.10" y2="1029.10" stroke-width="2.0" stroke="#F7F7F7"/><line x1="108" x2="849" y1="867.70" y2="867.70" stroke-width="2.0" stroke="#F7F7F7"/><line x1="261.12" x2="261.12" y1="760.2" y2="1246.7" stroke-width="2.0" stroke="#F7F7F7"/><line x1="465.36" x2="465.36" y1="760.2" y2="1246.7" stroke-width="2.0" stroke="#F7F7F7"/><line x1="669.60" x2="669.60" y1="760.2" y2="1246.7" stroke-width="2.0" stroke="#F7F7F7"/><line x1="108" x2="849" y1="1109.80" y2="1109.80" stroke-width="2.9"/><line x1="108" x2="849" y1="948.40" y2="948.40" stroke-width="2.9"/><line x1="108" x2="849" y1="787.00" y2="787.00" stroke-width="2.9"/><line x1="159.00" x2="159.00" y1="760.2" y2="1246.7" stroke-width="2.9"/><line x1="363.24" x2="363.24" y1="760.2" y2="1246.7" stroke-width="2.9"/><line x1="567.48" x2="567.48" y1="760.2" y2="1246.7" stroke-width="2.9"/><line x1="771.72" x2="771.72" y1="760.2" y2="1246.7" stroke-width="2.9"/></g>
<g clip-path="url(#clipc)" fill="none" stroke-linecap="butt" stroke-linejoin="round"><g stroke-width="2.1"><path stroke="#F67964" d="M475.5 961.2L537.5 914.6"/><path stroke="#F27C55" d="M400.4 1011.9L474.3 972.6"/><path stroke="#F47A5D" d="M361.2 1062.3L387.7 1033.1L433.3 1009.6"/><path stroke="#F77768" d="M415.5 1016.5L434.8 998.8L455.9 976.6"/><path stroke="#EE8041" d="M385.1 1017.1L486.7 945.6"/><path stroke="#E88526" d="M310.4 1111.9L361.7 1044.4"/><path stroke="#F8766D" d="M147.7 1194.4L208.1 1129.3"/><path stroke="#DB8E00" d="M536.0 936.9L628.3 893.9"/><path stroke="#EF7F47" d="M332.2 1066.9L406.4 1019.2"/><path stroke="#E48800" d="M520.0 955.1L536.4 934.5L559.9 935.5"/><path stroke="#DD8C00" d="M464.7 979.7L565.4 906.6"/><path stroke="#D29300" d="M502.7 923.9L560.6 870.0"/><path stroke="#CF9500" d="M363.0 1068.9L452.2 991.1"/><path stroke="#F8766D" d="M335.4 1006.5L417.7 954.1"/><path stroke="#EE8044" d="M533.4 950.0L578.1 915.6L613.2 892.0"/><path stroke="#D89000" d="M444.0 993.7L525.7 932.2"/><path stroke="#D19400" d="M586.8 928.2L648.8 912.4"/><path stroke="#F8766D" d="M643.6 887.6L704.4 886.6"/><path stroke="#D69100" d="M307.4 1073.5L358.2 1030.8"/><path stroke="#CD9500" d="M572.8 888.8L631.8 851.8"/><path stroke="#E38900" d="M379.0 1027.1L416.4 1012.5"/><path stroke="#E08B00" d="M463.9 992.7L489.7 973.3L531.8 963.6"/><path stroke="#F7776B" d="M544.8 913.8L584.4 901.5"/><path stroke="#C19B00" d="M409.6 1018.0L461.8 980.7"/><path stroke="#C79800" d="M588.9 902.1L684.7 885.7"/><path stroke="#E88520" d="M588.9 900.7L614.2 891.7L642.1 866.9"/><path stroke="#E48800" d="M366.7 1022.0L382.3 1027.6L406.0 1007.4"/><path stroke="#F27D53" d="M352.0 1050.1L436.2 975.4"/><path stroke="#B1A100" d="M355.5 1029.8L398.7 1013.7L439.2 993.1"/><path stroke="#E28900" d="M295.0 1087.1L340.6 1044.8"/><path stroke="#D39200" d="M274.4 1116.8L362.1 1046.5"/><path stroke="#F8766D" d="M511.0 919.1L551.5 903.7"/><path stroke="#9EA700" d="M534.3 941.5L620.5 896.4"/><path stroke="#C49900" d="M191.7 1173.5L280.5 1111.3"/><path stroke="#B89E00" d="M538.3 931.1L626.1 857.2"/><path stroke="#EA832F" d="M524.3 923.6L617.4 880.0"/><path stroke="#BD9C00" d="M385.1 1037.0L456.2 1011.0"/><path stroke="#AAA300" d="M584.8 888.2L637.7 860.2"/><path stroke="#F07E4D" d="M496.3 962.1L534.7 937.1"/><path stroke="#F57962" d="M636.7 878.9L691.7 842.6"/><path stroke="#8BAB00" d="M509.5 950.5L562.7 922.6"/><path stroke="#7CAE00" d="M547.9 879.7L670.5 787.9"/><path stroke="#E58700" d="M193.9 1181.0L253.2 1095.1"/><path stroke="#E58705" d="M553.2 923.5L615.0 884.4"/><path stroke="#DC8D00" d="M417.7 1010.7L464.5 986.1"/><path stroke="#92AA00" d="M285.5 1094.0L324.8 1057.5"/><path stroke="#C49A00" d="M141.4 1196.4L208.1 1128.4"/><path stroke="#F37B5A" d="M544.0 965.3L608.1 924.2"/><path stroke="#ED813E" d="M310.2 1051.4L347.4 1018.4"/><path stroke="#8FAB00" d="M627.8 855.7L721.3 822.2"/><path stroke="#B4A000" d="M329.8 1081.3L431.2 1006.3"/><path stroke="#BC9D00" d="M319.6 1066.0L401.8 1013.7"/><path stroke="#DA8F00" d="M150.5 1187.7L235.4 1164.2"/><path stroke="#4FB400" d="M655.1 879.2L704.0 856.0"/><path stroke="#F37C58" d="M349.0 1024.0L414.8 974.5"/><path stroke="#62B200" d="M392.7 1019.4L493.2 952.7"/><path stroke="#EB8237" d="M318.6 1093.3L380.3 1048.3"/><path stroke="#DC8D00" d="M521.9 948.8L609.3 899.8"/><path stroke="#C99700" d="M362.1 1048.4L436.8 987.2"/><path stroke="#97A800" d="M315.8 1078.8L407.0 1003.8"/><path stroke="#A3A500" d="M314.9 1112.6L358.3 1119.6"/><path stroke="#F8766D" d="M709.4 824.8L786.2 813.5"/><path stroke="#CA9700" d="M456.9 967.1L509.3 917.7"/><path stroke="#4BB400" d="M543.6 914.7L580.5 894.8"/><path stroke="#E58700" d="M705.4 823.8L770.2 800.9"/><path stroke="#F17D50" d="M502.9 934.1L588.9 924.3"/><path stroke="#B0A100" d="M494.9 954.1L531.9 937.0"/><path stroke="#6AB100" d="M605.1 902.6L690.5 850.3"/><path stroke="#A9A400" d="M324.8 1044.9L398.4 994.1"/><path stroke="#CC9600" d="M197.1 1158.0L297.2 1094.4"/><path stroke="#00B81C" d="M373.2 1025.6L425.5 988.2"/><path stroke="#12B700" d="M584.2 903.7L644.7 868.2"/><path stroke="#7BAE00" d="M405.5 1000.1L496.7 904.7"/><path stroke="#81AD00" d="M423.3 1015.1L497.9 984.1"/><path stroke="#F07F4A" d="M237.6 1155.9L294.2 1104.8"/><path stroke="#5CB300" d="M444.9 994.2L485.8 958.6"/><path stroke="#9BA800" d="M571.4 912.4L643.8 869.8"/><path stroke="#D09400" d="M414.7 991.7L458.9 970.2"/><path stroke="#E7861A" d="M193.5 1194.0L275.1 1125.4"/><path stroke="#D59100" d="M514.7 932.3L610.2 889.5"/><path stroke="#94A900" d="M503.6 918.6L581.5 883.4"/><path stroke="#00BA38" d="M451.2 1021.4L530.0 976.0"/><path stroke="#2EB600" d="M342.0 1036.0L387.1 1003.6"/><path stroke="#D79000" d="M704.9 886.6L804.0 836.3"/><path stroke="#00BB4A" d="M422.0 975.6L495.6 954.3"/><path stroke="#00BD5C" d="M428.1 980.3L463.0 953.0L502.8 931.5"/><path stroke="#1EB700" d="M594.5 879.3L677.6 874.4"/><path stroke="#A3A500" d="M355.7 1049.5L452.9 978.7"/><path stroke="#E9842B" d="M290.6 1101.2L389.9 1018.0"/><path stroke="#E68612" d="M322.2 1050.5L372.2 1016.2L402.9 986.6"/><path stroke="#47B500" d="M533.9 912.0L587.4 897.8"/><path stroke="#65B200" d="M327.9 1023.8L412.1 962.6"/><path stroke="#00BB47" d="M367.7 1010.4L409.5 992.4"/><path stroke="#F67866" d="M476.2 965.8L553.6 888.5"/><path stroke="#EB8333" d="M423.6 975.5L495.8 937.4"/><path stroke="#00BC54" d="M330.8 1076.0L383.0 1036.7"/><path stroke="#C69900" d="M298.7 1059.7L332.7 1032.6L369.2 1005.0"/><path stroke="#C09B00" d="M293.5 1101.7L379.7 1041.9"/><path stroke="#A4A500" d="M635.6 863.1L675.7 849.4"/><path stroke="#00BE71" d="M510.9 916.3L562.2 894.0"/><path stroke="#99A800" d="M509.3 923.7L607.1 894.8"/><path stroke="#00BA37" d="M495.2 921.1L550.7 908.1"/><path stroke="#F57A5F" d="M350.3 1034.0L440.2 975.5"/><path stroke="#00BA38" d="M314.9 1112.6L400.0 1063.4"/><path stroke="#C39A00" d="M423.2 974.1L507.1 925.5"/><path stroke="#96A900" d="M473.9 944.7L555.2 914.5"/><path stroke="#C89800" d="M576.8 907.4L636.0 874.2"/><path stroke="#F8766D" d="M712.4 873.7L789.2 841.8"/><path stroke="#BE9C00" d="M418.2 988.4L494.6 939.8"/><path stroke="#74B000" d="M487.0 930.8L582.0 891.2"/><path stroke="#00C08B" d="M328.3 1096.7L358.3 1083.4"/><path stroke="#6FB000" d="M578.0 927.4L650.8 868.1"/><path stroke="#00BC4F" d="M479.5 974.9L519.4 941.9"/><path stroke="#00BF7F" d="M430.1 1025.0L529.1 948.7"/><path stroke="#76AF00" d="M462.4 980.8L531.6 925.1"/><path stroke="#E18A00" d="M390.1 1029.3L482.2 954.1"/><path stroke="#7DAE00" d="M289.1 1087.2L390.2 1028.1"/><path stroke="#00BD5E" d="M516.4 964.5L616.6 884.5"/><path stroke="#B3A000" d="M414.4 1037.8L484.3 964.6"/><path stroke="#ADA200" d="M421.6 995.3L464.3 961.9"/><path stroke="#00BE67" d="M458.8 954.6L555.6 883.7"/><path stroke="#00C093" d="M326.8 1023.6L423.5 962.4"/><path stroke="#EC823A" d="M250.6 1131.1L290.3 1105.9"/><path stroke="#A6A500" d="M678.3 848.4L756.2 816.7"/><path stroke="#00BC59" d="M450.4 988.5L533.3 943.0"/><path stroke="#34B600" d="M412.8 1020.2L436.7 1003.4L480.8 985.1"/><path stroke="#A0A600" d="M215.9 1141.6L265.0 1085.9"/><path stroke="#85AD00" d="M356.1 1040.4L385.8 1026.9L425.4 1004.2"/><path stroke="#00C08A" d="M423.9 1000.7L503.8 950.9"/><path stroke="#00C1A3" d="M475.3 953.8L523.2 935.3"/><path stroke="#43B500" d="M402.3 1016.6L452.0 969.1"/><path stroke="#DE8C00" d="M615.6 902.7L661.0 874.5"/><path stroke="#DF8B00" d="M406.7 1008.0L436.3 992.1L453.2 985.0"/><path stroke="#B79F00" d="M562.6 900.7L642.2 853.2"/><path stroke="#AFA200" d="M387.4 1018.3L488.5 944.6"/><path stroke="#00C0B7" d="M418.7 1002.2L520.3 920.4"/><path stroke="#00C1AB" d="M650.0 845.6L670.2 833.4L703.4 827.6"/><path stroke="#00C0BD" d="M413.4 986.7L512.0 933.3"/><path stroke="#00B930" d="M374.9 1027.6L460.6 952.1"/><path stroke="#00C0B1" d="M388.6 1041.4L449.1 997.2"/><path stroke="#00BFC4" d="M245.2 1083.7L266.5 1071.7"/><path stroke="#D98F00" d="M409.3 1000.9L446.9 986.1"/><path stroke="#90AA00" d="M575.5 908.8L628.2 873.8"/><path stroke="#D49200" d="M319.7 1066.7L361.0 1033.2"/><path stroke="#E58700" d="M563.8 877.7L619.3 851.7"/><path stroke="#00B822" d="M460.9 978.4L560.2 912.2"/><path stroke="#ACA300" d="M595.3 915.1L649.0 898.3"/><path stroke="#C49A00" d="M282.4 1139.3L331.6 1088.4"/><path stroke="#CB9600" d="M406.1 1039.4L503.8 952.0"/><path stroke="#00C19A" d="M593.7 950.1L693.0 870.5"/><path stroke="#00C085" d="M697.0 858.4L713.6 847.7L742.1 829.8"/><path stroke="#00BD65" d="M299.8 1078.5L338.2 1051.8"/><path stroke="#00C1AC" d="M221.8 1144.1L304.7 1086.6"/><path stroke="#00C0AF" d="M495.4 951.5L575.3 922.8"/><path stroke="#00BFC6" d="M285.9 1098.6L327.7 1064.3"/><path stroke="#52B400" d="M393.3 1032.8L459.8 993.0"/><path stroke="#27B700" d="M450.9 993.6L503.5 954.2L542.4 920.6"/><path stroke="#83AD00" d="M397.7 1019.2L414.7 1016.7L436.2 1021.1"/><path stroke="#00B70A" d="M342.7 1068.6L406.8 990.0"/><path stroke="#00BB44" d="M536.1 935.4L581.2 904.2"/><path stroke="#6CB100" d="M543.4 938.3L624.3 903.3"/><path stroke="#00B9E2" d="M436.1 982.3L478.9 951.3"/><path stroke="#9CA700" d="M465.8 956.3L502.7 944.0"/><path stroke="#00BECE" d="M365.5 1029.1L402.2 1016.7"/><path stroke="#00BFC4" d="M170.6 1175.2L208.1 1136.8"/><path stroke="#3EB500" d="M462.6 981.2L561.6 902.2"/><path stroke="#00BD60" d="M270.0 1126.8L340.5 1066.4"/><path stroke="#00BECF" d="M439.3 986.3L490.9 937.9L535.4 907.8"/><path stroke="#C29A00" d="M295.3 1077.9L383.1 1024.3"/><path stroke="#7FAE00" d="M335.6 1044.3L429.7 968.0"/><path stroke="#00BA38" d="M697.4 875.7L749.3 827.8"/><path stroke="#A7A400" d="M219.6 1173.5L301.0 1107.6"/><path stroke="#8DAB00" d="M428.7 995.2L494.9 966.8"/><path stroke="#89AC00" d="M351.4 1053.3L451.2 978.0"/><path stroke="#00BB4C" d="M334.4 1039.6L404.9 977.2"/><path stroke="#00B8E6" d="M461.3 980.8L496.2 979.2L531.0 938.1"/><path stroke="#00BE69" d="M478.5 950.3L556.5 911.1"/><path stroke="#B59F00" d="M555.0 933.3L655.0 869.0"/><path stroke="#87AC00" d="M402.2 1000.5L438.0 999.8"/><path stroke="#00BECB" d="M478.2 957.5L508.7 940.3L527.4 931.4"/><path stroke="#00B6EB" d="M542.5 936.1L596.5 898.3"/><path stroke="#00C097" d="M409.2 1005.4L423.4 1009.9L447.7 991.7"/><path stroke="#00B9E3" d="M597.2 886.7L639.0 876.1"/><path stroke="#BB9D00" d="M416.6 1020.6L515.0 948.6"/><path stroke="#B99E00" d="M253.0 1113.1L280.5 1080.3L318.1 1060.1"/><path stroke="#00BFC9" d="M509.1 941.4L582.4 894.4"/><path stroke="#00C08B" d="M143.0 1221.0L251.5 1153.5"/><path stroke="#00BECD" d="M580.3 889.5L670.5 819.1"/><path stroke="#00BD62" d="M245.9 1124.8L329.5 1030.8"/><path stroke="#00BE6D" d="M480.5 936.4L531.1 896.4"/><path stroke="#00C08E" d="M335.4 1060.1L394.4 1025.4"/><path stroke="#00B815" d="M242.6 1137.4L333.8 1072.6"/><path stroke="#00BF79" d="M222.6 1142.4L303.7 1101.2"/><path stroke="#00C0B3" d="M318.5 1067.1L370.5 1019.1"/><path stroke="#00C0BA" d="M288.4 1095.1L388.7 1004.1"/><path stroke="#00A9FF" d="M753.3 819.8L814.1 793.9"/><path stroke="#00C08B" d="M636.6 910.6L737.3 857.7"/><path stroke="#00BC52" d="M509.5 926.7L587.0 904.0"/><path stroke="#00BADF" d="M306.2 1084.3L370.2 1026.5"/><path stroke="#00BF77" d="M309.1 1093.1L332.0 1068.0L359.9 1055.5"/><path stroke="#00BA38" d="M731.4 853.7L815.1 820.4"/><path stroke="#00B927" d="M516.3 923.9L593.9 863.0"/><path stroke="#00BF7B" d="M416.2 1015.0L465.6 984.7"/><path stroke="#00C1A9" d="M207.3 1133.7L279.7 1098.9"/><path stroke="#00B1F6" d="M481.0 937.3L555.6 909.2"/><path stroke="#A1A600" d="M464.1 973.1L515.6 940.3"/><path stroke="#00C090" d="M691.8 871.1L741.3 837.3"/><path stroke="#71B000" d="M304.5 1078.7L324.4 1056.7L355.5 1023.4"/><path stroke="#00BBDB" d="M390.3 1023.8L428.7 987.5"/><path stroke="#67B100" d="M404.1 1030.0L488.8 966.4"/><path stroke="#00C083" d="M339.3 1053.0L384.8 1022.0"/><path stroke="#00BA3B" d="M415.0 1003.9L470.7 970.3"/><path stroke="#00BBDC" d="M209.3 1165.6L247.6 1136.9"/><path stroke="#00BFC7" d="M379.3 1042.3L442.3 997.2"/><path stroke="#00B92B" d="M269.4 1101.0L308.4 1074.0"/><path stroke="#00B6EA" d="M437.6 1007.6L482.0 981.9L535.1 948.2"/><path stroke="#00B8E7" d="M477.2 955.4L569.8 889.4"/><path stroke="#00BA3E" d="M573.4 911.5L620.2 887.2"/><path stroke="#78AF00" d="M400.6 997.0L485.0 947.8"/><path stroke="#6F99FF" d="M612.6 897.1L709.0 837.2"/><path stroke="#00C0B4" d="M551.7 913.4L625.8 892.3"/><path stroke="#00C08B" d="M184.8 1179.3L271.5 1141.0"/><path stroke="#00BF81" d="M305.9 1081.9L369.4 1041.8"/><path stroke="#00BDD3" d="M490.8 921.5L534.9 917.1"/><path stroke="#00B6EC" d="M451.2 1002.1L548.0 932.3"/><path stroke="#00C095" d="M444.7 983.1L507.7 936.9"/><path stroke="#00BCD9" d="M455.5 989.6L505.7 954.2"/><path stroke="#59B300" d="M420.8 1020.3L447.8 990.4L494.2 969.1"/><path stroke="#00BC57" d="M510.4 943.4L609.5 876.1"/><path stroke="#988FFF" d="M447.2 971.2L506.0 940.0"/><path stroke="#00C092" d="M472.0 970.2L511.0 945.9"/><path stroke="#619CFF" d="M186.4 1224.9L239.3 1186.5"/><path stroke="#00ACFC" d="M604.2 880.6L633.1 867.5L657.5 855.5"/><path stroke="#31A2FF" d="M467.8 956.8L504.6 925.9"/><path stroke="#00B5ED" d="M607.3 914.0L676.6 881.4"/><path stroke="#5FB200" d="M270.9 1098.7L357.6 1021.6"/><path stroke="#00BA38" d="M379.2 1075.4L426.3 1040.3"/><path stroke="#00AFF7" d="M424.8 1008.4L494.6 973.5"/><path stroke="#00A6FF" d="M260.5 1140.6L326.2 1096.1"/><path stroke="#00A8FF" d="M477.6 968.8L567.4 920.1"/><path stroke="#00C0B6" d="M545.9 928.9L597.0 883.9"/><path stroke="#00C1A4" d="M502.1 951.4L578.2 909.0"/><path stroke="#00C19F" d="M311.4 1064.3L378.7 1027.7"/><path stroke="#56B300" d="M337.6 1029.3L417.9 969.4"/><path stroke="#00B934" d="M647.0 882.2L691.2 876.0"/><path stroke="#9D8DFF" d="M553.9 942.1L622.8 882.7"/><path stroke="#00A4FF" d="M460.9 974.2L542.8 940.3"/><path stroke="#00C1A6" d="M266.8 1122.5L326.5 1067.2"/><path stroke="#00C08C" d="M398.5 1009.5L456.3 963.2"/><path stroke="#39B600" d="M211.6 1153.0L294.1 1094.4"/><path stroke="#00BA41" d="M661.5 824.7L730.2 823.4"/><path stroke="#9590FF" d="M543.1 916.4L611.5 879.8"/><path stroke="#00C087" d="M594.4 877.6L678.8 834.4"/><path stroke="#00C089" d="M298.1 1072.2L355.7 1046.3"/><path stroke="#8993FF" d="M404.7 1008.9L469.4 947.5"/><path stroke="#00C1AE" d="M301.4 1084.8L381.8 1018.0"/><path stroke="#00C08B" d="M442.6 946.0L510.3 897.1"/><path stroke="#00A9FF" d="M245.4 1072.9L297.7 1036.9L370.9 962.6"/><path stroke="#00BCD6" d="M541.7 928.1L632.1 904.2"/><path stroke="#00B0F6" d="M451.3 1012.2L496.9 972.5"/><path stroke="#00ABFD" d="M337.8 1078.4L403.0 1035.7"/><path stroke="#00BAE0" d="M489.5 937.5L524.2 909.9L554.3 888.8"/><path stroke="#00BFC0" d="M468.0 957.4L520.7 924.3"/><path stroke="#A58AFF" d="M458.0 949.3L497.0 927.2L552.7 900.1"/><path stroke="#00C1A7" d="M292.4 1090.7L378.1 1017.3"/><path stroke="#CA7BFF" d="M303.8 1085.4L389.3 1031.1"/><path stroke="#639CFF" d="M490.4 946.4L506.8 933.8L535.6 907.1"/><path stroke="#00AEFA" d="M484.0 947.2L533.3 928.1"/><path stroke="#00BCD7" d="M344.1 1032.6L394.5 1004.0"/><path stroke="#00C19E" d="M337.4 1052.4L415.2 993.8"/><path stroke="#CD79FF" d="M362.9 1005.5L443.7 959.6"/><path stroke="#00BBDD" d="M501.9 949.3L574.1 916.5"/><path stroke="#A08CFF" d="M581.6 889.7L663.6 838.8"/><path stroke="#C77CFF" d="M679.5 891.6L752.3 868.7"/><path stroke="#00A6FF" d="M455.1 970.4L491.3 962.4"/><path stroke="#A38BFF" d="M512.0 969.0L571.4 927.1"/><path stroke="#00BF75" d="M449.2 978.2L529.7 934.3"/><path stroke="#B684FF" d="M399.2 1057.1L447.7 1005.8"/><path stroke="#00ACFB" d="M522.0 953.1L615.6 902.5"/><path stroke="#00BE6B" d="M226.3 1130.2L296.8 1086.7"/><path stroke="#00A9FF" d="M389.1 958.0L466.2 919.1"/><path stroke="#00BE6F" d="M346.7 1057.2L413.0 1011.7"/><path stroke="#41A0FF" d="M326.8 1098.1L384.4 1058.0"/><path stroke="#00BF7D" d="M303.7 1068.0L393.9 997.2"/><path stroke="#00C19C" d="M406.0 997.5L437.1 988.8L460.0 971.6"/><path stroke="#E66CF4" d="M590.3 918.9L663.4 897.2"/><path stroke="#00A7FF" d="M414.5 988.2L509.3 940.1"/><path stroke="#00BBDA" d="M367.5 1036.6L428.7 984.0"/><path stroke="#6B9AFF" d="M306.9 1065.6L396.9 982.7"/><path stroke="#8F91FF" d="M638.7 867.6L680.5 842.6"/><path stroke="#00A9FF" d="M467.2 955.7L543.3 900.0"/><path stroke="#C27EFF" d="M265.0 1119.4L307.9 1082.2"/><path stroke="#00C098" d="M417.0 1001.3L512.4 940.7"/><path stroke="#00AEF9" d="M499.9 941.5L550.5 925.0"/><path stroke="#00C0B9" d="M506.8 949.9L549.1 935.4L603.3 912.1"/><path stroke="#00AAFD" d="M543.3 915.7L595.6 887.5"/><path stroke="#7E96FF" d="M355.8 1008.1L383.1 990.5L419.7 977.9"/><path stroke="#00BF73" d="M347.1 1052.2L429.7 981.4"/><path stroke="#00C0BC" d="M247.0 1124.7L307.4 1067.7"/><path stroke="#00C1A1" d="M365.8 1040.8L430.1 999.7"/><path stroke="#00B7E9" d="M169.0 1194.2L265.6 1133.3"/><path stroke="#D973FC" d="M420.0 973.2L518.2 924.1"/><path stroke="#00A9FF" d="M244.8 1072.5L281.5 1051.7L308.2 1030.0"/><path stroke="#00B8E7" d="M675.5 810.9L755.3 801.9"/><path stroke="#EA69F0" d="M368.9 1034.5L432.9 987.4"/><path stroke="#48A0FF" d="M610.8 883.5L688.4 860.1"/><path stroke="#9590FF" d="M640.0 880.0L743.7 780.9"/><path stroke="#00BECA" d="M398.9 1028.9L492.0 961.3"/><path stroke="#BC81FF" d="M527.9 958.1L612.0 899.5"/><path stroke="#00BDD5" d="M410.5 994.6L453.1 963.6L478.3 928.9"/><path stroke="#00BFC4" d="M543.5 992.3L637.6 953.9"/><path stroke="#F763E0" d="M445.5 998.2L514.4 961.3"/><path stroke="#EC69EF" d="M565.6 952.0L620.0 900.5"/><path stroke="#00BFC4" d="M505.6 960.5L545.6 938.0"/><path stroke="#00AFF8" d="M308.0 1052.1L335.7 1036.0L387.1 988.7"/><path stroke="#00A9FF" d="M595.3 927.6L631.8 917.4"/><path stroke="#00A5FF" d="M310.6 1107.6L348.9 1077.8"/><path stroke="#BE80FF" d="M682.2 856.2L724.6 840.4"/><path stroke="#E76BF3" d="M336.5 1075.2L426.6 1002.1"/><path stroke="#DD71FA" d="M277.2 1107.8L326.9 1052.6"/><path stroke="#00BFC4" d="M565.8 935.5L600.7 935.9"/><path stroke="#7797FF" d="M507.2 982.0L585.1 912.6"/><path stroke="#00A9FF" d="M599.7 923.5L665.1 912.6"/><path stroke="#D774FD" d="M452.6 997.6L524.4 926.4"/><path stroke="#BA82FF" d="M375.3 1010.7L445.7 983.8"/><path stroke="#00AAFE" d="M466.5 976.1L529.2 942.2"/><path stroke="#FC61D5" d="M396.5 1036.4L469.0 965.9"/><path stroke="#AF86FF" d="M397.0 1003.2L488.7 960.4"/><path stroke="#ED68EE" d="M479.3 957.2L546.9 924.2"/><path stroke="#679BFF" d="M319.3 1058.0L363.9 1030.4L404.0 999.0"/><path stroke="#F066EA" d="M342.9 1077.8L422.2 998.4"/><path stroke="#C07FFF" d="M470.7 959.6L535.3 921.1"/><path stroke="#FF61C3" d="M343.2 1036.4L396.1 981.6"/><path stroke="#00B8E5" d="M565.0 909.5L606.2 893.5"/><path stroke="#00C0BF" d="M601.3 912.5L678.2 875.3"/><path stroke="#EF67EB" d="M622.6 883.0L650.1 866.9L700.4 847.9"/><path stroke="#8594FF" d="M542.3 909.9L634.6 859.6"/><path stroke="#FF61C3" d="M547.9 879.7L602.7 833.8"/><path stroke="#7398FF" d="M296.8 1075.4L322.9 1051.9L340.0 1037.5"/><path stroke="#FF63B7" d="M599.8 887.2L624.9 864.0L644.1 844.5"/><path stroke="#4E9FFF" d="M538.5 903.7L630.0 837.0"/><path stroke="#39A1FF" d="M630.3 859.0L715.4 830.9"/><path stroke="#00BFC2" d="M478.0 946.9L500.1 922.8L527.3 923.2"/><path stroke="#DE70F9" d="M428.7 965.5L529.8 907.5"/><path stroke="#00B4F0" d="M386.6 1020.0L464.6 972.7"/><path stroke="#00B5EE" d="M284.5 1111.5L330.9 1065.3"/><path stroke="#9290FF" d="M190.3 1163.7L239.5 1116.4"/><path stroke="#00BFC3" d="M459.5 1007.0L508.8 977.1"/><path stroke="#FF64AF" d="M442.1 987.9L521.0 926.9"/><path stroke="#00BDD1" d="M367.2 1081.6L421.7 1011.7"/><path stroke="#26A3FF" d="M553.6 946.1L606.9 893.9"/><path stroke="#E16FF7" d="M372.5 1067.9L454.6 996.1"/><path stroke="#00B7E8" d="M407.7 1007.6L497.6 934.5"/><path stroke="#B385FF" d="M377.9 1009.4L444.3 978.3"/><path stroke="#FE61CE" d="M393.2 994.5L415.9 982.8L448.9 960.9"/><path stroke="#00BDD2" d="M422.9 973.5L465.9 942.2"/><path stroke="#FF62BA" d="M525.3 929.0L575.1 903.6"/><path stroke="#16A4FF" d="M411.5 1014.2L476.2 968.6"/><path stroke="#FF61C5" d="M369.8 1020.1L460.2 952.7"/><path stroke="#00BAE1" d="M440.6 965.8L528.1 943.0"/><path stroke="#00A9FF" d="M633.6 831.4L738.3 795.9"/><path stroke="#CF78FF" d="M234.5 1166.8L291.0 1122.4"/><path stroke="#DA72FB" d="M488.9 952.1L560.5 916.9"/><path stroke="#00B2F3" d="M395.7 1026.3L469.7 966.5"/><path stroke="#00ADFB" d="M583.4 931.5L635.3 901.3"/><path stroke="#FF62BF" d="M523.0 906.4L597.0 880.4"/><path stroke="#00B3F1" d="M298.0 1114.8L392.3 1026.5"/><path stroke="#FF65AC" d="M425.8 1004.8L457.1 995.5L493.8 959.7"/><path stroke="#FC727E" d="M539.0 935.4L612.4 893.9"/><path stroke="#5E9CFF" d="M203.6 1151.1L246.5 1121.6"/><path stroke="#FF65AD" d="M351.6 1046.2L435.8 957.9"/><path stroke="#549EFF" d="M409.4 1003.7L474.2 952.9"/><path stroke="#00B2F4" d="M734.8 837.9L799.9 818.1"/><path stroke="#00B3F2" d="M378.8 1038.2L456.3 968.5"/><path stroke="#F8766F" d="M366.9 1044.7L432.4 975.9"/><path stroke="#C87CFF" d="M504.1 980.2L566.7 941.6"/><path stroke="#FE6E8B" d="M593.9 889.5L664.3 860.0"/><path stroke="#AD87FF" d="M374.9 1006.4L460.6 959.9"/><path stroke="#8C92FF" d="M397.4 997.8L479.9 940.7"/><path stroke="#FF699C" d="M326.6 1047.3L390.4 1012.2"/><path stroke="#FB737A" d="M535.4 919.0L557.0 909.5L588.0 885.9"/><path stroke="#F265E7" d="M551.5 932.1L639.8 864.3"/><path stroke="#00B4EF" d="M473.7 962.9L561.5 910.8"/><path stroke="#FF66A8" d="M482.2 961.0L560.7 913.7"/><path stroke="#C47DFF" d="M525.2 911.2L613.5 862.9"/><path stroke="#FC61D3" d="M473.2 942.4L542.4 891.4"/><path stroke="#F862DE" d="M284.9 1069.7L376.5 1010.9"/><path stroke="#00B1F5" d="M604.9 896.3L657.5 872.3"/><path stroke="#FF62BC" d="M433.5 1012.8L500.8 958.0"/><path stroke="#E46DF6" d="M607.1 895.6L668.8 868.6"/><path stroke="#FF63B9" d="M192.1 1144.0L273.3 1088.1"/><path stroke="#FF6C91" d="M374.3 1024.1L423.8 996.1"/><path stroke="#B883FF" d="M457.4 961.1L503.5 924.8"/><path stroke="#F962DC" d="M366.6 1033.7L420.5 983.4L466.1 943.2"/><path stroke="#EE68ED" d="M372.2 1029.1L469.6 928.5"/><path stroke="#599DFF" d="M399.5 995.2L447.5 965.6L476.6 952.4"/><path stroke="#8295FF" d="M470.1 931.2L553.3 897.4"/><path stroke="#F663E1" d="M446.4 964.7L486.1 942.3"/><path stroke="#E26EF7" d="M451.4 991.8L549.5 946.6"/><path stroke="#CC7AFF" d="M481.3 985.8L565.0 917.8"/><path stroke="#D276FF" d="M424.5 1024.2L490.4 979.6"/><path stroke="#7B97FF" d="M413.6 1009.4L455.9 977.0"/><path stroke="#FB727C" d="M203.7 1192.4L290.3 1118.7"/><path stroke="#FF6B95" d="M478.0 969.4L566.7 926.1"/><path stroke="#DC72FB" d="M301.5 1107.1L371.9 1045.7"/><path stroke="#A889FF" d="M397.0 1041.6L492.5 980.2"/><path stroke="#FD6F86" d="M366.8 1025.2L405.5 1003.4"/><path stroke="#F97571" d="M290.2 1088.7L389.5 1003.7"/><path stroke="#FF63B5" d="M532.9 936.5L617.3 894.4"/><path stroke="#FA61D9" d="M446.0 980.6L529.4 935.4"/><path stroke="#E96AF1" d="M623.9 867.9L683.1 826.2"/><path stroke="#E76BF3" d="M172.2 1185.5L224.8 1146.8"/><path stroke="#D675FE" d="M530.5 954.8L617.9 918.2"/><path stroke="#FF61CC" d="M415.3 988.1L491.5 932.1"/><path stroke="#9A8EFF" d="M427.8 981.3L526.2 935.7"/><path stroke="#FF6A9A" d="M447.3 994.4L538.4 942.9"/><path stroke="#FF64B2" d="M548.6 956.0L631.4 906.5"/><path stroke="#E06FF8" d="M332.5 1037.6L362.1 1028.7L394.8 1003.2"/><path stroke="#FF61C9" d="M349.1 1042.6L424.4 992.2"/><path stroke="#B186FF" d="M477.1 977.5L524.1 948.8"/><path stroke="#FF6A97" d="M478.9 986.3L575.3 923.5"/><path stroke="#F166E8" d="M264.0 1111.9L315.2 1063.3"/><path stroke="#FA7476" d="M185.3 1143.5L236.2 1138.1L281.4 1105.9"/><path stroke="#F962DB" d="M562.3 956.7L643.4 885.8"/><path stroke="#FC7180" d="M207.1 1141.2L308.6 1058.9"/><path stroke="#C67DFF" d="M446.3 1013.9L524.0 967.9"/><path stroke="#FF6A98" d="M555.8 983.8L648.6 962.4"/><path stroke="#FF61C3" d="M457.2 928.0L526.6 888.6"/><path stroke="#D177FF" d="M408.2 1005.2L495.8 938.2"/><path stroke="#E86BF2" d="M540.7 943.2L596.0 927.1"/><path stroke="#FF62C0" d="M485.2 962.8L523.6 927.2"/><path stroke="#F564E3" d="M520.7 924.0L574.0 886.5"/><path stroke="#AA88FF" d="M480.1 951.8L546.4 923.7"/><path stroke="#FF67A5" d="M542.5 904.0L577.9 895.0L597.7 875.4"/><path stroke="#FF6C93" d="M279.2 1125.0L376.8 1035.5"/><path stroke="#D476FE" d="M531.7 936.6L612.3 910.4"/><path stroke="#FF61C8" d="M537.0 937.2L603.2 910.0"/><path stroke="#FF66AA" d="M282.2 1101.3L327.6 1054.4"/><path stroke="#FF67A3" d="M467.4 965.8L543.3 937.4"/><path stroke="#FF6A98" d="M561.8 963.0L653.2 911.6"/><path stroke="#F763DF" d="M337.2 1061.3L373.3 1027.4"/><path stroke="#FD6F88" d="M554.8 930.6L614.6 908.0"/><path stroke="#F365E6" d="M605.6 904.8L681.7 844.4"/><path stroke="#E56DF5" d="M594.1 915.3L683.6 876.6"/><path stroke="#FD61D0" d="M381.1 1021.8L436.7 987.9"/><path stroke="#EF67EC" d="M620.8 894.0L716.7 880.2"/><path stroke="#FF61C3" d="M739.3 827.8L801.2 792.3"/><path stroke="#FA7378" d="M233.2 1158.7L272.3 1124.6"/><path stroke="#FF66A7" d="M289.4 1082.2L387.9 1022.9"/><path stroke="#FF61C3" d="M238.2 1093.4L258.2 1085.1"/><path stroke="#FE6D8D" d="M609.7 885.2L696.7 837.4"/><path stroke="#FD7084" d="M418.2 995.3L461.0 967.5"/><path stroke="#F564E4" d="M313.3 1074.5L384.3 1025.9"/><path stroke="#FF63B4" d="M592.8 881.7L675.9 846.6"/><path stroke="#FF61C3" d="M388.6 963.7L417.7 954.1"/><path stroke="#FD61D2" d="M332.8 1040.4L433.3 957.3"/><path stroke="#FB61D7" d="M408.4 1006.7L501.4 916.6"/><path stroke="#FF62BD" d="M525.2 952.8L600.2 911.1"/><path stroke="#FF61C2" d="M379.3 1042.0L457.6 972.6"/><path stroke="#F464E5" d="M565.9 909.5L657.3 847.4"/><path stroke="#FA62DA" d="M449.5 997.4L550.4 928.0"/><path stroke="#FC61D6" d="M251.5 1143.2L301.3 1111.4"/><path stroke="#FF68A0" d="M500.3 963.6L581.5 902.3"/><path stroke="#FF61CB" d="M543.0 923.3L619.7 870.7"/><path stroke="#FE61CF" d="M502.4 964.2L552.2 921.1L590.2 896.3"/><path stroke="#FF61C3" d="M627.6 853.3L665.5 846.8"/><path stroke="#FF68A1" d="M343.4 1050.3L419.1 964.1"/><path stroke="#FF61C6" d="M284.1 1086.7L322.3 1046.3"/><path stroke="#FF61C3" d="M183.4 1181.0L241.5 1145.1"/><path stroke="#FF6D8F" d="M321.8 1062.0L410.1 1006.9"/><path stroke="#FF64B1" d="M497.1 936.5L549.7 918.2"/><path stroke="#FF699E" d="M360.3 1048.0L449.7 983.7"/><path stroke="#F97473" d="M488.7 959.6L532.4 943.9"/><path stroke="#FF6A98" d="M405.0 1001.5L478.7 936.0"/><path stroke="#FE6E8A" d="M296.4 1095.8L344.7 1046.0"/><path stroke="#FC7082" d="M501.1 927.8L559.7 907.5"/></g><g stroke-width="2.9" stroke-linecap="round"><path stroke="#F67964" d="M475.5 961.2h0M537.5 914.6h0"/><path stroke="#F27C55" d="M400.4 1011.9h0M474.3 972.6h0"/><path stroke="#F47A5D" d="M361.2 1062.3h0M387.7 1033.1h0M433.3 1009.6h0"/><path stroke="#F77768" d="M415.5 1016.5h0M434.8 998.8h0M455.9 976.6h0"/><path stroke="#EE8041" d="M385.1 1017.1h0M486.7 945.6h0"/><path stroke="#E88526" d="M310.4 1111.9h0M361.7 1044.4h0"/><path stroke="#F8766D" d="M147.7 1194.4h0M208.1 1129.3h0"/><path stroke="#DB8E00" d="M536.0 936.9h0M628.3 893.9h0"/><path stroke="#EF7F47" d="M332.2 1066.9h0M406.4 1019.2h0"/><path stroke="#E48800" d="M520.0 955.1h0M536.4 934.5h0M559.9 935.5h0"/><path stroke="#DD8C00" d="M464.7 979.7h0M565.4 906.6h0"/><path stroke="#D29300" d="M502.7 923.9h0M560.6 870.0h0"/><path stroke="#CF9500" d="M363.0 1068.9h0M452.2 991.1h0"/><path stroke="#F8766D" d="M335.4 1006.5h0M417.7 954.1h0"/><path stroke="#EE8044" d="M533.4 950.0h0M578.1 915.6h0M613.2 892.0h0"/><path stroke="#D89000" d="M444.0 993.7h0M525.7 932.2h0"/><path stroke="#D19400" d="M586.8 928.2h0M648.8 912.4h0"/><path stroke="#F8766D" d="M643.6 887.6h0M704.4 886.6h0"/><path stroke="#D69100" d="M307.4 1073.5h0M358.2 1030.8h0"/><path stroke="#CD9500" d="M572.8 888.8h0M631.8 851.8h0"/><path stroke="#E38900" d="M379.0 1027.1h0M416.4 1012.5h0"/><path stroke="#E08B00" d="M463.9 992.7h0M489.7 973.3h0M531.8 963.6h0"/><path stroke="#F7776B" d="M544.8 913.8h0M584.4 901.5h0"/><path stroke="#C19B00" d="M409.6 1018.0h0M461.8 980.7h0"/><path stroke="#C79800" d="M588.9 902.1h0M684.7 885.7h0"/><path stroke="#E88520" d="M588.9 900.7h0M614.2 891.7h0M642.1 866.9h0"/><path stroke="#E48800" d="M366.7 1022.0h0M382.3 1027.6h0M406.0 1007.4h0"/><path stroke="#F27D53" d="M352.0 1050.1h0M436.2 975.4h0"/><path stroke="#B1A100" d="M355.5 1029.8h0M398.7 1013.7h0M439.2 993.1h0"/><path stroke="#E28900" d="M295.0 1087.1h0M340.6 1044.8h0"/><path stroke="#D39200" d="M274.4 1116.8h0M362.1 1046.5h0"/><path stroke="#F8766D" d="M511.0 919.1h0M551.5 903.7h0"/><path stroke="#9EA700" d="M534.3 941.5h0M620.5 896.4h0"/><path stroke="#C49900" d="M191.7 1173.5h0M280.5 1111.3h0"/><path stroke="#B89E00" d="M538.3 931.1h0M626.1 857.2h0"/><path stroke="#EA832F" d="M524.3 923.6h0M617.4 880.0h0"/><path stroke="#BD9C00" d="M385.1 1037.0h0M456.2 1011.0h0"/><path stroke="#AAA300" d="M584.8 888.2h0M637.7 860.2h0"/><path stroke="#F07E4D" d="M496.3 962.1h0M534.7 937.1h0"/><path stroke="#F57962" d="M636.7 878.9h0M691.7 842.6h0"/><path stroke="#8BAB00" d="M509.5 950.5h0M562.7 922.6h0"/><path stroke="#7CAE00" d="M547.9 879.7h0M670.5 787.9h0"/><path stroke="#E58700" d="M193.9 1181.0h0M253.2 1095.1h0"/><path stroke="#E58705" d="M553.2 923.5h0M615.0 884.4h0"/><path stroke="#DC8D00" d="M417.7 1010.7h0M464.5 986.1h0"/><path stroke="#92AA00" d="M285.5 1094.0h0M324.8 1057.5h0"/><path stroke="#C49A00" d="M141.4 1196.4h0M208.1 1128.4h0"/><path stroke="#F37B5A" d="M544.0 965.3h0M608.1 924.2h0"/><path stroke="#ED813E" d="M310.2 1051.4h0M347.4 1018.4h0"/><path stroke="#8FAB00" d="M627.8 855.7h0M721.3 822.2h0"/><path stroke="#B4A000" d="M329.8 1081.3h0M431.2 1006.3h0"/><path stroke="#BC9D00" d="M319.6 1066.0h0M401.8 1013.7h0"/><path stroke="#DA8F00" d="M150.5 1187.7h0M235.4 1164.2h0"/><path stroke="#4FB400" d="M655.1 879.2h0M704.0 856.0h0"/><path stroke="#F37C58" d="M349.0 1024.0h0M414.8 974.5h0"/><path stroke="#62B200" d="M392.7 1019.4h0M493.2 952.7h0"/><path stroke="#EB8237" d="M318.6 1093.3h0M380.3 1048.3h0"/><path stroke="#DC8D00" d="M521.9 948.8h0M609.3 899.8h0"/><path stroke="#C99700" d="M362.1 1048.4h0M436.8 987.2h0"/><path stroke="#97A800" d="M315.8 1078.8h0M407.0 1003.8h0"/><path stroke="#A3A500" d="M314.9 1112.6h0M358.3 1119.6h0"/><path stroke="#F8766D" d="M709.4 824.8h0M786.2 813.5h0"/><path stroke="#CA9700" d="M456.9 967.1h0M509.3 917.7h0"/><path stroke="#4BB400" d="M543.6 914.7h0M580.5 894.8h0"/><path stroke="#E58700" d="M705.4 823.8h0M770.2 800.9h0"/><path stroke="#F17D50" d="M502.9 934.1h0M588.9 924.3h0"/><path stroke="#B0A100" d="M494.9 954.1h0M531.9 937.0h0"/><path stroke="#6AB100" d="M605.1 902.6h0M690.5 850.3h0"/><path stroke="#A9A400" d="M324.8 1044.9h0M398.4 994.1h0"/><path stroke="#CC9600" d="M197.1 1158.0h0M297.2 1094.4h0"/><path stroke="#00B81C" d="M373.2 1025.6h0M425.5 988.2h0"/><path stroke="#12B700" d="M584.2 903.7h0M644.7 868.2h0"/><path stroke="#7BAE00" d="M405.5 1000.1h0M496.7 904.7h0"/><path stroke="#81AD00" d="M423.3 1015.1h0M497.9 984.1h0"/><path stroke="#F07F4A" d="M237.6 1155.9h0M294.2 1104.8h0"/><path stroke="#5CB300" d="M444.9 994.2h0M485.8 958.6h0"/><path stroke="#9BA800" d="M571.4 912.4h0M643.8 869.8h0"/><path stroke="#D09400" d="M414.7 991.7h0M458.9 970.2h0"/><path stroke="#E7861A" d="M193.5 1194.0h0M275.1 1125.4h0"/><path stroke="#D59100" d="M514.7 932.3h0M610.2 889.5h0"/><path stroke="#94A900" d="M503.6 918.6h0M581.5 883.4h0"/><path stroke="#00BA38" d="M451.2 1021.4h0M530.0 976.0h0"/><path stroke="#2EB600" d="M342.0 1036.0h0M387.1 1003.6h0"/><path stroke="#D79000" d="M704.9 886.6h0M804.0 836.3h0"/><path stroke="#00BB4A" d="M422.0 975.6h0M495.6 954.3h0"/><path stroke="#00BD5C" d="M428.1 980.3h0M463.0 953.0h0M502.8 931.5h0"/><path stroke="#1EB700" d="M594.5 879.3h0M677.6 874.4h0"/><path stroke="#A3A500" d="M355.7 1049.5h0M452.9 978.7h0"/><path stroke="#E9842B" d="M290.6 1101.2h0M389.9 1018.0h0"/><path stroke="#E68612" d="M322.2 1050.5h0M372.2 1016.2h0M402.9 986.6h0"/><path stroke="#47B500" d="M533.9 912.0h0M587.4 897.8h0"/><path stroke="#65B200" d="M327.9 1023.8h0M412.1 962.6h0"/><path stroke="#00BB47" d="M367.7 1010.4h0M409.5 992.4h0"/><path stroke="#F67866" d="M476.2 965.8h0M553.6 888.5h0"/><path stroke="#EB8333" d="M423.6 975.5h0M495.8 937.4h0"/><path stroke="#00BC54" d="M330.8 1076.0h0M383.0 1036.7h0"/><path stroke="#C69900" d="M298.7 1059.7h0M332.7 1032.6h0M369.2 1005.0h0"/><path stroke="#C09B00" d="M293.5 1101.7h0M379.7 1041.9h0"/><path stroke="#A4A500" d="M635.6 863.1h0M675.7 849.4h0"/><path stroke="#00BE71" d="M510.9 916.3h0M562.2 894.0h0"/><path stroke="#99A800" d="M509.3 923.7h0M607.1 894.8h0"/><path stroke="#00BA37" d="M495.2 921.1h0M550.7 908.1h0"/><path stroke="#F57A5F" d="M350.3 1034.0h0M440.2 975.5h0"/><path stroke="#00BA38" d="M314.9 1112.6h0M400.0 1063.4h0"/><path stroke="#C39A00" d="M423.2 974.1h0M507.1 925.5h0"/><path stroke="#96A900" d="M473.9 944.7h0M555.2 914.5h0"/><path stroke="#C89800" d="M576.8 907.4h0M636.0 874.2h0"/><path stroke="#F8766D" d="M712.4 873.7h0M789.2 841.8h0"/><path stroke="#BE9C00" d="M418.2 988.4h0M494.6 939.8h0"/><path stroke="#74B000" d="M487.0 930.8h0M582.0 891.2h0"/><path stroke="#00C08B" d="M328.3 1096.7h0M358.3 1083.4h0"/><path stroke="#6FB000" d="M578.0 927.4h0M650.8 868.1h0"/><path stroke="#00BC4F" d="M479.5 974.9h0M519.4 941.9h0"/><path stroke="#00BF7F" d="M430.1 1025.0h0M529.1 948.7h0"/><path stroke="#76AF00" d="M462.4 980.8h0M531.6 925.1h0"/><path stroke="#E18A00" d="M390.1 1029.3h0M482.2 954.1h0"/><path stroke="#7DAE00" d="M289.1 1087.2h0M390.2 1028.1h0"/><path stroke="#00BD5E" d="M516.4 964.5h0M616.6 884.5h0"/><path stroke="#B3A000" d="M414.4 1037.8h0M484.3 964.6h0"/><path stroke="#ADA200" d="M421.6 995.3h0M464.3 961.9h0"/><path stroke="#00BE67" d="M458.8 954.6h0M555.6 883.7h0"/><path stroke="#00C093" d="M326.8 1023.6h0M423.5 962.4h0"/><path stroke="#EC823A" d="M250.6 1131.1h0M290.3 1105.9h0"/><path stroke="#A6A500" d="M678.3 848.4h0M756.2 816.7h0"/><path stroke="#00BC59" d="M450.4 988.5h0M533.3 943.0h0"/><path stroke="#34B600" d="M412.8 1020.2h0M436.7 1003.4h0M480.8 985.1h0"/><path stroke="#A0A600" d="M215.9 1141.6h0M265.0 1085.9h0"/><path stroke="#85AD00" d="M356.1 1040.4h0M385.8 1026.9h0M425.4 1004.2h0"/><path stroke="#00C08A" d="M423.9 1000.7h0M503.8 950.9h0"/><path stroke="#00C1A3" d="M475.3 953.8h0M523.2 935.3h0"/><path stroke="#43B500" d="M402.3 1016.6h0M452.0 969.1h0"/><path stroke="#DE8C00" d="M615.6 902.7h0M661.0 874.5h0"/><path stroke="#DF8B00" d="M406.7 1008.0h0M436.3 992.1h0M453.2 985.0h0"/><path stroke="#B79F00" d="M562.6 900.7h0M642.2 853.2h0"/><path stroke="#AFA200" d="M387.4 1018.3h0M488.5 944.6h0"/><path stroke="#00C0B7" d="M418.7 1002.2h0M520.3 920.4h0"/><path stroke="#00C1AB" d="M650.0 845.6h0M670.2 833.4h0M703.4 827.6h0"/><path stroke="#00C0BD" d="M413.4 986.7h0M512.0 933.3h0"/><path stroke="#00B930" d="M374.9 1027.6h0M460.6 952.1h0"/><path stroke="#00C0B1" d="M388.6 1041.4h0M449.1 997.2h0"/><path stroke="#00BFC4" d="M245.2 1083.7h0M266.5 1071.7h0"/><path stroke="#D98F00" d="M409.3 1000.9h0M446.9 986.1h0"/><path stroke="#90AA00" d="M575.5 908.8h0M628.2 873.8h0"/><path stroke="#D49200" d="M319.7 1066.7h0M361.0 1033.2h0"/><path stroke="#E58700" d="M563.8 877.7h0M619.3 851.7h0"/><path stroke="#00B822" d="M460.9 978.4h0M560.2 912.2h0"/><path stroke="#ACA300" d="M595.3 915.1h0M649.0 898.3h0"/><path stroke="#C49A00" d="M282.4 1139.3h0M331.6 1088.4h0"/><path stroke="#CB9600" d="M406.1 1039.4h0M503.8 952.0h0"/><path stroke="#00C19A" d="M593.7 950.1h0M693.0 870.5h0"/><path stroke="#00C085" d="M697.0 858.4h0M713.6 847.7h0M742.1 829.8h0"/><path stroke="#00BD65" d="M299.8 1078.5h0M338.2 1051.8h0"/><path stroke="#00C1AC" d="M221.8 1144.1h0M304.7 1086.6h0"/><path stroke="#00C0AF" d="M495.4 951.5h0M575.3 922.8h0"/><path stroke="#00BFC6" d="M285.9 1098.6h0M327.7 1064.3h0"/><path stroke="#52B400" d="M393.3 1032.8h0M459.8 993.0h0"/><path stroke="#27B700" d="M450.9 993.6h0M503.5 954.2h0M542.4 920.6h0"/><path stroke="#83AD00" d="M397.7 1019.2h0M414.7 1016.7h0M436.2 1021.1h0"/><path stroke="#00B70A" d="M342.7 1068.6h0M406.8 990.0h0"/><path stroke="#00BB44" d="M536.1 935.4h0M581.2 904.2h0"/><path stroke="#6CB100" d="M543.4 938.3h0M624.3 903.3h0"/><path stroke="#00B9E2" d="M436.1 982.3h0M478.9 951.3h0"/><path stroke="#9CA700" d="M465.8 956.3h0M502.7 944.0h0"/><path stroke="#00BECE" d="M365.5 1029.1h0M402.2 1016.7h0"/><path stroke="#00BFC4" d="M170.6 1175.2h0M208.1 1136.8h0"/><path stroke="#3EB500" d="M462.6 981.2h0M561.6 902.2h0"/><path stroke="#00BD60" d="M270.0 1126.8h0M340.5 1066.4h0"/><path stroke="#00BECF" d="M439.3 986.3h0M490.9 937.9h0M535.4 907.8h0"/><path stroke="#C29A00" d="M295.3 1077.9h0M383.1 1024.3h0"/><path stroke="#7FAE00" d="M335.6 1044.3h0M429.7 968.0h0"/><path stroke="#00BA38" d="M697.4 875.7h0M749.3 827.8h0"/><path stroke="#A7A400" d="M219.6 1173.5h0M301.0 1107.6h0"/><path stroke="#8DAB00" d="M428.7 995.2h0M494.9 966.8h0"/><path stroke="#89AC00" d="M351.4 1053.3h0M451.2 978.0h0"/><path stroke="#00BB4C" d="M334.4 1039.6h0M404.9 977.2h0"/><path stroke="#00B8E6" d="M461.3 980.8h0M496.2 979.2h0M531.0 938.1h0"/><path stroke="#00BE69" d="M478.5 950.3h0M556.5 911.1h0"/><path stroke="#B59F00" d="M555.0 933.3h0M655.0 869.0h0"/><path stroke="#87AC00" d="M402.2 1000.5h0M438.0 999.8h0"/><path stroke="#00BECB" d="M478.2 957.5h0M508.7 940.3h0M527.4 931.4h0"/><path stroke="#00B6EB" d="M542.5 936.1h0M596.5 898.3h0"/><path stroke="#00C097" d="M409.2 1005.4h0M423.4 1009.9h0M447.7 991.7h0"/><path stroke="#00B9E3" d="M597.2 886.7h0M639.0 876.1h0"/><path stroke="#BB9D00" d="M416.6 1020.6h0M515.0 948.6h0"/><path stroke="#B99E00" d="M253.0 1113.1h0M280.5 1080.3h0M318.1 1060.1h0"/><path stroke="#00BFC9" d="M509.1 941.4h0M582.4 894.4h0"/><path stroke="#00C08B" d="M143.0 1221.0h0M251.5 1153.5h0"/><path stroke="#00BECD" d="M580.3 889.5h0M670.5 819.1h0"/><path stroke="#00BD62" d="M245.9 1124.8h0M329.5 1030.8h0"/><path stroke="#00BE6D" d="M480.5 936.4h0M531.1 896.4h0"/><path stroke="#00C08E" d="M335.4 1060.1h0M394.4 1025.4h0"/><path stroke="#00B815" d="M242.6 1137.4h0M333.8 1072.6h0"/><path stroke="#00BF79" d="M222.6 1142.4h0M303.7 1101.2h0"/><path stroke="#00C0B3" d="M318.5 1067.1h0M370.5 1019.1h0"/><path stroke="#00C0BA" d="M288.4 1095.1h0M388.7 1004.1h0"/><path stroke="#00A9FF" d="M753.3 819.8h0M814.1 793.9h0"/><path stroke="#00C08B" d="M636.6 910.6h0M737.3 857.7h0"/><path stroke="#00BC52" d="M509.5 926.7h0M587.0 904.0h0"/><path stroke="#00BADF" d="M306.2 1084.3h0M370.2 1026.5h0"/><path stroke="#00BF77" d="M309.1 1093.1h0M332.0 1068.0h0M359.9 1055.5h0"/><path stroke="#00BA38" d="M731.4 853.7h0M815.1 820.4h0"/><path stroke="#00B927" d="M516.3 923.9h0M593.9 863.0h0"/><path stroke="#00BF7B" d="M416.2 1015.0h0M465.6 984.7h0"/><path stroke="#00C1A9" d="M207.3 1133.7h0M279.7 1098.9h0"/><path stroke="#00B1F6" d="M481.0 937.3h0M555.6 909.2h0"/><path stroke="#A1A600" d="M464.1 973.1h0M515.6 940.3h0"/><path stroke="#00C090" d="M691.8 871.1h0M741.3 837.3h0"/><path stroke="#71B000" d="M304.5 1078.7h0M324.4 1056.7h0M355.5 1023.4h0"/><path stroke="#00BBDB" d="M390.3 1023.8h0M428.7 987.5h0"/><path stroke="#67B100" d="M404.1 1030.0h0M488.8 966.4h0"/><path stroke="#00C083" d="M339.3 1053.0h0M384.8 1022.0h0"/><path stroke="#00BA3B" d="M415.0 1003.9h0M470.7 970.3h0"/><path stroke="#00BBDC" d="M209.3 1165.6h0M247.6 1136.9h0"/><path stroke="#00BFC7" d="M379.3 1042.3h0M442.3 997.2h0"/><path stroke="#00B92B" d="M269.4 1101.0h0M308.4 1074.0h0"/><path stroke="#00B6EA" d="M437.6 1007.6h0M482.0 981.9h0M535.1 948.2h0"/><path stroke="#00B8E7" d="M477.2 955.4h0M569.8 889.4h0"/><path stroke="#00BA3E" d="M573.4 911.5h0M620.2 887.2h0"/><path stroke="#78AF00" d="M400.6 997.0h0M485.0 947.8h0"/><path stroke="#6F99FF" d="M612.6 897.1h0M709.0 837.2h0"/><path stroke="#00C0B4" d="M551.7 913.4h0M625.8 892.3h0"/><path stroke="#00C08B" d="M184.8 1179.3h0M271.5 1141.0h0"/><path stroke="#00BF81" d="M305.9 1081.9h0M369.4 1041.8h0"/><path stroke="#00BDD3" d="M490.8 921.5h0M534.9 917.1h0"/><path stroke="#00B6EC" d="M451.2 1002.1h0M548.0 932.3h0"/><path stroke="#00C095" d="M444.7 983.1h0M507.7 936.9h0"/><path stroke="#00BCD9" d="M455.5 989.6h0M505.7 954.2h0"/><path stroke="#59B300" d="M420.8 1020.3h0M447.8 990.4h0M494.2 969.1h0"/><path stroke="#00BC57" d="M510.4 943.4h0M609.5 876.1h0"/><path stroke="#988FFF" d="M447.2 971.2h0M506.0 940.0h0"/><path stroke="#00C092" d="M472.0 970.2h0M511.0 945.9h0"/><path stroke="#619CFF" d="M186.4 1224.9h0M239.3 1186.5h0"/><path stroke="#00ACFC" d="M604.2 880.6h0M633.1 867.5h0M657.5 855.5h0"/><path stroke="#31A2FF" d="M467.8 956.8h0M504.6 925.9h0"/><path stroke="#00B5ED" d="M607.3 914.0h0M676.6 881.4h0"/><path stroke="#5FB200" d="M270.9 1098.7h0M357.6 1021.6h0"/><path stroke="#00BA38" d="M379.2 1075.4h0M426.3 1040.3h0"/><path stroke="#00AFF7" d="M424.8 1008.4h0M494.6 973.5h0"/><path stroke="#00A6FF" d="M260.5 1140.6h0M326.2 1096.1h0"/><path stroke="#00A8FF" d="M477.6 968.8h0M567.4 920.1h0"/><path stroke="#00C0B6" d="M545.9 928.9h0M597.0 883.9h0"/><path stroke="#00C1A4" d="M502.1 951.4h0M578.2 909.0h0"/><path stroke="#00C19F" d="M311.4 1064.3h0M378.7 1027.7h0"/><path stroke="#56B300" d="M337.6 1029.3h0M417.9 969.4h0"/><path stroke="#00B934" d="M647.0 882.2h0M691.2 876.0h0"/><path stroke="#9D8DFF" d="M553.9 942.1h0M622.8 882.7h0"/><path stroke="#00A4FF" d="M460.9 974.2h0M542.8 940.3h0"/><path stroke="#00C1A6" d="M266.8 1122.5h0M326.5 1067.2h0"/><path stroke="#00C08C" d="M398.5 1009.5h0M456.3 963.2h0"/><path stroke="#39B600" d="M211.6 1153.0h0M294.1 1094.4h0"/><path stroke="#00BA41" d="M661.5 824.7h0M730.2 823.4h0"/><path stroke="#9590FF" d="M543.1 916.4h0M611.5 879.8h0"/><path stroke="#00C087" d="M594.4 877.6h0M678.8 834.4h0"/><path stroke="#00C089" d="M298.1 1072.2h0M355.7 1046.3h0"/><path stroke="#8993FF" d="M404.7 1008.9h0M469.4 947.5h0"/><path stroke="#00C1AE" d="M301.4 1084.8h0M381.8 1018.0h0"/><path stroke="#00C08B" d="M442.6 946.0h0M510.3 897.1h0"/><path stroke="#00A9FF" d="M245.4 1072.9h0M297.7 1036.9h0M370.9 962.6h0"/><path stroke="#00BCD6" d="M541.7 928.1h0M632.1 904.2h0"/><path stroke="#00B0F6" d="M451.3 1012.2h0M496.9 972.5h0"/><path stroke="#00ABFD" d="M337.8 1078.4h0M403.0 1035.7h0"/><path stroke="#00BAE0" d="M489.5 937.5h0M524.2 909.9h0M554.3 888.8h0"/><path stroke="#00BFC0" d="M468.0 957.4h0M520.7 924.3h0"/><path stroke="#A58AFF" d="M458.0 949.3h0M497.0 927.2h0M552.7 900.1h0"/><path stroke="#00C1A7" d="M292.4 1090.7h0M378.1 1017.3h0"/><path stroke="#CA7BFF" d="M303.8 1085.4h0M389.3 1031.1h0"/><path stroke="#639CFF" d="M490.4 946.4h0M506.8 933.8h0M535.6 907.1h0"/><path stroke="#00AEFA" d="M484.0 947.2h0M533.3 928.1h0"/><path stroke="#00BCD7" d="M344.1 1032.6h0M394.5 1004.0h0"/><path stroke="#00C19E" d="M337.4 1052.4h0M415.2 993.8h0"/><path stroke="#CD79FF" d="M362.9 1005.5h0M443.7 959.6h0"/><path stroke="#00BBDD" d="M501.9 949.3h0M574.1 916.5h0"/><path stroke="#A08CFF" d="M581.6 889.7h0M663.6 838.8h0"/><path stroke="#C77CFF" d="M679.5 891.6h0M752.3 868.7h0"/><path stroke="#00A6FF" d="M455.1 970.4h0M491.3 962.4h0"/><path stroke="#A38BFF" d="M512.0 969.0h0M571.4 927.1h0"/><path stroke="#00BF75" d="M449.2 978.2h0M529.7 934.3h0"/><path stroke="#B684FF" d="M399.2 1057.1h0M447.7 1005.8h0"/><path stroke="#00ACFB" d="M522.0 953.1h0M615.6 902.5h0"/><path stroke="#00BE6B" d="M226.3 1130.2h0M296.8 1086.7h0"/><path stroke="#00A9FF" d="M389.1 958.0h0M466.2 919.1h0"/><path stroke="#00BE6F" d="M346.7 1057.2h0M413.0 1011.7h0"/><path stroke="#41A0FF" d="M326.8 1098.1h0M384.4 1058.0h0"/><path stroke="#00BF7D" d="M303.7 1068.0h0M393.9 997.2h0"/><path stroke="#00C19C" d="M406.0 997.5h0M437.1 988.8h0M460.0 971.6h0"/><path stroke="#E66CF4" d="M590.3 918.9h0M663.4 897.2h0"/><path stroke="#00A7FF" d="M414.5 988.2h0M509.3 940.1h0"/><path stroke="#00BBDA" d="M367.5 1036.6h0M428.7 984.0h0"/><path stroke="#6B9AFF" d="M306.9 1065.6h0M396.9 982.7h0"/><path stroke="#8F91FF" d="M638.7 867.6h0M680.5 842.6h0"/><path stroke="#00A9FF" d="M467.2 955.7h0M543.3 900.0h0"/><path stroke="#C27EFF" d="M265.0 1119.4h0M307.9 1082.2h0"/><path stroke="#00C098" d="M417.0 1001.3h0M512.4 940.7h0"/><path stroke="#00AEF9" d="M499.9 941.5h0M550.5 925.0h0"/><path stroke="#00C0B9" d="M506.8 949.9h0M549.1 935.4h0M603.3 912.1h0"/><path stroke="#00AAFD" d="M543.3 915.7h0M595.6 887.5h0"/><path stroke="#7E96FF" d="M355.8 1008.1h0M383.1 990.5h0M419.7 977.9h0"/><path stroke="#00BF73" d="M347.1 1052.2h0M429.7 981.4h0"/><path stroke="#00C0BC" d="M247.0 1124.7h0M307.4 1067.7h0"/><path stroke="#00C1A1" d="M365.8 1040.8h0M430.1 999.7h0"/><path stroke="#00B7E9" d="M169.0 1194.2h0M265.6 1133.3h0"/><path stroke="#D973FC" d="M420.0 973.2h0M518.2 924.1h0"/><path stroke="#00A9FF" d="M244.8 1072.5h0M281.5 1051.7h0M308.2 1030.0h0"/><path stroke="#00B8E7" d="M675.5 810.9h0M755.3 801.9h0"/><path stroke="#EA69F0" d="M368.9 1034.5h0M432.9 987.4h0"/><path stroke="#48A0FF" d="M610.8 883.5h0M688.4 860.1h0"/><path stroke="#9590FF" d="M640.0 880.0h0M743.7 780.9h0"/><path stroke="#00BECA" d="M398.9 1028.9h0M492.0 961.3h0"/><path stroke="#BC81FF" d="M527.9 958.1h0M612.0 899.5h0"/><path stroke="#00BDD5" d="M410.5 994.6h0M453.1 963.6h0M478.3 928.9h0"/><path stroke="#00BFC4" d="M543.5 992.3h0M637.6 953.9h0"/><path stroke="#F763E0" d="M445.5 998.2h0M514.4 961.3h0"/><path stroke="#EC69EF" d="M565.6 952.0h0M620.0 900.5h0"/><path stroke="#00BFC4" d="M505.6 960.5h0M545.6 938.0h0"/><path stroke="#00AFF8" d="M308.0 1052.1h0M335.7 1036.0h0M387.1 988.7h0"/><path stroke="#00A9FF" d="M595.3 927.6h0M631.8 917.4h0"/><path stroke="#00A5FF" d="M310.6 1107.6h0M348.9 1077.8h0"/><path stroke="#BE80FF" d="M682.2 856.2h0M724.6 840.4h0"/><path stroke="#E76BF3" d="M336.5 1075.2h0M426.6 1002.1h0"/><path stroke="#DD71FA" d="M277.2 1107.8h0M326.9 1052.6h0"/><path stroke="#00BFC4" d="M565.8 935.5h0M600.7 935.9h0"/><path stroke="#7797FF" d="M507.2 982.0h0M585.1 912.6h0"/><path stroke="#00A9FF" d="M599.7 923.5h0M665.1 912.6h0"/><path stroke="#D774FD" d="M452.6 997.6h0M524.4 926.4h0"/><path stroke="#BA82FF" d="M375.3 1010.7h0M445.7 983.8h0"/><path stroke="#00AAFE" d="M466.5 976.1h0M529.2 942.2h0"/><path stroke="#FC61D5" d="M396.5 1036.4h0M469.0 965.9h0"/><path stroke="#AF86FF" d="M397.0 1003.2h0M488.7 960.4h0"/><path stroke="#ED68EE" d="M479.3 957.2h0M546.9 924.2h0"/><path stroke="#679BFF" d="M319.3 1058.0h0M363.9 1030.4h0M404.0 999.0h0"/><path stroke="#F066EA" d="M342.9 1077.8h0M422.2 998.4h0"/><path stroke="#C07FFF" d="M470.7 959.6h0M535.3 921.1h0"/><path stroke="#FF61C3" d="M343.2 1036.4h0M396.1 981.6h0"/><path stroke="#00B8E5" d="M565.0 909.5h0M606.2 893.5h0"/><path stroke="#00C0BF" d="M601.3 912.5h0M678.2 875.3h0"/><path stroke="#EF67EB" d="M622.6 883.0h0M650.1 866.9h0M700.4 847.9h0"/><path stroke="#8594FF" d="M542.3 909.9h0M634.6 859.6h0"/><path stroke="#FF61C3" d="M547.9 879.7h0M602.7 833.8h0"/><path stroke="#7398FF" d="M296.8 1075.4h0M322.9 1051.9h0M340.0 1037.5h0"/><path stroke="#FF63B7" d="M599.8 887.2h0M624.9 864.0h0M644.1 844.5h0"/><path stroke="#4E9FFF" d="M538.5 903.7h0M630.0 837.0h0"/><path stroke="#39A1FF" d="M630.3 859.0h0M715.4 830.9h0"/><path stroke="#00BFC2" d="M478.0 946.9h0M500.1 922.8h0M527.3 923.2h0"/><path stroke="#DE70F9" d="M428.7 965.5h0M529.8 907.5h0"/><path stroke="#00B4F0" d="M386.6 1020.0h0M464.6 972.7h0"/><path stroke="#00B5EE" d="M284.5 1111.5h0M330.9 1065.3h0"/><path stroke="#9290FF" d="M190.3 1163.7h0M239.5 1116.4h0"/><path stroke="#00BFC3" d="M459.5 1007.0h0M508.8 977.1h0"/><path stroke="#FF64AF" d="M442.1 987.9h0M521.0 926.9h0"/><path stroke="#00BDD1" d="M367.2 1081.6h0M421.7 1011.7h0"/><path stroke="#26A3FF" d="M553.6 946.1h0M606.9 893.9h0"/><path stroke="#E16FF7" d="M372.5 1067.9h0M454.6 996.1h0"/><path stroke="#00B7E8" d="M407.7 1007.6h0M497.6 934.5h0"/><path stroke="#B385FF" d="M377.9 1009.4h0M444.3 978.3h0"/><path stroke="#FE61CE" d="M393.2 994.5h0M415.9 982.8h0M448.9 960.9h0"/><path stroke="#00BDD2" d="M422.9 973.5h0M465.9 942.2h0"/><path stroke="#FF62BA" d="M525.3 929.0h0M575.1 903.6h0"/><path stroke="#16A4FF" d="M411.5 1014.2h0M476.2 968.6h0"/><path stroke="#FF61C5" d="M369.8 1020.1h0M460.2 952.7h0"/><path stroke="#00BAE1" d="M440.6 965.8h0M528.1 943.0h0"/><path stroke="#00A9FF" d="M633.6 831.4h0M738.3 795.9h0"/><path stroke="#CF78FF" d="M234.5 1166.8h0M291.0 1122.4h0"/><path stroke="#DA72FB" d="M488.9 952.1h0M560.5 916.9h0"/><path stroke="#00B2F3" d="M395.7 1026.3h0M469.7 966.5h0"/><path stroke="#00ADFB" d="M583.4 931.5h0M635.3 901.3h0"/><path stroke="#FF62BF" d="M523.0 906.4h0M597.0 880.4h0"/><path stroke="#00B3F1" d="M298.0 1114.8h0M392.3 1026.5h0"/><path stroke="#FF65AC" d="M425.8 1004.8h0M457.1 995.5h0M493.8 959.7h0"/><path stroke="#FC727E" d="M539.0 935.4h0M612.4 893.9h0"/><path stroke="#5E9CFF" d="M203.6 1151.1h0M246.5 1121.6h0"/><path stroke="#FF65AD" d="M351.6 1046.2h0M435.8 957.9h0"/><path stroke="#549EFF" d="M409.4 1003.7h0M474.2 952.9h0"/><path stroke="#00B2F4" d="M734.8 837.9h0M799.9 818.1h0"/><path stroke="#00B3F2" d="M378.8 1038.2h0M456.3 968.5h0"/><path stroke="#F8766F" d="M366.9 1044.7h0M432.4 975.9h0"/><path stroke="#C87CFF" d="M504.1 980.2h0M566.7 941.6h0"/><path stroke="#FE6E8B" d="M593.9 889.5h0M664.3 860.0h0"/><path stroke="#AD87FF" d="M374.9 1006.4h0M460.6 959.9h0"/><path stroke="#8C92FF" d="M397.4 997.8h0M479.9 940.7h0"/><path stroke="#FF699C" d="M326.6 1047.3h0M390.4 1012.2h0"/><path stroke="#FB737A" d="M535.4 919.0h0M557.0 909.5h0M588.0 885.9h0"/><path stroke="#F265E7" d="M551.5 932.1h0M639.8 864.3h0"/><path stroke="#00B4EF" d="M473.7 962.9h0M561.5 910.8h0"/><path stroke="#FF66A8" d="M482.2 961.0h0M560.7 913.7h0"/><path stroke="#C47DFF" d="M525.2 911.2h0M613.5 862.9h0"/><path stroke="#FC61D3" d="M473.2 942.4h0M542.4 891.4h0"/><path stroke="#F862DE" d="M284.9 1069.7h0M376.5 1010.9h0"/><path stroke="#00B1F5" d="M604.9 896.3h0M657.5 872.3h0"/><path stroke="#FF62BC" d="M433.5 1012.8h0M500.8 958.0h0"/><path stroke="#E46DF6" d="M607.1 895.6h0M668.8 868.6h0"/><path stroke="#FF63B9" d="M192.1 1144.0h0M273.3 1088.1h0"/><path stroke="#FF6C91" d="M374.3 1024.1h0M423.8 996.1h0"/><path stroke="#B883FF" d="M457.4 961.1h0M503.5 924.8h0"/><path stroke="#F962DC" d="M366.6 1033.7h0M420.5 983.4h0M466.1 943.2h0"/><path stroke="#EE68ED" d="M372.2 1029.1h0M469.6 928.5h0"/><path stroke="#599DFF" d="M399.5 995.2h0M447.5 965.6h0M476.6 952.4h0"/><path stroke="#8295FF" d="M470.1 931.2h0M553.3 897.4h0"/><path stroke="#F663E1" d="M446.4 964.7h0M486.1 942.3h0"/><path stroke="#E26EF7" d="M451.4 991.8h0M549.5 946.6h0"/><path stroke="#CC7AFF" d="M481.3 985.8h0M565.0 917.8h0"/><path stroke="#D276FF" d="M424.5 1024.2h0M490.4 979.6h0"/><path stroke="#7B97FF" d="M413.6 1009.4h0M455.9 977.0h0"/><path stroke="#FB727C" d="M203.7 1192.4h0M290.3 1118.7h0"/><path stroke="#FF6B95" d="M478.0 969.4h0M566.7 926.1h0"/><path stroke="#DC72FB" d="M301.5 1107.1h0M371.9 1045.7h0"/><path stroke="#A889FF" d="M397.0 1041.6h0M492.5 980.2h0"/><path stroke="#FD6F86" d="M366.8 1025.2h0M405.5 1003.4h0"/><path stroke="#F97571" d="M290.2 1088.7h0M389.5 1003.7h0"/><path stroke="#FF63B5" d="M532.9 936.5h0M617.3 894.4h0"/><path stroke="#FA61D9" d="M446.0 980.6h0M529.4 935.4h0"/><path stroke="#E96AF1" d="M623.9 867.9h0M683.1 826.2h0"/><path stroke="#E76BF3" d="M172.2 1185.5h0M224.8 1146.8h0"/><path stroke="#D675FE" d="M530.5 954.8h0M617.9 918.2h0"/><path stroke="#FF61CC" d="M415.3 988.1h0M491.5 932.1h0"/><path stroke="#9A8EFF" d="M427.8 981.3h0M526.2 935.7h0"/><path stroke="#FF6A9A" d="M447.3 994.4h0M538.4 942.9h0"/><path stroke="#FF64B2" d="M548.6 956.0h0M631.4 906.5h0"/><path stroke="#E06FF8" d="M332.5 1037.6h0M362.1 1028.7h0M394.8 1003.2h0"/><path stroke="#FF61C9" d="M349.1 1042.6h0M424.4 992.2h0"/><path stroke="#B186FF" d="M477.1 977.5h0M524.1 948.8h0"/><path stroke="#FF6A97" d="M478.9 986.3h0M575.3 923.5h0"/><path stroke="#F166E8" d="M264.0 1111.9h0M315.2 1063.3h0"/><path stroke="#FA7476" d="M185.3 1143.5h0M236.2 1138.1h0M281.4 1105.9h0"/><path stroke="#F962DB" d="M562.3 956.7h0M643.4 885.8h0"/><path stroke="#FC7180" d="M207.1 1141.2h0M308.6 1058.9h0"/><path stroke="#C67DFF" d="M446.3 1013.9h0M524.0 967.9h0"/><path stroke="#FF6A98" d="M555.8 983.8h0M648.6 962.4h0"/><path stroke="#FF61C3" d="M457.2 928.0h0M526.6 888.6h0"/><path stroke="#D177FF" d="M408.2 1005.2h0M495.8 938.2h0"/><path stroke="#E86BF2" d="M540.7 943.2h0M596.0 927.1h0"/><path stroke="#FF62C0" d="M485.2 962.8h0M523.6 927.2h0"/><path stroke="#F564E3" d="M520.7 924.0h0M574.0 886.5h0"/><path stroke="#AA88FF" d="M480.1 951.8h0M546.4 923.7h0"/><path stroke="#FF67A5" d="M542.5 904.0h0M577.9 895.0h0M597.7 875.4h0"/><path stroke="#FF6C93" d="M279.2 1125.0h0M376.8 1035.5h0"/><path stroke="#D476FE" d="M531.7 936.6h0M612.3 910.4h0"/><path stroke="#FF61C8" d="M537.0 937.2h0M603.2 910.0h0"/><path stroke="#FF66AA" d="M282.2 1101.3h0M327.6 1054.4h0"/><path stroke="#FF67A3" d="M467.4 965.8h0M543.3 937.4h0"/><path stroke="#FF6A98" d="M561.8 963.0h0M653.2 911.6h0"/><path stroke="#F763DF" d="M337.2 1061.3h0M373.3 1027.4h0"/><path stroke="#FD6F88" d="M554.8 930.6h0M614.6 908.0h0"/><path stroke="#F365E6" d="M605.6 904.8h0M681.7 844.4h0"/><path stroke="#E56DF5" d="M594.1 915.3h0M683.6 876.6h0"/><path stroke="#FD61D0" d="M381.1 1021.8h0M436.7 987.9h0"/><path stroke="#EF67EC" d="M620.8 894.0h0M716.7 880.2h0"/><path stroke="#FF61C3" d="M739.3 827.8h0M801.2 792.3h0"/><path stroke="#FA7378" d="M233.2 1158.7h0M272.3 1124.6h0"/><path stroke="#FF66A7" d="M289.4 1082.2h0M387.9 1022.9h0"/><path stroke="#FF61C3" d="M238.2 1093.4h0M258.2 1085.1h0"/><path stroke="#FE6D8D" d="M609.7 885.2h0M696.7 837.4h0"/><path stroke="#FD7084" d="M418.2 995.3h0M461.0 967.5h0"/><path stroke="#F564E4" d="M313.3 1074.5h0M384.3 1025.9h0"/><path stroke="#FF63B4" d="M592.8 881.7h0M675.9 846.6h0"/><path stroke="#FF61C3" d="M388.6 963.7h0M417.7 954.1h0"/><path stroke="#FD61D2" d="M332.8 1040.4h0M433.3 957.3h0"/><path stroke="#FB61D7" d="M408.4 1006.7h0M501.4 916.6h0"/><path stroke="#FF62BD" d="M525.2 952.8h0M600.2 911.1h0"/><path stroke="#FF61C2" d="M379.3 1042.0h0M457.6 972.6h0"/><path stroke="#F464E5" d="M565.9 909.5h0M657.3 847.4h0"/><path stroke="#FA62DA" d="M449.5 997.4h0M550.4 928.0h0"/><path stroke="#FC61D6" d="M251.5 1143.2h0M301.3 1111.4h0"/><path stroke="#FF68A0" d="M500.3 963.6h0M581.5 902.3h0"/><path stroke="#FF61CB" d="M543.0 923.3h0M619.7 870.7h0"/><path stroke="#FE61CF" d="M502.4 964.2h0M552.2 921.1h0M590.2 896.3h0"/><path stroke="#FF61C3" d="M627.6 853.3h0M665.5 846.8h0"/><path stroke="#FF68A1" d="M343.4 1050.3h0M419.1 964.1h0"/><path stroke="#FF61C6" d="M284.1 1086.7h0M322.3 1046.3h0"/><path stroke="#FF61C3" d="M183.4 1181.0h0M241.5 1145.1h0"/><path stroke="#FF6D8F" d="M321.8 1062.0h0M410.1 1006.9h0"/><path stroke="#FF64B1" d="M497.1 936.5h0M549.7 918.2h0"/><path stroke="#FF699E" d="M360.3 1048.0h0M449.7 983.7h0"/><path stroke="#F97473" d="M488.7 959.6h0M532.4 943.9h0"/><path stroke="#FF6A98" d="M405.0 1001.5h0M478.7 936.0h0"/><path stroke="#FE6E8A" d="M296.4 1095.8h0M344.7 1046.0h0"/><path stroke="#FC7082" d="M501.1 927.8h0M559.7 907.5h0"/></g></g>
<g stroke="#333333" stroke-width="2.7"><line x1="100.20" x2="108" y1="1109.80" y2="1109.80"/><line x1="100.20" x2="108" y1="948.40" y2="948.40"/><line x1="100.20" x2="108" y1="787.00" y2="787.00"/><line x1="159.00" x2="159.00" y1="1246.7" y2="1254.50"/><line x1="363.24" x2="363.24" y1="1246.7" y2="1254.50"/><line x1="567.48" x2="567.48" y1="1246.7" y2="1254.50"/><line x1="771.72" x2="771.72" y1="1246.7" y2="1254.50"/></g>
<g font-size="30.3" fill="#000"><text x="88.4" y="1119.3" text-anchor="end" textLength="32.58" lengthAdjust="spacingAndGlyphs">40</text><text x="88.4" y="957.9" text-anchor="end" textLength="32.58" lengthAdjust="spacingAndGlyphs">60</text><text x="88.4" y="796.5" text-anchor="end" textLength="32.58" lengthAdjust="spacingAndGlyphs">80</text><text x="159.0" y="1287.9" text-anchor="middle" textLength="32.58" lengthAdjust="spacingAndGlyphs">20</text><text x="363.2" y="1287.9" text-anchor="middle" textLength="32.58" lengthAdjust="spacingAndGlyphs">40</text><text x="567.5" y="1287.9" text-anchor="middle" textLength="32.58" lengthAdjust="spacingAndGlyphs">60</text><text x="771.7" y="1287.9" text-anchor="middle" textLength="32.58" lengthAdjust="spacingAndGlyphs">80</text></g>
<text x="478.5" y="1329.7" font-size="30.3" text-anchor="middle" textLength="51.96" lengthAdjust="spacingAndGlyphs">Age</text>
<text transform="translate(24.2,1002.1) rotate(-90)" font-size="29.4" text-anchor="middle" textLength="265.5" lengthAdjust="spacingAndGlyphs">DNAmAgeSkinClock</text>
<text x="157.8" y="742.0" font-size="34.5" textLength="306.5" lengthAdjust="spacingAndGlyphs">DNAmAgeSkinClock</text>
<rect x="1009.6" y="760.2" width="739.9" height="486.5" fill="#EBEBEB"/>
<g stroke="#FFFFFF" clip-path="url(#clipd)"><line x1="1009.6" x2="1749.5" y1="1174.00" y2="1174.00" stroke-width="2.0" stroke="#F7F7F7"/><line x1="1009.6" x2="1749.5" y1="1053.60" y2="1053.60" stroke-width="2.0" stroke="#F7F7F7"/><line x1="1009.6" x2="1749.5" y1="933.20" y2="933.20" stroke-width="2.0" stroke="#F7F7F7"/><line x1="1009.6" x2="1749.5" y1="812.80" y2="812.80" stroke-width="2.0" stroke="#F7F7F7"/><line x1="1162.30" x2="1162.30" y1="760.2" y2="1246.7" stroke-width="2.0" stroke="#F7F7F7"/><line x1="1366.30" x2="1366.30" y1="760.2" y2="1246.7" stroke-width="2.0" stroke="#F7F7F7"/><line x1="1570.30" x2="1570.30" y1="760.2" y2="1246.7" stroke-width="2.0" stroke="#F7F7F7"/><line x1="1009.6" x2="1749.5" y1="1234.20" y2="1234.20" stroke-width="2.9"/><line x1="1009.6" x2="1749.5" y1="1113.80" y2="1113.80" stroke-width="2.9"/><line x1="1009.6" x2="1749.5" y1="993.40" y2="993.40" stroke-width="2.9"/><line x1="1009.6" x2="1749.5" y1="873.00" y2="873.00" stroke-width="2.9"/><line x1="1060.30" x2="1060.30" y1="760.2" y2="1246.7" stroke-width="2.9"/><line x1="1264.30" x2="1264.30" y1="760.2" y2="1246.7" stroke-width="2.9"/><line x1="1468.30" x2="1468.30" y1="760.2" y2="1246.7" stroke-width="2.9"/><line x1="1672.30" x2="1672.30" y1="760.2" y2="1246.7" stroke-width="2.9"/></g>
<g clip-path="url(#clipd)" fill="none" stroke-linecap="butt" stroke-linejoin="round"><g stroke-width="2.1"><path stroke="#F67964" d="M1376.4 977.5L1438.4 962.8"/><path stroke="#F27C55" d="M1301.5 1073.6L1375.2 1008.3"/><path stroke="#F47A5D" d="M1262.2 1029.8L1288.7 1037.8L1334.2 1032.9"/><path stroke="#F77768" d="M1316.5 1035.8L1335.7 997.3L1356.8 970.3"/><path stroke="#EE8041" d="M1286.1 990.8L1387.7 942.7"/><path stroke="#E88526" d="M1211.6 1059.0L1262.7 1026.2"/><path stroke="#DB8E00" d="M1436.9 944.5L1529.1 983.9"/><path stroke="#EF7F47" d="M1233.3 1035.7L1307.4 1000.9"/><path stroke="#E48800" d="M1420.9 992.6L1437.3 1000.1L1460.7 965.0"/><path stroke="#DD8C00" d="M1365.6 1023.4L1466.2 1003.0"/><path stroke="#D29300" d="M1403.6 977.2L1461.4 935.6"/><path stroke="#CF9500" d="M1264.0 1077.0L1353.2 1012.8"/><path stroke="#F8766D" d="M1047.9 1156.4L1109.1 1159.0"/><path stroke="#EE8044" d="M1434.2 996.1L1478.9 967.9L1514.0 938.8"/><path stroke="#D89000" d="M1345.0 981.8L1426.6 929.8"/><path stroke="#D19400" d="M1487.6 922.9L1549.6 934.6"/><path stroke="#D69100" d="M1208.5 1036.0L1259.3 1024.8"/><path stroke="#CD9500" d="M1473.6 949.4L1532.6 926.0"/><path stroke="#E38900" d="M1280.0 1070.0L1317.4 1009.9"/><path stroke="#E08B00" d="M1364.9 969.6L1390.7 959.1L1432.6 916.8"/><path stroke="#F7776B" d="M1445.7 975.8L1485.2 964.6"/><path stroke="#C19B00" d="M1310.6 987.2L1362.7 921.4"/><path stroke="#C79800" d="M1489.7 930.5L1585.4 885.5"/><path stroke="#C49A00" d="M1042.4 1209.1L1120.2 1143.5"/><path stroke="#E88520" d="M1489.7 963.8L1515.0 975.4L1542.9 987.7"/><path stroke="#E48800" d="M1267.8 1052.1L1283.3 1041.5L1307.0 1026.8"/><path stroke="#A3A500" d="M1093.5 1189.0L1133.5 1163.5"/><path stroke="#F27D53" d="M1253.1 1080.5L1337.1 1032.6"/><path stroke="#B1A100" d="M1256.6 1033.3L1299.7 1018.6L1340.2 964.5"/><path stroke="#E28900" d="M1196.1 1066.0L1241.7 1030.6"/><path stroke="#A3A500" d="M1236.9 1145.7L1271.4 1113.4"/><path stroke="#D39200" d="M1175.5 1097.8L1263.1 1045.8"/><path stroke="#F8766D" d="M1411.8 983.5L1452.3 995.0"/><path stroke="#9EA700" d="M1435.2 1010.3L1521.2 940.4"/><path stroke="#C49900" d="M1092.9 1157.7L1181.6 1100.9"/><path stroke="#B89E00" d="M1439.2 933.9L1526.8 902.4"/><path stroke="#EA832F" d="M1425.2 977.8L1518.2 887.5"/><path stroke="#BD9C00" d="M1286.1 1038.9L1357.1 991.5"/><path stroke="#AAA300" d="M1485.6 967.5L1538.5 945.9"/><path stroke="#F07E4D" d="M1397.2 972.8L1435.5 937.1"/><path stroke="#F57962" d="M1537.5 913.0L1592.4 910.1"/><path stroke="#8BAB00" d="M1410.3 1039.7L1463.5 988.7"/><path stroke="#E58705" d="M1454.1 906.6L1515.8 894.6"/><path stroke="#C49A00" d="M1565.2 982.1L1596.3 982.1"/><path stroke="#DC8D00" d="M1318.7 1069.5L1365.5 1021.4"/><path stroke="#92AA00" d="M1186.6 1115.2L1225.9 1090.1"/><path stroke="#F37B5A" d="M1444.8 930.4L1508.9 886.6"/><path stroke="#ED813E" d="M1211.3 1057.9L1248.5 1021.8"/><path stroke="#8FAB00" d="M1528.5 950.7L1621.9 878.8"/><path stroke="#B4A000" d="M1230.9 1084.7L1332.2 1035.4"/><path stroke="#BC9D00" d="M1220.7 1072.0L1302.8 1006.5"/><path stroke="#DA8F00" d="M1051.9 1165.8L1136.6 1139.9"/><path stroke="#4FB400" d="M1555.8 1008.3L1604.7 957.1"/><path stroke="#F37C58" d="M1250.1 1033.8L1315.8 1001.2"/><path stroke="#62B200" d="M1293.8 1009.6L1394.1 963.2"/><path stroke="#EB8237" d="M1219.7 1069.6L1281.3 1009.6"/><path stroke="#DC8D00" d="M1422.8 917.3L1510.1 863.3"/><path stroke="#C99700" d="M1263.2 1019.2L1337.7 976.1"/><path stroke="#97A800" d="M1216.9 1085.1L1308.0 973.8"/><path stroke="#CA9700" d="M1357.8 1018.5L1410.2 1008.9"/><path stroke="#4BB400" d="M1444.4 968.7L1481.3 944.9"/><path stroke="#E58700" d="M1126.9 1091.2L1153.5 1083.4"/><path stroke="#F17D50" d="M1403.8 1009.9L1489.7 986.4"/><path stroke="#B0A100" d="M1395.8 961.7L1432.7 947.4"/><path stroke="#6AB100" d="M1505.9 931.8L1591.2 951.8"/><path stroke="#A9A400" d="M1225.9 1063.9L1299.4 1004.9"/><path stroke="#CC9600" d="M1098.3 1148.4L1198.4 1095.9"/><path stroke="#00B81C" d="M1274.2 961.3L1326.5 972.4"/><path stroke="#12B700" d="M1485.0 993.0L1545.4 982.0"/><path stroke="#7BAE00" d="M1306.5 1058.5L1397.6 994.3"/><path stroke="#81AD00" d="M1324.3 1050.2L1398.8 981.0"/><path stroke="#F07F4A" d="M1138.8 1098.4L1195.3 1028.8"/><path stroke="#5CB300" d="M1345.9 1013.7L1386.7 993.7"/><path stroke="#9BA800" d="M1472.2 953.4L1544.5 908.8"/><path stroke="#D09400" d="M1315.7 1017.5L1359.8 1008.5"/><path stroke="#E7861A" d="M1094.8 1156.6L1176.3 1085.6"/><path stroke="#D59100" d="M1415.5 981.6L1510.9 911.2"/><path stroke="#94A900" d="M1404.5 959.4L1482.3 918.6"/><path stroke="#2EB600" d="M1243.1 1072.5L1288.1 1008.4"/><path stroke="#D79000" d="M1605.5 964.4L1704.5 923.6"/><path stroke="#00BB4A" d="M1323.0 1052.2L1396.5 982.8"/><path stroke="#00BD5C" d="M1329.1 980.9L1364.0 974.1L1403.7 983.0"/><path stroke="#1EB700" d="M1495.3 946.7L1578.3 926.2"/><path stroke="#A3A500" d="M1256.7 1015.0L1353.9 977.1"/><path stroke="#E9842B" d="M1191.8 1084.5L1291.0 1070.4"/><path stroke="#E68612" d="M1223.3 1022.9L1273.3 1027.9L1303.9 980.9"/><path stroke="#47B500" d="M1434.7 1004.9L1488.2 929.2"/><path stroke="#65B200" d="M1229.0 1097.5L1313.1 1035.0"/><path stroke="#00BB47" d="M1268.8 1043.8L1310.5 1032.3"/><path stroke="#F67866" d="M1377.2 935.6L1454.5 935.8"/><path stroke="#EB8333" d="M1324.6 992.5L1396.7 927.2"/><path stroke="#00BC54" d="M1231.9 1077.1L1284.1 1044.6"/><path stroke="#C69900" d="M1199.8 1113.0L1233.8 1072.2L1270.3 1051.1"/><path stroke="#C09B00" d="M1194.6 1042.7L1280.7 983.3"/><path stroke="#A4A500" d="M1536.3 885.1L1576.4 858.2"/><path stroke="#F8766D" d="M1555.8 880.7L1686.8 830.7"/><path stroke="#00BE71" d="M1411.8 949.6L1463.1 924.1"/><path stroke="#99A800" d="M1410.2 975.5L1507.8 968.8"/><path stroke="#00BA37" d="M1396.1 960.9L1451.6 907.7"/><path stroke="#F57A5F" d="M1251.4 1024.9L1341.2 965.3"/><path stroke="#E58700" d="M1134.6 1192.4L1178.0 1145.7"/><path stroke="#C39A00" d="M1324.2 1034.9L1408.0 980.5"/><path stroke="#96A900" d="M1374.8 920.7L1456.1 882.4"/><path stroke="#C89800" d="M1477.6 965.7L1536.8 935.6"/><path stroke="#BE9C00" d="M1319.2 1028.6L1395.5 1028.3"/><path stroke="#74B000" d="M1387.9 1003.4L1482.8 955.9"/><path stroke="#6FB000" d="M1478.8 969.4L1551.5 960.6"/><path stroke="#00BC4F" d="M1380.4 1031.3L1420.2 1003.7"/><path stroke="#00BF7F" d="M1331.1 1012.5L1429.9 993.0"/><path stroke="#76AF00" d="M1363.4 984.8L1432.5 929.2"/><path stroke="#E18A00" d="M1291.2 1037.5L1383.2 1020.0"/><path stroke="#7DAE00" d="M1190.2 1155.0L1291.2 1068.8"/><path stroke="#E58700" d="M1542.6 964.2L1568.0 964.2"/><path stroke="#C49A00" d="M1136.9 1075.0L1186.9 1075.6"/><path stroke="#00BD5E" d="M1417.2 932.7L1517.4 904.5"/><path stroke="#B3A000" d="M1315.4 1013.2L1385.3 1002.4"/><path stroke="#ADA200" d="M1322.6 1012.6L1365.3 965.0"/><path stroke="#00BE67" d="M1359.7 1053.8L1456.4 977.9"/><path stroke="#00C093" d="M1227.9 1095.7L1324.5 1046.6"/><path stroke="#EC823A" d="M1151.8 1125.9L1191.4 1114.2"/><path stroke="#A6A500" d="M1579.0 919.1L1656.8 864.6"/><path stroke="#C49A00" d="M1480.3 948.6L1506.7 1008.9"/><path stroke="#00BC59" d="M1351.4 1003.5L1434.1 967.1"/><path stroke="#34B600" d="M1313.8 1049.7L1337.7 1028.3L1381.7 1008.4"/><path stroke="#A0A600" d="M1117.1 1123.7L1166.2 1073.3"/><path stroke="#85AD00" d="M1257.2 1079.5L1286.9 1052.3L1326.3 1004.4"/><path stroke="#00C08A" d="M1324.9 994.0L1404.6 946.0"/><path stroke="#7CAE00" d="M1483.2 878.4L1570.9 821.3"/><path stroke="#00C1A3" d="M1376.2 1001.9L1424.1 985.1"/><path stroke="#43B500" d="M1303.3 1000.3L1353.0 1000.1"/><path stroke="#DE8C00" d="M1516.3 910.1L1561.8 908.4"/><path stroke="#DF8B00" d="M1307.8 1025.7L1337.2 1008.4L1354.2 997.7"/><path stroke="#B79F00" d="M1463.4 942.3L1542.9 900.7"/><path stroke="#AFA200" d="M1288.4 1037.0L1389.4 947.5"/><path stroke="#00BA38" d="M1632.1 919.3L1715.1 830.7"/><path stroke="#E58700" d="M1591.6 951.4L1670.8 861.5"/><path stroke="#00C0B7" d="M1319.7 1024.8L1421.1 971.4"/><path stroke="#00C1AB" d="M1550.8 860.0L1570.9 841.8L1604.0 839.7"/><path stroke="#00C0BD" d="M1314.4 988.5L1412.8 924.0"/><path stroke="#00B930" d="M1276.0 1132.3L1361.6 1028.4"/><path stroke="#00C0B1" d="M1289.7 1030.9L1350.1 989.6"/><path stroke="#D98F00" d="M1310.3 1030.9L1347.8 1002.3"/><path stroke="#00C08B" d="M1084.6 1225.1L1173.6 1177.3"/><path stroke="#90AA00" d="M1476.3 937.5L1529.0 946.1"/><path stroke="#D49200" d="M1220.8 1117.6L1262.1 1065.7"/><path stroke="#00B822" d="M1361.9 1028.5L1461.0 973.3"/><path stroke="#00BE67" d="M1183.6 1008.9L1268.1 954.9"/><path stroke="#ACA300" d="M1496.1 960.7L1549.8 915.0"/><path stroke="#CB9600" d="M1307.1 1000.8L1404.7 1011.6"/><path stroke="#00C19A" d="M1494.5 951.4L1593.7 942.1"/><path stroke="#00C085" d="M1597.6 930.0L1614.2 928.0L1642.7 927.4"/><path stroke="#00C08B" d="M1567.1 916.5L1637.8 936.3"/><path stroke="#00BD65" d="M1200.9 1081.2L1239.3 1076.1"/><path stroke="#00C1AC" d="M1123.0 1145.7L1205.8 1087.9"/><path stroke="#00C0AF" d="M1396.3 964.8L1476.1 966.4"/><path stroke="#00BFC6" d="M1187.0 1086.9L1228.8 1068.2"/><path stroke="#52B400" d="M1294.3 1011.2L1360.8 950.6"/><path stroke="#27B700" d="M1351.8 981.2L1404.4 940.5L1443.2 916.9"/><path stroke="#83AD00" d="M1298.7 1081.2L1315.7 1094.6L1337.2 1045.5"/><path stroke="#00C08B" d="M1568.0 857.1L1670.8 831.7"/><path stroke="#00B70A" d="M1243.8 1024.1L1307.8 947.7"/><path stroke="#00BB44" d="M1437.0 958.4L1482.0 940.8"/><path stroke="#6CB100" d="M1444.3 966.9L1525.1 935.3"/><path stroke="#00B9E2" d="M1337.1 990.9L1379.9 988.2"/><path stroke="#9CA700" d="M1366.7 1063.5L1403.6 1044.7"/><path stroke="#00BECE" d="M1266.6 1030.9L1303.3 1054.4"/><path stroke="#00BA38" d="M1088.0 1214.6L1178.0 1123.4"/><path stroke="#3EB500" d="M1363.5 993.4L1462.4 893.9"/><path stroke="#00BD60" d="M1171.2 1076.6L1241.5 1044.8"/><path stroke="#00BECF" d="M1340.3 1009.1L1391.8 978.1L1436.3 978.5"/><path stroke="#C29A00" d="M1196.5 1082.9L1284.2 1026.7"/><path stroke="#7FAE00" d="M1236.7 1067.3L1330.7 1028.8"/><path stroke="#A7A400" d="M1120.8 1091.9L1202.2 1034.9"/><path stroke="#8DAB00" d="M1329.7 954.9L1395.8 931.3"/><path stroke="#89AC00" d="M1252.4 1031.5L1352.2 963.5"/><path stroke="#00BB4C" d="M1235.5 1096.9L1306.0 1055.5"/><path stroke="#00B8E6" d="M1362.3 1056.2L1397.1 1041.7L1431.9 1023.4"/><path stroke="#00BE69" d="M1379.4 1007.3L1457.3 979.6"/><path stroke="#B59F00" d="M1455.9 931.5L1555.7 976.3"/><path stroke="#87AC00" d="M1303.2 1020.1L1339.0 991.2"/><path stroke="#00BECB" d="M1379.1 982.3L1409.6 982.3L1428.3 967.9"/><path stroke="#00B6EB" d="M1443.3 971.6L1497.3 944.1"/><path stroke="#00C097" d="M1310.2 1063.4L1324.4 1060.1L1348.6 1060.6"/><path stroke="#00B9E3" d="M1498.0 911.5L1539.8 898.2"/><path stroke="#BB9D00" d="M1317.6 1026.1L1415.9 956.9"/><path stroke="#00BA38" d="M1186.9 1022.3L1243.6 997.1"/><path stroke="#B99E00" d="M1154.2 1168.5L1181.6 1138.8L1219.2 1096.5"/><path stroke="#00BFC9" d="M1410.0 967.9L1483.2 901.5"/><path stroke="#00C08B" d="M1044.6 1169.0L1151.3 1052.3"/><path stroke="#00BECD" d="M1481.1 984.8L1571.2 972.9"/><path stroke="#00BA38" d="M1597.3 994.8L1648.6 929.7"/><path stroke="#00BD62" d="M1147.1 1177.3L1230.6 1116.9"/><path stroke="#00BE6D" d="M1381.5 1016.2L1432.0 1005.9"/><path stroke="#00C08E" d="M1236.5 1071.9L1295.5 1054.2"/><path stroke="#00B815" d="M1143.8 1178.6L1234.8 1070.8"/><path stroke="#00BF79" d="M1123.9 1127.6L1204.8 1071.0"/><path stroke="#00C0B3" d="M1219.6 1086.6L1271.6 1049.1"/><path stroke="#00C0BA" d="M1189.5 1068.2L1289.7 1035.5"/><path stroke="#00BC52" d="M1410.4 915.1L1487.8 881.2"/><path stroke="#00BADF" d="M1207.3 1081.7L1271.2 1066.5"/><path stroke="#00BF77" d="M1210.2 1118.2L1233.1 1097.9L1261.0 1084.2"/><path stroke="#00B927" d="M1417.2 997.9L1494.7 952.7"/><path stroke="#00BF7B" d="M1317.2 1041.0L1366.6 1000.8"/><path stroke="#00C1A9" d="M1108.5 1169.1L1180.9 1084.6"/><path stroke="#00B1F6" d="M1381.9 1020.8L1456.5 931.9"/><path stroke="#A1A600" d="M1365.0 992.3L1416.5 1007.8"/><path stroke="#00C090" d="M1592.5 861.1L1642.0 879.0"/><path stroke="#71B000" d="M1205.7 1081.7L1225.5 1070.1L1256.6 1071.0"/><path stroke="#00BBDB" d="M1291.3 1021.5L1329.7 985.8"/><path stroke="#67B100" d="M1305.2 1021.6L1389.7 974.4"/><path stroke="#00C083" d="M1240.4 1096.5L1285.8 1072.0"/><path stroke="#00BA3B" d="M1316.0 1020.6L1371.6 967.7"/><path stroke="#00BBDC" d="M1110.6 1138.5L1148.8 1139.0"/><path stroke="#00BFC7" d="M1280.4 1024.4L1343.2 972.4"/><path stroke="#00B92B" d="M1170.6 1086.8L1209.5 1077.1"/><path stroke="#00B6EA" d="M1338.5 981.3L1382.9 961.6L1435.9 960.1"/><path stroke="#00B8E7" d="M1378.1 975.6L1470.6 938.3"/><path stroke="#00BA3E" d="M1474.2 1008.5L1521.0 987.0"/><path stroke="#78AF00" d="M1301.6 1017.6L1385.9 984.8"/><path stroke="#6F99FF" d="M1513.3 935.2L1609.6 892.3"/><path stroke="#00C0B4" d="M1452.5 972.2L1526.5 954.2"/><path stroke="#00BF81" d="M1207.1 1063.9L1270.4 1026.5"/><path stroke="#00BDD3" d="M1391.7 965.2L1435.8 934.4"/><path stroke="#00A9FF" d="M1121.3 1193.5L1155.8 1119.0"/><path stroke="#00B6EC" d="M1352.2 1046.3L1448.8 982.7"/><path stroke="#00C095" d="M1345.7 983.1L1408.6 1010.1"/><path stroke="#00BCD9" d="M1356.4 1012.5L1406.6 983.7"/><path stroke="#59B300" d="M1321.8 1016.7L1348.8 1021.4L1395.1 992.8"/><path stroke="#00BC57" d="M1411.3 972.4L1510.3 926.8"/><path stroke="#988FFF" d="M1348.2 989.7L1406.9 959.3"/><path stroke="#00C092" d="M1373.0 993.6L1411.9 974.0"/><path stroke="#00ACFC" d="M1505.0 960.4L1533.9 941.3L1558.2 981.5"/><path stroke="#31A2FF" d="M1368.7 1007.5L1405.5 981.1"/><path stroke="#00B5ED" d="M1508.0 908.5L1577.3 911.0"/><path stroke="#5FB200" d="M1172.1 1140.4L1258.6 1067.9"/><path stroke="#9590FF" d="M1552.0 885.4L1644.4 828.8"/><path stroke="#00AFF7" d="M1325.8 1039.0L1395.5 1001.8"/><path stroke="#00A6FF" d="M1161.6 1138.0L1227.3 1086.4"/><path stroke="#00A8FF" d="M1378.5 978.6L1468.2 945.0"/><path stroke="#00C0B6" d="M1446.7 943.3L1497.8 917.0"/><path stroke="#00C1A4" d="M1403.0 1019.3L1479.0 965.9"/><path stroke="#00C19F" d="M1212.6 1084.8L1279.8 1008.0"/><path stroke="#56B300" d="M1238.7 1056.2L1318.9 1012.6"/><path stroke="#00B934" d="M1547.8 905.7L1591.9 873.8"/><path stroke="#9D8DFF" d="M1454.8 971.2L1523.5 928.0"/><path stroke="#00A4FF" d="M1361.8 945.5L1443.6 969.6"/><path stroke="#00C1A6" d="M1167.9 1123.5L1227.6 1043.8"/><path stroke="#00C08C" d="M1299.5 1018.5L1357.2 971.3"/><path stroke="#39B600" d="M1112.9 1135.1L1195.2 1068.3"/><path stroke="#00BA41" d="M1562.2 853.5L1630.8 838.1"/><path stroke="#9590FF" d="M1444.0 939.1L1512.3 945.2"/><path stroke="#00C087" d="M1495.2 1011.0L1579.5 965.2"/><path stroke="#00C089" d="M1199.2 1064.8L1256.7 988.8"/><path stroke="#8993FF" d="M1305.7 971.0L1370.3 945.0"/><path stroke="#00C1AE" d="M1202.5 1084.9L1282.9 1021.4"/><path stroke="#00BCD6" d="M1442.5 952.6L1532.9 906.8"/><path stroke="#00B0F6" d="M1352.2 988.7L1397.8 1002.5"/><path stroke="#00ABFD" d="M1238.9 1007.7L1304.0 998.2"/><path stroke="#00BAE0" d="M1390.4 935.5L1425.1 946.2L1455.2 908.9"/><path stroke="#00BFC0" d="M1369.0 1010.8L1421.6 968.1"/><path stroke="#A58AFF" d="M1358.9 958.6L1397.9 951.2L1453.5 953.8"/><path stroke="#00C1A7" d="M1193.5 1088.8L1279.2 1018.4"/><path stroke="#CA7BFF" d="M1204.9 1093.0L1290.3 1023.9"/><path stroke="#639CFF" d="M1391.3 980.1L1407.7 986.2L1436.4 955.0"/><path stroke="#00AEFA" d="M1384.9 992.7L1434.2 943.5"/><path stroke="#00BCD7" d="M1245.1 1059.6L1295.6 1005.3"/><path stroke="#00C19E" d="M1238.5 1107.2L1316.2 1067.3"/><path stroke="#CD79FF" d="M1263.9 1137.5L1344.7 1029.8"/><path stroke="#00BBDD" d="M1402.8 1029.4L1474.9 997.5"/><path stroke="#A08CFF" d="M1482.4 980.1L1564.4 921.2"/><path stroke="#00A6FF" d="M1356.1 964.3L1392.2 943.8"/><path stroke="#A38BFF" d="M1412.9 994.3L1472.2 954.8"/><path stroke="#00BF75" d="M1350.1 1025.2L1430.5 964.5"/><path stroke="#B684FF" d="M1300.2 1063.9L1348.6 1032.7"/><path stroke="#00ACFB" d="M1422.9 905.3L1516.4 862.2"/><path stroke="#00BE6B" d="M1127.5 1162.1L1198.0 1130.0"/><path stroke="#00BE6F" d="M1247.8 1059.8L1314.0 989.8"/><path stroke="#41A0FF" d="M1227.9 1078.9L1285.4 1033.1"/><path stroke="#00BF7D" d="M1204.8 1104.9L1294.9 995.2"/><path stroke="#00C19C" d="M1307.0 1012.3L1338.1 992.9L1361.0 977.5"/><path stroke="#E66CF4" d="M1491.1 965.9L1564.1 931.6"/><path stroke="#00A7FF" d="M1315.5 1051.5L1410.2 1015.3"/><path stroke="#00BBDA" d="M1268.5 1115.8L1329.6 1034.4"/><path stroke="#6B9AFF" d="M1208.0 1037.4L1297.9 1030.1"/><path stroke="#8F91FF" d="M1539.4 926.2L1581.2 935.0"/><path stroke="#00A9FF" d="M1368.1 983.3L1444.1 970.2"/><path stroke="#C27EFF" d="M1166.2 1106.4L1209.0 1048.9"/><path stroke="#00C098" d="M1318.0 1048.6L1413.3 932.4"/><path stroke="#00AEF9" d="M1400.8 946.0L1451.3 940.3"/><path stroke="#00C0B9" d="M1407.7 921.9L1449.9 907.1L1504.0 844.1"/><path stroke="#00AAFD" d="M1444.2 969.5L1496.4 947.7"/><path stroke="#7E96FF" d="M1256.9 1029.1L1284.2 1036.6L1320.7 1040.9"/><path stroke="#00A9FF" d="M1608.6 865.6L1680.2 824.5"/><path stroke="#E76BF3" d="M1201.3 1179.0L1231.4 1127.9"/><path stroke="#00BF73" d="M1248.2 1079.3L1330.6 1016.5"/><path stroke="#E76BF3" d="M1095.7 1083.4L1186.9 1054.5"/><path stroke="#00C0BC" d="M1148.2 1155.4L1208.6 1096.8"/><path stroke="#00C1A1" d="M1266.8 1018.5L1331.0 979.3"/><path stroke="#00B7E9" d="M1070.3 1187.6L1166.7 1097.3"/><path stroke="#D973FC" d="M1321.0 1018.8L1419.0 912.7"/><path stroke="#E76BF3" d="M1448.7 877.9L1503.0 801.5"/><path stroke="#EA69F0" d="M1269.9 1053.8L1333.9 1044.6"/><path stroke="#48A0FF" d="M1511.6 946.4L1589.1 926.4"/><path stroke="#00BECA" d="M1299.9 1025.5L1392.9 934.9"/><path stroke="#BC81FF" d="M1428.7 1015.3L1512.8 966.6"/><path stroke="#00BDD5" d="M1311.5 1055.8L1354.0 995.1L1379.2 988.4"/><path stroke="#F763E0" d="M1346.5 993.7L1415.2 975.5"/><path stroke="#E76BF3" d="M1390.0 910.3L1464.2 899.7"/><path stroke="#EC69EF" d="M1466.4 1001.0L1520.7 993.9"/><path stroke="#00BFC4" d="M1406.5 1015.1L1446.4 975.8"/><path stroke="#00AFF8" d="M1209.1 1072.8L1236.8 1053.2L1288.1 976.3"/><path stroke="#00A9FF" d="M1496.1 876.6L1532.6 893.0"/><path stroke="#00A5FF" d="M1211.7 1044.8L1250.0 1056.6"/><path stroke="#00A9FF" d="M1098.0 1086.8L1198.0 981.1"/><path stroke="#BE80FF" d="M1582.8 852.9L1625.3 809.2"/><path stroke="#E76BF3" d="M1237.6 1074.7L1327.6 1039.3"/><path stroke="#DD71FA" d="M1178.4 1075.1L1228.0 1040.8"/><path stroke="#7797FF" d="M1408.1 1024.0L1485.9 946.3"/><path stroke="#D774FD" d="M1353.6 1014.4L1425.3 979.1"/><path stroke="#00BFC4" d="M1071.3 1153.5L1153.5 1136.8"/><path stroke="#BA82FF" d="M1276.3 1062.7L1346.7 1040.7"/><path stroke="#00AAFE" d="M1367.4 1000.1L1430.0 999.9"/><path stroke="#FC61D5" d="M1297.5 959.1L1370.0 946.4"/><path stroke="#AF86FF" d="M1298.0 1034.5L1389.6 1031.1"/><path stroke="#E76BF3" d="M1073.5 1170.1L1125.7 1201.3"/><path stroke="#ED68EE" d="M1380.3 941.2L1447.8 916.0"/><path stroke="#679BFF" d="M1220.4 1040.4L1265.0 1020.8L1305.0 996.0"/><path stroke="#F066EA" d="M1244.0 1050.8L1323.2 992.5"/><path stroke="#00A9FF" d="M1534.1 825.6L1638.7 787.3"/><path stroke="#C07FFF" d="M1371.7 1018.2L1436.2 974.5"/><path stroke="#FF61C3" d="M1244.3 1123.2L1297.1 1075.0"/><path stroke="#00A9FF" d="M1608.6 861.8L1714.2 781.1"/><path stroke="#00B8E5" d="M1465.9 1009.0L1507.0 1012.3"/><path stroke="#00A9FF" d="M1225.8 1154.1L1264.7 1101.2"/><path stroke="#00C0BF" d="M1502.1 945.6L1578.9 894.2"/><path stroke="#EF67EB" d="M1523.4 956.1L1550.8 959.6L1601.0 910.2"/><path stroke="#8594FF" d="M1443.2 1001.7L1535.3 950.3"/><path stroke="#7398FF" d="M1197.9 1122.3L1224.0 1083.9L1241.0 1061.3"/><path stroke="#FF63B7" d="M1500.6 906.9L1525.6 877.1L1544.8 849.6"/><path stroke="#4E9FFF" d="M1439.4 1005.2L1530.7 958.9"/><path stroke="#39A1FF" d="M1531.1 946.4L1616.1 925.6"/><path stroke="#00BFC2" d="M1379.0 937.6L1401.0 923.8L1428.2 921.3"/><path stroke="#DE70F9" d="M1329.7 1058.2L1430.6 1011.0"/><path stroke="#00B4F0" d="M1287.6 1015.6L1365.5 983.5"/><path stroke="#00B5EE" d="M1185.6 1104.8L1232.0 1106.3"/><path stroke="#9290FF" d="M1091.6 1129.1L1140.7 1088.5"/><path stroke="#00BFC3" d="M1360.5 1020.4L1409.7 975.3"/><path stroke="#FF64AF" d="M1343.0 1005.3L1421.9 946.3"/><path stroke="#00BDD1" d="M1268.2 1104.7L1322.7 1076.8"/><path stroke="#26A3FF" d="M1454.4 954.0L1507.7 947.8"/><path stroke="#E16FF7" d="M1273.5 1070.8L1355.5 1012.3"/><path stroke="#00B7E8" d="M1308.7 1017.8L1398.5 942.4"/><path stroke="#B385FF" d="M1279.0 1044.9L1345.3 1004.3"/><path stroke="#FE61CE" d="M1294.2 1003.1L1316.9 979.8L1349.9 993.9"/><path stroke="#00BDD2" d="M1323.9 1002.4L1366.8 979.0"/><path stroke="#FF62BA" d="M1426.2 991.7L1475.9 979.0"/><path stroke="#16A4FF" d="M1312.5 1034.7L1377.1 989.7"/><path stroke="#FF61C5" d="M1270.9 1004.9L1361.1 972.5"/><path stroke="#00BAE1" d="M1341.5 1007.8L1428.9 958.6"/><path stroke="#CF78FF" d="M1135.7 1187.8L1192.1 1129.0"/><path stroke="#DA72FB" d="M1389.8 936.2L1461.4 881.3"/><path stroke="#E76BF3" d="M1272.5 1132.3L1295.9 1087.9"/><path stroke="#00B2F3" d="M1296.7 1082.3L1370.7 1026.7"/><path stroke="#00ADFB" d="M1484.2 912.3L1536.1 902.4"/><path stroke="#FF62BF" d="M1423.9 951.2L1497.7 912.7"/><path stroke="#00B3F1" d="M1199.1 1129.1L1293.3 1009.2"/><path stroke="#FF65AC" d="M1326.8 1009.0L1358.0 993.3L1394.7 966.1"/><path stroke="#FC727E" d="M1439.8 942.9L1513.1 955.7"/><path stroke="#5E9CFF" d="M1104.9 1154.0L1147.7 1127.2"/><path stroke="#FF65AD" d="M1252.7 1022.1L1336.8 984.8"/><path stroke="#549EFF" d="M1310.4 1006.3L1375.1 975.9"/><path stroke="#00B2F4" d="M1635.4 906.6L1700.5 876.0"/><path stroke="#00B3F2" d="M1279.8 1021.8L1357.3 972.6"/><path stroke="#F8766F" d="M1268.0 1065.7L1333.4 977.3"/><path stroke="#C87CFF" d="M1404.9 995.5L1467.5 944.1"/><path stroke="#FE6E8B" d="M1494.7 986.0L1565.0 973.6"/><path stroke="#AD87FF" d="M1275.9 1066.7L1361.6 996.2"/><path stroke="#8C92FF" d="M1298.4 979.4L1380.8 950.9"/><path stroke="#FF699C" d="M1227.7 1087.6L1291.4 990.0"/><path stroke="#FB737A" d="M1436.2 900.1L1457.8 884.2L1488.8 866.0"/><path stroke="#F265E7" d="M1452.3 948.0L1540.5 912.1"/><path stroke="#00A9FF" d="M1145.8 1042.3L1233.6 980.6"/><path stroke="#00B4EF" d="M1374.6 996.6L1462.3 922.9"/><path stroke="#FF66A8" d="M1383.1 958.1L1461.5 925.0"/><path stroke="#C47DFF" d="M1426.1 985.9L1514.2 944.2"/><path stroke="#FC61D3" d="M1374.2 950.1L1443.3 909.7"/><path stroke="#F862DE" d="M1186.1 1093.5L1277.5 1047.3"/><path stroke="#00B1F5" d="M1505.7 930.7L1558.2 878.7"/><path stroke="#FF62BC" d="M1334.4 1030.8L1401.7 1042.9"/><path stroke="#E46DF6" d="M1507.8 995.1L1569.5 983.1"/><path stroke="#FF63B9" d="M1093.4 1204.5L1174.4 1112.7"/><path stroke="#FF6C91" d="M1275.4 957.8L1324.8 937.4"/><path stroke="#B883FF" d="M1358.3 994.7L1404.4 974.0"/><path stroke="#FF61C3" d="M1084.6 1145.2L1151.3 1087.9"/><path stroke="#F962DC" d="M1267.7 994.6L1321.5 971.4L1367.1 906.1"/><path stroke="#EE68ED" d="M1273.3 1046.3L1370.5 1003.0"/><path stroke="#599DFF" d="M1300.5 1009.7L1348.5 997.9L1377.5 1001.6"/><path stroke="#8295FF" d="M1371.0 997.1L1454.2 965.6"/><path stroke="#F663E1" d="M1347.4 984.6L1387.0 983.0"/><path stroke="#E26EF7" d="M1352.3 992.9L1450.4 946.9"/><path stroke="#CC7AFF" d="M1382.2 994.3L1465.8 894.8"/><path stroke="#D276FF" d="M1325.5 1032.5L1391.3 987.5"/><path stroke="#7B97FF" d="M1314.6 971.9L1356.8 950.1"/><path stroke="#FB727C" d="M1104.9 1125.8L1191.5 1051.4"/><path stroke="#E76BF3" d="M1552.0 892.0L1604.4 808.1"/><path stroke="#FF6B95" d="M1378.9 966.9L1467.5 919.6"/><path stroke="#DC72FB" d="M1202.6 1082.3L1272.9 1054.7"/><path stroke="#A889FF" d="M1298.0 1033.6L1393.4 964.4"/><path stroke="#FD6F86" d="M1267.9 1068.9L1306.6 1041.5"/><path stroke="#F97571" d="M1191.4 1136.0L1290.5 1038.3"/><path stroke="#FF63B5" d="M1433.8 997.2L1518.1 948.3"/><path stroke="#FA61D9" d="M1346.9 997.3L1430.2 947.5"/><path stroke="#E96AF1" d="M1524.6 976.2L1583.8 929.3"/><path stroke="#D675FE" d="M1431.4 925.2L1518.7 882.0"/><path stroke="#FF61C3" d="M1544.5 903.3L1605.7 946.3"/><path stroke="#FF61CC" d="M1316.3 1061.9L1392.4 1001.9"/><path stroke="#9A8EFF" d="M1328.7 1015.4L1427.0 939.5"/><path stroke="#FF6A9A" d="M1348.3 1010.4L1439.2 954.8"/><path stroke="#FF64B2" d="M1449.4 935.5L1532.1 887.5"/><path stroke="#E06FF8" d="M1233.6 1075.1L1263.2 1048.1L1295.8 1011.5"/><path stroke="#FF61C9" d="M1250.2 1083.7L1325.4 1027.6"/><path stroke="#B186FF" d="M1378.0 990.2L1425.0 940.8"/><path stroke="#C77CFF" d="M1194.7 1156.8L1220.3 1110.1"/><path stroke="#FF6A97" d="M1379.8 981.4L1476.1 940.7"/><path stroke="#F166E8" d="M1165.1 1059.2L1216.3 1054.1"/><path stroke="#FA7476" d="M1086.6 1180.5L1137.4 1164.1L1182.6 1119.2"/><path stroke="#F962DB" d="M1463.2 949.0L1544.1 923.4"/><path stroke="#FC7180" d="M1108.4 1113.0L1209.7 1028.7"/><path stroke="#C67DFF" d="M1347.3 982.1L1424.9 938.7"/><path stroke="#D177FF" d="M1309.2 1018.3L1396.7 923.8"/><path stroke="#E86BF2" d="M1441.6 895.3L1496.8 892.3"/><path stroke="#FF62C0" d="M1386.1 1049.0L1424.4 1026.1"/><path stroke="#F564E3" d="M1421.6 955.8L1474.8 905.9"/><path stroke="#AA88FF" d="M1381.0 1008.7L1447.2 955.3"/><path stroke="#FF67A5" d="M1443.4 914.2L1478.7 876.4L1498.5 890.7"/><path stroke="#FF6C93" d="M1180.4 1041.7L1277.9 1009.8"/><path stroke="#D476FE" d="M1432.6 918.1L1513.0 904.3"/><path stroke="#FF61C8" d="M1437.9 995.1L1503.9 965.5"/><path stroke="#FF66AA" d="M1183.4 1101.3L1228.7 1057.9"/><path stroke="#FF67A3" d="M1368.3 1025.4L1444.2 958.7"/><path stroke="#F763DF" d="M1238.2 1082.6L1274.4 1035.0"/><path stroke="#FD6F88" d="M1455.6 941.9L1515.3 918.4"/><path stroke="#F365E6" d="M1506.3 939.9L1582.4 903.4"/><path stroke="#E56DF5" d="M1494.9 904.4L1584.3 901.9"/><path stroke="#FD61D0" d="M1282.1 1016.7L1337.7 983.3"/><path stroke="#FF6A98" d="M1514.3 976.9L1553.9 975.0"/><path stroke="#EF67EC" d="M1521.6 916.7L1617.3 871.3"/><path stroke="#FA7378" d="M1134.4 1124.3L1173.5 1097.9"/><path stroke="#FF66A7" d="M1190.5 1101.2L1288.9 1030.2"/><path stroke="#E76BF3" d="M1616.1 812.8L1701.0 812.8"/><path stroke="#FE6D8D" d="M1510.5 927.0L1597.4 912.2"/><path stroke="#FD7084" d="M1319.2 988.6L1362.0 933.9"/><path stroke="#F564E4" d="M1214.4 1095.5L1285.3 996.1"/><path stroke="#FF63B4" d="M1493.5 942.6L1576.6 905.9"/><path stroke="#FD61D2" d="M1233.9 1082.2L1334.2 1000.8"/><path stroke="#FB61D7" d="M1309.4 1038.3L1402.3 991.0"/><path stroke="#FF62BD" d="M1426.0 983.2L1501.0 987.5"/><path stroke="#FF61C2" d="M1280.3 1068.9L1358.6 1019.6"/><path stroke="#F464E5" d="M1466.7 935.8L1558.0 908.1"/><path stroke="#FA62DA" d="M1350.4 1020.5L1451.2 922.2"/><path stroke="#FF61C3" d="M1448.3 907.1L1485.6 853.3"/><path stroke="#FC61D6" d="M1152.7 1118.1L1202.4 1089.7"/><path stroke="#FF68A0" d="M1401.2 964.3L1482.3 894.0"/><path stroke="#FF61CB" d="M1443.9 916.8L1520.5 874.6"/><path stroke="#FE61CF" d="M1403.3 950.2L1453.0 931.1L1491.0 940.1"/><path stroke="#FF68A1" d="M1244.5 1096.8L1320.0 1030.5"/><path stroke="#FF61C6" d="M1185.2 1108.3L1223.4 1099.8"/><path stroke="#FF6D8F" d="M1222.9 1096.3L1311.1 1012.1"/><path stroke="#FF64B1" d="M1398.0 974.6L1450.6 963.4"/><path stroke="#FF699E" d="M1261.4 1003.7L1350.6 951.5"/><path stroke="#F97473" d="M1389.6 1022.5L1433.3 1000.1"/><path stroke="#FF6A98" d="M1306.0 1040.6L1379.6 956.2"/><path stroke="#FE6E8A" d="M1197.5 1123.2L1245.7 1068.8"/><path stroke="#FC7082" d="M1402.0 1014.4L1460.6 1001.1"/><path stroke="#FF6A98" d="M1612.3 888.2L1689.7 879.2"/></g><g stroke-width="2.9" stroke-linecap="round"><path stroke="#F67964" d="M1376.4 977.5h0M1438.4 962.8h0"/><path stroke="#F27C55" d="M1301.5 1073.6h0M1375.2 1008.3h0"/><path stroke="#F47A5D" d="M1262.2 1029.8h0M1288.7 1037.8h0M1334.2 1032.9h0"/><path stroke="#F77768" d="M1316.5 1035.8h0M1335.7 997.3h0M1356.8 970.3h0"/><path stroke="#EE8041" d="M1286.1 990.8h0M1387.7 942.7h0"/><path stroke="#E88526" d="M1211.6 1059.0h0M1262.7 1026.2h0"/><path stroke="#DB8E00" d="M1436.9 944.5h0M1529.1 983.9h0"/><path stroke="#EF7F47" d="M1233.3 1035.7h0M1307.4 1000.9h0"/><path stroke="#E48800" d="M1420.9 992.6h0M1437.3 1000.1h0M1460.7 965.0h0"/><path stroke="#DD8C00" d="M1365.6 1023.4h0M1466.2 1003.0h0"/><path stroke="#D29300" d="M1403.6 977.2h0M1461.4 935.6h0"/><path stroke="#CF9500" d="M1264.0 1077.0h0M1353.2 1012.8h0"/><path stroke="#F8766D" d="M1047.9 1156.4h0M1109.1 1159.0h0"/><path stroke="#EE8044" d="M1434.2 996.1h0M1478.9 967.9h0M1514.0 938.8h0"/><path stroke="#D89000" d="M1345.0 981.8h0M1426.6 929.8h0"/><path stroke="#D19400" d="M1487.6 922.9h0M1549.6 934.6h0"/><path stroke="#D69100" d="M1208.5 1036.0h0M1259.3 1024.8h0"/><path stroke="#CD9500" d="M1473.6 949.4h0M1532.6 926.0h0"/><path stroke="#E38900" d="M1280.0 1070.0h0M1317.4 1009.9h0"/><path stroke="#E08B00" d="M1364.9 969.6h0M1390.7 959.1h0M1432.6 916.8h0"/><path stroke="#F7776B" d="M1445.7 975.8h0M1485.2 964.6h0"/><path stroke="#C19B00" d="M1310.6 987.2h0M1362.7 921.4h0"/><path stroke="#C79800" d="M1489.7 930.5h0M1585.4 885.5h0"/><path stroke="#C49A00" d="M1042.4 1209.1h0M1120.2 1143.5h0"/><path stroke="#E88520" d="M1489.7 963.8h0M1515.0 975.4h0M1542.9 987.7h0"/><path stroke="#E48800" d="M1267.8 1052.1h0M1283.3 1041.5h0M1307.0 1026.8h0"/><path stroke="#A3A500" d="M1093.5 1189.0h0M1133.5 1163.5h0"/><path stroke="#F27D53" d="M1253.1 1080.5h0M1337.1 1032.6h0"/><path stroke="#B1A100" d="M1256.6 1033.3h0M1299.7 1018.6h0M1340.2 964.5h0"/><path stroke="#E28900" d="M1196.1 1066.0h0M1241.7 1030.6h0"/><path stroke="#A3A500" d="M1236.9 1145.7h0M1271.4 1113.4h0"/><path stroke="#D39200" d="M1175.5 1097.8h0M1263.1 1045.8h0"/><path stroke="#F8766D" d="M1411.8 983.5h0M1452.3 995.0h0"/><path stroke="#9EA700" d="M1435.2 1010.3h0M1521.2 940.4h0"/><path stroke="#C49900" d="M1092.9 1157.7h0M1181.6 1100.9h0"/><path stroke="#B89E00" d="M1439.2 933.9h0M1526.8 902.4h0"/><path stroke="#EA832F" d="M1425.2 977.8h0M1518.2 887.5h0"/><path stroke="#BD9C00" d="M1286.1 1038.9h0M1357.1 991.5h0"/><path stroke="#AAA300" d="M1485.6 967.5h0M1538.5 945.9h0"/><path stroke="#F07E4D" d="M1397.2 972.8h0M1435.5 937.1h0"/><path stroke="#F57962" d="M1537.5 913.0h0M1592.4 910.1h0"/><path stroke="#8BAB00" d="M1410.3 1039.7h0M1463.5 988.7h0"/><path stroke="#E58705" d="M1454.1 906.6h0M1515.8 894.6h0"/><path stroke="#C49A00" d="M1565.2 982.1h0M1596.3 982.1h0"/><path stroke="#DC8D00" d="M1318.7 1069.5h0M1365.5 1021.4h0"/><path stroke="#92AA00" d="M1186.6 1115.2h0M1225.9 1090.1h0"/><path stroke="#F37B5A" d="M1444.8 930.4h0M1508.9 886.6h0"/><path stroke="#ED813E" d="M1211.3 1057.9h0M1248.5 1021.8h0"/><path stroke="#8FAB00" d="M1528.5 950.7h0M1621.9 878.8h0"/><path stroke="#B4A000" d="M1230.9 1084.7h0M1332.2 1035.4h0"/><path stroke="#BC9D00" d="M1220.7 1072.0h0M1302.8 1006.5h0"/><path stroke="#DA8F00" d="M1051.9 1165.8h0M1136.6 1139.9h0"/><path stroke="#4FB400" d="M1555.8 1008.3h0M1604.7 957.1h0"/><path stroke="#F37C58" d="M1250.1 1033.8h0M1315.8 1001.2h0"/><path stroke="#62B200" d="M1293.8 1009.6h0M1394.1 963.2h0"/><path stroke="#EB8237" d="M1219.7 1069.6h0M1281.3 1009.6h0"/><path stroke="#DC8D00" d="M1422.8 917.3h0M1510.1 863.3h0"/><path stroke="#C99700" d="M1263.2 1019.2h0M1337.7 976.1h0"/><path stroke="#97A800" d="M1216.9 1085.1h0M1308.0 973.8h0"/><path stroke="#CA9700" d="M1357.8 1018.5h0M1410.2 1008.9h0"/><path stroke="#4BB400" d="M1444.4 968.7h0M1481.3 944.9h0"/><path stroke="#E58700" d="M1126.9 1091.2h0M1153.5 1083.4h0"/><path stroke="#F17D50" d="M1403.8 1009.9h0M1489.7 986.4h0"/><path stroke="#B0A100" d="M1395.8 961.7h0M1432.7 947.4h0"/><path stroke="#6AB100" d="M1505.9 931.8h0M1591.2 951.8h0"/><path stroke="#A9A400" d="M1225.9 1063.9h0M1299.4 1004.9h0"/><path stroke="#CC9600" d="M1098.3 1148.4h0M1198.4 1095.9h0"/><path stroke="#00B81C" d="M1274.2 961.3h0M1326.5 972.4h0"/><path stroke="#12B700" d="M1485.0 993.0h0M1545.4 982.0h0"/><path stroke="#7BAE00" d="M1306.5 1058.5h0M1397.6 994.3h0"/><path stroke="#81AD00" d="M1324.3 1050.2h0M1398.8 981.0h0"/><path stroke="#F07F4A" d="M1138.8 1098.4h0M1195.3 1028.8h0"/><path stroke="#5CB300" d="M1345.9 1013.7h0M1386.7 993.7h0"/><path stroke="#9BA800" d="M1472.2 953.4h0M1544.5 908.8h0"/><path stroke="#D09400" d="M1315.7 1017.5h0M1359.8 1008.5h0"/><path stroke="#E7861A" d="M1094.8 1156.6h0M1176.3 1085.6h0"/><path stroke="#D59100" d="M1415.5 981.6h0M1510.9 911.2h0"/><path stroke="#94A900" d="M1404.5 959.4h0M1482.3 918.6h0"/><path stroke="#2EB600" d="M1243.1 1072.5h0M1288.1 1008.4h0"/><path stroke="#D79000" d="M1605.5 964.4h0M1704.5 923.6h0"/><path stroke="#00BB4A" d="M1323.0 1052.2h0M1396.5 982.8h0"/><path stroke="#00BD5C" d="M1329.1 980.9h0M1364.0 974.1h0M1403.7 983.0h0"/><path stroke="#1EB700" d="M1495.3 946.7h0M1578.3 926.2h0"/><path stroke="#A3A500" d="M1256.7 1015.0h0M1353.9 977.1h0"/><path stroke="#E9842B" d="M1191.8 1084.5h0M1291.0 1070.4h0"/><path stroke="#E68612" d="M1223.3 1022.9h0M1273.3 1027.9h0M1303.9 980.9h0"/><path stroke="#47B500" d="M1434.7 1004.9h0M1488.2 929.2h0"/><path stroke="#65B200" d="M1229.0 1097.5h0M1313.1 1035.0h0"/><path stroke="#00BB47" d="M1268.8 1043.8h0M1310.5 1032.3h0"/><path stroke="#F67866" d="M1377.2 935.6h0M1454.5 935.8h0"/><path stroke="#EB8333" d="M1324.6 992.5h0M1396.7 927.2h0"/><path stroke="#00BC54" d="M1231.9 1077.1h0M1284.1 1044.6h0"/><path stroke="#C69900" d="M1199.8 1113.0h0M1233.8 1072.2h0M1270.3 1051.1h0"/><path stroke="#C09B00" d="M1194.6 1042.7h0M1280.7 983.3h0"/><path stroke="#A4A500" d="M1536.3 885.1h0M1576.4 858.2h0"/><path stroke="#F8766D" d="M1555.8 880.7h0M1686.8 830.7h0"/><path stroke="#00BE71" d="M1411.8 949.6h0M1463.1 924.1h0"/><path stroke="#99A800" d="M1410.2 975.5h0M1507.8 968.8h0"/><path stroke="#00BA37" d="M1396.1 960.9h0M1451.6 907.7h0"/><path stroke="#F57A5F" d="M1251.4 1024.9h0M1341.2 965.3h0"/><path stroke="#E58700" d="M1134.6 1192.4h0M1178.0 1145.7h0"/><path stroke="#C39A00" d="M1324.2 1034.9h0M1408.0 980.5h0"/><path stroke="#96A900" d="M1374.8 920.7h0M1456.1 882.4h0"/><path stroke="#C89800" d="M1477.6 965.7h0M1536.8 935.6h0"/><path stroke="#BE9C00" d="M1319.2 1028.6h0M1395.5 1028.3h0"/><path stroke="#74B000" d="M1387.9 1003.4h0M1482.8 955.9h0"/><path stroke="#6FB000" d="M1478.8 969.4h0M1551.5 960.6h0"/><path stroke="#00BC4F" d="M1380.4 1031.3h0M1420.2 1003.7h0"/><path stroke="#00BF7F" d="M1331.1 1012.5h0M1429.9 993.0h0"/><path stroke="#76AF00" d="M1363.4 984.8h0M1432.5 929.2h0"/><path stroke="#E18A00" d="M1291.2 1037.5h0M1383.2 1020.0h0"/><path stroke="#7DAE00" d="M1190.2 1155.0h0M1291.2 1068.8h0"/><path stroke="#E58700" d="M1542.6 964.2h0M1568.0 964.2h0"/><path stroke="#C49A00" d="M1136.9 1075.0h0M1186.9 1075.6h0"/><path stroke="#00BD5E" d="M1417.2 932.7h0M1517.4 904.5h0"/><path stroke="#B3A000" d="M1315.4 1013.2h0M1385.3 1002.4h0"/><path stroke="#ADA200" d="M1322.6 1012.6h0M1365.3 965.0h0"/><path stroke="#00BE67" d="M1359.7 1053.8h0M1456.4 977.9h0"/><path stroke="#00C093" d="M1227.9 1095.7h0M1324.5 1046.6h0"/><path stroke="#EC823A" d="M1151.8 1125.9h0M1191.4 1114.2h0"/><path stroke="#A6A500" d="M1579.0 919.1h0M1656.8 864.6h0"/><path stroke="#C49A00" d="M1480.3 948.6h0M1506.7 1008.9h0"/><path stroke="#00BC59" d="M1351.4 1003.5h0M1434.1 967.1h0"/><path stroke="#34B600" d="M1313.8 1049.7h0M1337.7 1028.3h0M1381.7 1008.4h0"/><path stroke="#A0A600" d="M1117.1 1123.7h0M1166.2 1073.3h0"/><path stroke="#85AD00" d="M1257.2 1079.5h0M1286.9 1052.3h0M1326.3 1004.4h0"/><path stroke="#00C08A" d="M1324.9 994.0h0M1404.6 946.0h0"/><path stroke="#7CAE00" d="M1483.2 878.4h0M1570.9 821.3h0"/><path stroke="#00C1A3" d="M1376.2 1001.9h0M1424.1 985.1h0"/><path stroke="#43B500" d="M1303.3 1000.3h0M1353.0 1000.1h0"/><path stroke="#DE8C00" d="M1516.3 910.1h0M1561.8 908.4h0"/><path stroke="#DF8B00" d="M1307.8 1025.7h0M1337.2 1008.4h0M1354.2 997.7h0"/><path stroke="#B79F00" d="M1463.4 942.3h0M1542.9 900.7h0"/><path stroke="#AFA200" d="M1288.4 1037.0h0M1389.4 947.5h0"/><path stroke="#00BA38" d="M1632.1 919.3h0M1715.1 830.7h0"/><path stroke="#E58700" d="M1591.6 951.4h0M1670.8 861.5h0"/><path stroke="#00C0B7" d="M1319.7 1024.8h0M1421.1 971.4h0"/><path stroke="#00C1AB" d="M1550.8 860.0h0M1570.9 841.8h0M1604.0 839.7h0"/><path stroke="#00C0BD" d="M1314.4 988.5h0M1412.8 924.0h0"/><path stroke="#00B930" d="M1276.0 1132.3h0M1361.6 1028.4h0"/><path stroke="#00C0B1" d="M1289.7 1030.9h0M1350.1 989.6h0"/><path stroke="#D98F00" d="M1310.3 1030.9h0M1347.8 1002.3h0"/><path stroke="#00C08B" d="M1084.6 1225.1h0M1173.6 1177.3h0"/><path stroke="#90AA00" d="M1476.3 937.5h0M1529.0 946.1h0"/><path stroke="#D49200" d="M1220.8 1117.6h0M1262.1 1065.7h0"/><path stroke="#00B822" d="M1361.9 1028.5h0M1461.0 973.3h0"/><path stroke="#00BE67" d="M1183.6 1008.9h0M1268.1 954.9h0"/><path stroke="#ACA300" d="M1496.1 960.7h0M1549.8 915.0h0"/><path stroke="#CB9600" d="M1307.1 1000.8h0M1404.7 1011.6h0"/><path stroke="#00C19A" d="M1494.5 951.4h0M1593.7 942.1h0"/><path stroke="#00C085" d="M1597.6 930.0h0M1614.2 928.0h0M1642.7 927.4h0"/><path stroke="#00C08B" d="M1567.1 916.5h0M1637.8 936.3h0"/><path stroke="#00BD65" d="M1200.9 1081.2h0M1239.3 1076.1h0"/><path stroke="#00C1AC" d="M1123.0 1145.7h0M1205.8 1087.9h0"/><path stroke="#00C0AF" d="M1396.3 964.8h0M1476.1 966.4h0"/><path stroke="#00BFC6" d="M1187.0 1086.9h0M1228.8 1068.2h0"/><path stroke="#52B400" d="M1294.3 1011.2h0M1360.8 950.6h0"/><path stroke="#27B700" d="M1351.8 981.2h0M1404.4 940.5h0M1443.2 916.9h0"/><path stroke="#83AD00" d="M1298.7 1081.2h0M1315.7 1094.6h0M1337.2 1045.5h0"/><path stroke="#00C08B" d="M1568.0 857.1h0M1670.8 831.7h0"/><path stroke="#00B70A" d="M1243.8 1024.1h0M1307.8 947.7h0"/><path stroke="#00BB44" d="M1437.0 958.4h0M1482.0 940.8h0"/><path stroke="#6CB100" d="M1444.3 966.9h0M1525.1 935.3h0"/><path stroke="#00B9E2" d="M1337.1 990.9h0M1379.9 988.2h0"/><path stroke="#9CA700" d="M1366.7 1063.5h0M1403.6 1044.7h0"/><path stroke="#00BECE" d="M1266.6 1030.9h0M1303.3 1054.4h0"/><path stroke="#00BA38" d="M1088.0 1214.6h0M1178.0 1123.4h0"/><path stroke="#3EB500" d="M1363.5 993.4h0M1462.4 893.9h0"/><path stroke="#00BD60" d="M1171.2 1076.6h0M1241.5 1044.8h0"/><path stroke="#00BECF" d="M1340.3 1009.1h0M1391.8 978.1h0M1436.3 978.5h0"/><path stroke="#C29A00" d="M1196.5 1082.9h0M1284.2 1026.7h0"/><path stroke="#7FAE00" d="M1236.7 1067.3h0M1330.7 1028.8h0"/><path stroke="#A7A400" d="M1120.8 1091.9h0M1202.2 1034.9h0"/><path stroke="#8DAB00" d="M1329.7 954.9h0M1395.8 931.3h0"/><path stroke="#89AC00" d="M1252.4 1031.5h0M1352.2 963.5h0"/><path stroke="#00BB4C" d="M1235.5 1096.9h0M1306.0 1055.5h0"/><path stroke="#00B8E6" d="M1362.3 1056.2h0M1397.1 1041.7h0M1431.9 1023.4h0"/><path stroke="#00BE69" d="M1379.4 1007.3h0M1457.3 979.6h0"/><path stroke="#B59F00" d="M1455.9 931.5h0M1555.7 976.3h0"/><path stroke="#87AC00" d="M1303.2 1020.1h0M1339.0 991.2h0"/><path stroke="#00BECB" d="M1379.1 982.3h0M1409.6 982.3h0M1428.3 967.9h0"/><path stroke="#00B6EB" d="M1443.3 971.6h0M1497.3 944.1h0"/><path stroke="#00C097" d="M1310.2 1063.4h0M1324.4 1060.1h0M1348.6 1060.6h0"/><path stroke="#00B9E3" d="M1498.0 911.5h0M1539.8 898.2h0"/><path stroke="#BB9D00" d="M1317.6 1026.1h0M1415.9 956.9h0"/><path stroke="#00BA38" d="M1186.9 1022.3h0M1243.6 997.1h0"/><path stroke="#B99E00" d="M1154.2 1168.5h0M1181.6 1138.8h0M1219.2 1096.5h0"/><path stroke="#00BFC9" d="M1410.0 967.9h0M1483.2 901.5h0"/><path stroke="#00C08B" d="M1044.6 1169.0h0M1151.3 1052.3h0"/><path stroke="#00BECD" d="M1481.1 984.8h0M1571.2 972.9h0"/><path stroke="#00BA38" d="M1597.3 994.8h0M1648.6 929.7h0"/><path stroke="#00BD62" d="M1147.1 1177.3h0M1230.6 1116.9h0"/><path stroke="#00BE6D" d="M1381.5 1016.2h0M1432.0 1005.9h0"/><path stroke="#00C08E" d="M1236.5 1071.9h0M1295.5 1054.2h0"/><path stroke="#00B815" d="M1143.8 1178.6h0M1234.8 1070.8h0"/><path stroke="#00BF79" d="M1123.9 1127.6h0M1204.8 1071.0h0"/><path stroke="#00C0B3" d="M1219.6 1086.6h0M1271.6 1049.1h0"/><path stroke="#00C0BA" d="M1189.5 1068.2h0M1289.7 1035.5h0"/><path stroke="#00BC52" d="M1410.4 915.1h0M1487.8 881.2h0"/><path stroke="#00BADF" d="M1207.3 1081.7h0M1271.2 1066.5h0"/><path stroke="#00BF77" d="M1210.2 1118.2h0M1233.1 1097.9h0M1261.0 1084.2h0"/><path stroke="#00B927" d="M1417.2 997.9h0M1494.7 952.7h0"/><path stroke="#00BF7B" d="M1317.2 1041.0h0M1366.6 1000.8h0"/><path stroke="#00C1A9" d="M1108.5 1169.1h0M1180.9 1084.6h0"/><path stroke="#00B1F6" d="M1381.9 1020.8h0M1456.5 931.9h0"/><path stroke="#A1A600" d="M1365.0 992.3h0M1416.5 1007.8h0"/><path stroke="#00C090" d="M1592.5 861.1h0M1642.0 879.0h0"/><path stroke="#71B000" d="M1205.7 1081.7h0M1225.5 1070.1h0M1256.6 1071.0h0"/><path stroke="#00BBDB" d="M1291.3 1021.5h0M1329.7 985.8h0"/><path stroke="#67B100" d="M1305.2 1021.6h0M1389.7 974.4h0"/><path stroke="#00C083" d="M1240.4 1096.5h0M1285.8 1072.0h0"/><path stroke="#00BA3B" d="M1316.0 1020.6h0M1371.6 967.7h0"/><path stroke="#00BBDC" d="M1110.6 1138.5h0M1148.8 1139.0h0"/><path stroke="#00BFC7" d="M1280.4 1024.4h0M1343.2 972.4h0"/><path stroke="#00B92B" d="M1170.6 1086.8h0M1209.5 1077.1h0"/><path stroke="#00B6EA" d="M1338.5 981.3h0M1382.9 961.6h0M1435.9 960.1h0"/><path stroke="#00B8E7" d="M1378.1 975.6h0M1470.6 938.3h0"/><path stroke="#00BA3E" d="M1474.2 1008.5h0M1521.0 987.0h0"/><path stroke="#78AF00" d="M1301.6 1017.6h0M1385.9 984.8h0"/><path stroke="#6F99FF" d="M1513.3 935.2h0M1609.6 892.3h0"/><path stroke="#00C0B4" d="M1452.5 972.2h0M1526.5 954.2h0"/><path stroke="#00BF81" d="M1207.1 1063.9h0M1270.4 1026.5h0"/><path stroke="#00BDD3" d="M1391.7 965.2h0M1435.8 934.4h0"/><path stroke="#00A9FF" d="M1121.3 1193.5h0M1155.8 1119.0h0"/><path stroke="#00B6EC" d="M1352.2 1046.3h0M1448.8 982.7h0"/><path stroke="#00C095" d="M1345.7 983.1h0M1408.6 1010.1h0"/><path stroke="#00BCD9" d="M1356.4 1012.5h0M1406.6 983.7h0"/><path stroke="#59B300" d="M1321.8 1016.7h0M1348.8 1021.4h0M1395.1 992.8h0"/><path stroke="#00BC57" d="M1411.3 972.4h0M1510.3 926.8h0"/><path stroke="#988FFF" d="M1348.2 989.7h0M1406.9 959.3h0"/><path stroke="#00C092" d="M1373.0 993.6h0M1411.9 974.0h0"/><path stroke="#00ACFC" d="M1505.0 960.4h0M1533.9 941.3h0M1558.2 981.5h0"/><path stroke="#31A2FF" d="M1368.7 1007.5h0M1405.5 981.1h0"/><path stroke="#00B5ED" d="M1508.0 908.5h0M1577.3 911.0h0"/><path stroke="#5FB200" d="M1172.1 1140.4h0M1258.6 1067.9h0"/><path stroke="#9590FF" d="M1552.0 885.4h0M1644.4 828.8h0"/><path stroke="#00AFF7" d="M1325.8 1039.0h0M1395.5 1001.8h0"/><path stroke="#00A6FF" d="M1161.6 1138.0h0M1227.3 1086.4h0"/><path stroke="#00A8FF" d="M1378.5 978.6h0M1468.2 945.0h0"/><path stroke="#00C0B6" d="M1446.7 943.3h0M1497.8 917.0h0"/><path stroke="#00C1A4" d="M1403.0 1019.3h0M1479.0 965.9h0"/><path stroke="#00C19F" d="M1212.6 1084.8h0M1279.8 1008.0h0"/><path stroke="#56B300" d="M1238.7 1056.2h0M1318.9 1012.6h0"/><path stroke="#00B934" d="M1547.8 905.7h0M1591.9 873.8h0"/><path stroke="#9D8DFF" d="M1454.8 971.2h0M1523.5 928.0h0"/><path stroke="#00A4FF" d="M1361.8 945.5h0M1443.6 969.6h0"/><path stroke="#00C1A6" d="M1167.9 1123.5h0M1227.6 1043.8h0"/><path stroke="#00C08C" d="M1299.5 1018.5h0M1357.2 971.3h0"/><path stroke="#39B600" d="M1112.9 1135.1h0M1195.2 1068.3h0"/><path stroke="#00BA41" d="M1562.2 853.5h0M1630.8 838.1h0"/><path stroke="#9590FF" d="M1444.0 939.1h0M1512.3 945.2h0"/><path stroke="#00C087" d="M1495.2 1011.0h0M1579.5 965.2h0"/><path stroke="#00C089" d="M1199.2 1064.8h0M1256.7 988.8h0"/><path stroke="#8993FF" d="M1305.7 971.0h0M1370.3 945.0h0"/><path stroke="#00C1AE" d="M1202.5 1084.9h0M1282.9 1021.4h0"/><path stroke="#00BCD6" d="M1442.5 952.6h0M1532.9 906.8h0"/><path stroke="#00B0F6" d="M1352.2 988.7h0M1397.8 1002.5h0"/><path stroke="#00ABFD" d="M1238.9 1007.7h0M1304.0 998.2h0"/><path stroke="#00BAE0" d="M1390.4 935.5h0M1425.1 946.2h0M1455.2 908.9h0"/><path stroke="#00BFC0" d="M1369.0 1010.8h0M1421.6 968.1h0"/><path stroke="#A58AFF" d="M1358.9 958.6h0M1397.9 951.2h0M1453.5 953.8h0"/><path stroke="#00C1A7" d="M1193.5 1088.8h0M1279.2 1018.4h0"/><path stroke="#CA7BFF" d="M1204.9 1093.0h0M1290.3 1023.9h0"/><path stroke="#639CFF" d="M1391.3 980.1h0M1407.7 986.2h0M1436.4 955.0h0"/><path stroke="#00AEFA" d="M1384.9 992.7h0M1434.2 943.5h0"/><path stroke="#00BCD7" d="M1245.1 1059.6h0M1295.6 1005.3h0"/><path stroke="#00C19E" d="M1238.5 1107.2h0M1316.2 1067.3h0"/><path stroke="#CD79FF" d="M1263.9 1137.5h0M1344.7 1029.8h0"/><path stroke="#00BBDD" d="M1402.8 1029.4h0M1474.9 997.5h0"/><path stroke="#A08CFF" d="M1482.4 980.1h0M1564.4 921.2h0"/><path stroke="#00A6FF" d="M1356.1 964.3h0M1392.2 943.8h0"/><path stroke="#A38BFF" d="M1412.9 994.3h0M1472.2 954.8h0"/><path stroke="#00BF75" d="M1350.1 1025.2h0M1430.5 964.5h0"/><path stroke="#B684FF" d="M1300.2 1063.9h0M1348.6 1032.7h0"/><path stroke="#00ACFB" d="M1422.9 905.3h0M1516.4 862.2h0"/><path stroke="#00BE6B" d="M1127.5 1162.1h0M1198.0 1130.0h0"/><path stroke="#00BE6F" d="M1247.8 1059.8h0M1314.0 989.8h0"/><path stroke="#41A0FF" d="M1227.9 1078.9h0M1285.4 1033.1h0"/><path stroke="#00BF7D" d="M1204.8 1104.9h0M1294.9 995.2h0"/><path stroke="#00C19C" d="M1307.0 1012.3h0M1338.1 992.9h0M1361.0 977.5h0"/><path stroke="#E66CF4" d="M1491.1 965.9h0M1564.1 931.6h0"/><path stroke="#00A7FF" d="M1315.5 1051.5h0M1410.2 1015.3h0"/><path stroke="#00BBDA" d="M1268.5 1115.8h0M1329.6 1034.4h0"/><path stroke="#6B9AFF" d="M1208.0 1037.4h0M1297.9 1030.1h0"/><path stroke="#8F91FF" d="M1539.4 926.2h0M1581.2 935.0h0"/><path stroke="#00A9FF" d="M1368.1 983.3h0M1444.1 970.2h0"/><path stroke="#C27EFF" d="M1166.2 1106.4h0M1209.0 1048.9h0"/><path stroke="#00C098" d="M1318.0 1048.6h0M1413.3 932.4h0"/><path stroke="#00AEF9" d="M1400.8 946.0h0M1451.3 940.3h0"/><path stroke="#00C0B9" d="M1407.7 921.9h0M1449.9 907.1h0M1504.0 844.1h0"/><path stroke="#00AAFD" d="M1444.2 969.5h0M1496.4 947.7h0"/><path stroke="#7E96FF" d="M1256.9 1029.1h0M1284.2 1036.6h0M1320.7 1040.9h0"/><path stroke="#00A9FF" d="M1608.6 865.6h0M1680.2 824.5h0"/><path stroke="#E76BF3" d="M1201.3 1179.0h0M1231.4 1127.9h0"/><path stroke="#00BF73" d="M1248.2 1079.3h0M1330.6 1016.5h0"/><path stroke="#E76BF3" d="M1095.7 1083.4h0M1186.9 1054.5h0"/><path stroke="#00C0BC" d="M1148.2 1155.4h0M1208.6 1096.8h0"/><path stroke="#00C1A1" d="M1266.8 1018.5h0M1331.0 979.3h0"/><path stroke="#00B7E9" d="M1070.3 1187.6h0M1166.7 1097.3h0"/><path stroke="#D973FC" d="M1321.0 1018.8h0M1419.0 912.7h0"/><path stroke="#E76BF3" d="M1448.7 877.9h0M1503.0 801.5h0"/><path stroke="#EA69F0" d="M1269.9 1053.8h0M1333.9 1044.6h0"/><path stroke="#48A0FF" d="M1511.6 946.4h0M1589.1 926.4h0"/><path stroke="#00BECA" d="M1299.9 1025.5h0M1392.9 934.9h0"/><path stroke="#BC81FF" d="M1428.7 1015.3h0M1512.8 966.6h0"/><path stroke="#00BDD5" d="M1311.5 1055.8h0M1354.0 995.1h0M1379.2 988.4h0"/><path stroke="#F763E0" d="M1346.5 993.7h0M1415.2 975.5h0"/><path stroke="#E76BF3" d="M1390.0 910.3h0M1464.2 899.7h0"/><path stroke="#EC69EF" d="M1466.4 1001.0h0M1520.7 993.9h0"/><path stroke="#00BFC4" d="M1406.5 1015.1h0M1446.4 975.8h0"/><path stroke="#00AFF8" d="M1209.1 1072.8h0M1236.8 1053.2h0M1288.1 976.3h0"/><path stroke="#00A9FF" d="M1496.1 876.6h0M1532.6 893.0h0"/><path stroke="#00A5FF" d="M1211.7 1044.8h0M1250.0 1056.6h0"/><path stroke="#00A9FF" d="M1098.0 1086.8h0M1198.0 981.1h0"/><path stroke="#BE80FF" d="M1582.8 852.9h0M1625.3 809.2h0"/><path stroke="#E76BF3" d="M1237.6 1074.7h0M1327.6 1039.3h0"/><path stroke="#DD71FA" d="M1178.4 1075.1h0M1228.0 1040.8h0"/><path stroke="#7797FF" d="M1408.1 1024.0h0M1485.9 946.3h0"/><path stroke="#D774FD" d="M1353.6 1014.4h0M1425.3 979.1h0"/><path stroke="#00BFC4" d="M1071.3 1153.5h0M1153.5 1136.8h0"/><path stroke="#BA82FF" d="M1276.3 1062.7h0M1346.7 1040.7h0"/><path stroke="#00AAFE" d="M1367.4 1000.1h0M1430.0 999.9h0"/><path stroke="#FC61D5" d="M1297.5 959.1h0M1370.0 946.4h0"/><path stroke="#AF86FF" d="M1298.0 1034.5h0M1389.6 1031.1h0"/><path stroke="#E76BF3" d="M1073.5 1170.1h0M1125.7 1201.3h0"/><path stroke="#ED68EE" d="M1380.3 941.2h0M1447.8 916.0h0"/><path stroke="#679BFF" d="M1220.4 1040.4h0M1265.0 1020.8h0M1305.0 996.0h0"/><path stroke="#F066EA" d="M1244.0 1050.8h0M1323.2 992.5h0"/><path stroke="#00A9FF" d="M1534.1 825.6h0M1638.7 787.3h0"/><path stroke="#C07FFF" d="M1371.7 1018.2h0M1436.2 974.5h0"/><path stroke="#FF61C3" d="M1244.3 1123.2h0M1297.1 1075.0h0"/><path stroke="#00A9FF" d="M1608.6 861.8h0M1714.2 781.1h0"/><path stroke="#00B8E5" d="M1465.9 1009.0h0M1507.0 1012.3h0"/><path stroke="#00A9FF" d="M1225.8 1154.1h0M1264.7 1101.2h0"/><path stroke="#00C0BF" d="M1502.1 945.6h0M1578.9 894.2h0"/><path stroke="#EF67EB" d="M1523.4 956.1h0M1550.8 959.6h0M1601.0 910.2h0"/><path stroke="#8594FF" d="M1443.2 1001.7h0M1535.3 950.3h0"/><path stroke="#7398FF" d="M1197.9 1122.3h0M1224.0 1083.9h0M1241.0 1061.3h0"/><path stroke="#FF63B7" d="M1500.6 906.9h0M1525.6 877.1h0M1544.8 849.6h0"/><path stroke="#4E9FFF" d="M1439.4 1005.2h0M1530.7 958.9h0"/><path stroke="#39A1FF" d="M1531.1 946.4h0M1616.1 925.6h0"/><path stroke="#00BFC2" d="M1379.0 937.6h0M1401.0 923.8h0M1428.2 921.3h0"/><path stroke="#DE70F9" d="M1329.7 1058.2h0M1430.6 1011.0h0"/><path stroke="#00B4F0" d="M1287.6 1015.6h0M1365.5 983.5h0"/><path stroke="#00B5EE" d="M1185.6 1104.8h0M1232.0 1106.3h0"/><path stroke="#9290FF" d="M1091.6 1129.1h0M1140.7 1088.5h0"/><path stroke="#00BFC3" d="M1360.5 1020.4h0M1409.7 975.3h0"/><path stroke="#FF64AF" d="M1343.0 1005.3h0M1421.9 946.3h0"/><path stroke="#00BDD1" d="M1268.2 1104.7h0M1322.7 1076.8h0"/><path stroke="#26A3FF" d="M1454.4 954.0h0M1507.7 947.8h0"/><path stroke="#E16FF7" d="M1273.5 1070.8h0M1355.5 1012.3h0"/><path stroke="#00B7E8" d="M1308.7 1017.8h0M1398.5 942.4h0"/><path stroke="#B385FF" d="M1279.0 1044.9h0M1345.3 1004.3h0"/><path stroke="#FE61CE" d="M1294.2 1003.1h0M1316.9 979.8h0M1349.9 993.9h0"/><path stroke="#00BDD2" d="M1323.9 1002.4h0M1366.8 979.0h0"/><path stroke="#FF62BA" d="M1426.2 991.7h0M1475.9 979.0h0"/><path stroke="#16A4FF" d="M1312.5 1034.7h0M1377.1 989.7h0"/><path stroke="#FF61C5" d="M1270.9 1004.9h0M1361.1 972.5h0"/><path stroke="#00BAE1" d="M1341.5 1007.8h0M1428.9 958.6h0"/><path stroke="#CF78FF" d="M1135.7 1187.8h0M1192.1 1129.0h0"/><path stroke="#DA72FB" d="M1389.8 936.2h0M1461.4 881.3h0"/><path stroke="#E76BF3" d="M1272.5 1132.3h0M1295.9 1087.9h0"/><path stroke="#00B2F3" d="M1296.7 1082.3h0M1370.7 1026.7h0"/><path stroke="#00ADFB" d="M1484.2 912.3h0M1536.1 902.4h0"/><path stroke="#FF62BF" d="M1423.9 951.2h0M1497.7 912.7h0"/><path stroke="#00B3F1" d="M1199.1 1129.1h0M1293.3 1009.2h0"/><path stroke="#FF65AC" d="M1326.8 1009.0h0M1358.0 993.3h0M1394.7 966.1h0"/><path stroke="#FC727E" d="M1439.8 942.9h0M1513.1 955.7h0"/><path stroke="#5E9CFF" d="M1104.9 1154.0h0M1147.7 1127.2h0"/><path stroke="#FF65AD" d="M1252.7 1022.1h0M1336.8 984.8h0"/><path stroke="#549EFF" d="M1310.4 1006.3h0M1375.1 975.9h0"/><path stroke="#00B2F4" d="M1635.4 906.6h0M1700.5 876.0h0"/><path stroke="#00B3F2" d="M1279.8 1021.8h0M1357.3 972.6h0"/><path stroke="#F8766F" d="M1268.0 1065.7h0M1333.4 977.3h0"/><path stroke="#C87CFF" d="M1404.9 995.5h0M1467.5 944.1h0"/><path stroke="#FE6E8B" d="M1494.7 986.0h0M1565.0 973.6h0"/><path stroke="#AD87FF" d="M1275.9 1066.7h0M1361.6 996.2h0"/><path stroke="#8C92FF" d="M1298.4 979.4h0M1380.8 950.9h0"/><path stroke="#FF699C" d="M1227.7 1087.6h0M1291.4 990.0h0"/><path stroke="#FB737A" d="M1436.2 900.1h0M1457.8 884.2h0M1488.8 866.0h0"/><path stroke="#F265E7" d="M1452.3 948.0h0M1540.5 912.1h0"/><path stroke="#00A9FF" d="M1145.8 1042.3h0M1233.6 980.6h0"/><path stroke="#00B4EF" d="M1374.6 996.6h0M1462.3 922.9h0"/><path stroke="#FF66A8" d="M1383.1 958.1h0M1461.5 925.0h0"/><path stroke="#C47DFF" d="M1426.1 985.9h0M1514.2 944.2h0"/><path stroke="#FC61D3" d="M1374.2 950.1h0M1443.3 909.7h0"/><path stroke="#F862DE" d="M1186.1 1093.5h0M1277.5 1047.3h0"/><path stroke="#00B1F5" d="M1505.7 930.7h0M1558.2 878.7h0"/><path stroke="#FF62BC" d="M1334.4 1030.8h0M1401.7 1042.9h0"/><path stroke="#E46DF6" d="M1507.8 995.1h0M1569.5 983.1h0"/><path stroke="#FF63B9" d="M1093.4 1204.5h0M1174.4 1112.7h0"/><path stroke="#FF6C91" d="M1275.4 957.8h0M1324.8 937.4h0"/><path stroke="#B883FF" d="M1358.3 994.7h0M1404.4 974.0h0"/><path stroke="#FF61C3" d="M1084.6 1145.2h0M1151.3 1087.9h0"/><path stroke="#F962DC" d="M1267.7 994.6h0M1321.5 971.4h0M1367.1 906.1h0"/><path stroke="#EE68ED" d="M1273.3 1046.3h0M1370.5 1003.0h0"/><path stroke="#599DFF" d="M1300.5 1009.7h0M1348.5 997.9h0M1377.5 1001.6h0"/><path stroke="#8295FF" d="M1371.0 997.1h0M1454.2 965.6h0"/><path stroke="#F663E1" d="M1347.4 984.6h0M1387.0 983.0h0"/><path stroke="#E26EF7" d="M1352.3 992.9h0M1450.4 946.9h0"/><path stroke="#CC7AFF" d="M1382.2 994.3h0M1465.8 894.8h0"/><path stroke="#D276FF" d="M1325.5 1032.5h0M1391.3 987.5h0"/><path stroke="#7B97FF" d="M1314.6 971.9h0M1356.8 950.1h0"/><path stroke="#FB727C" d="M1104.9 1125.8h0M1191.5 1051.4h0"/><path stroke="#E76BF3" d="M1552.0 892.0h0M1604.4 808.1h0"/><path stroke="#FF6B95" d="M1378.9 966.9h0M1467.5 919.6h0"/><path stroke="#DC72FB" d="M1202.6 1082.3h0M1272.9 1054.7h0"/><path stroke="#A889FF" d="M1298.0 1033.6h0M1393.4 964.4h0"/><path stroke="#FD6F86" d="M1267.9 1068.9h0M1306.6 1041.5h0"/><path stroke="#F97571" d="M1191.4 1136.0h0M1290.5 1038.3h0"/><path stroke="#FF63B5" d="M1433.8 997.2h0M1518.1 948.3h0"/><path stroke="#FA61D9" d="M1346.9 997.3h0M1430.2 947.5h0"/><path stroke="#E96AF1" d="M1524.6 976.2h0M1583.8 929.3h0"/><path stroke="#D675FE" d="M1431.4 925.2h0M1518.7 882.0h0"/><path stroke="#FF61C3" d="M1544.5 903.3h0M1605.7 946.3h0"/><path stroke="#FF61CC" d="M1316.3 1061.9h0M1392.4 1001.9h0"/><path stroke="#9A8EFF" d="M1328.7 1015.4h0M1427.0 939.5h0"/><path stroke="#FF6A9A" d="M1348.3 1010.4h0M1439.2 954.8h0"/><path stroke="#FF64B2" d="M1449.4 935.5h0M1532.1 887.5h0"/><path stroke="#E06FF8" d="M1233.6 1075.1h0M1263.2 1048.1h0M1295.8 1011.5h0"/><path stroke="#FF61C9" d="M1250.2 1083.7h0M1325.4 1027.6h0"/><path stroke="#B186FF" d="M1378.0 990.2h0M1425.0 940.8h0"/><path stroke="#C77CFF" d="M1194.7 1156.8h0M1220.3 1110.1h0"/><path stroke="#FF6A97" d="M1379.8 981.4h0M1476.1 940.7h0"/><path stroke="#F166E8" d="M1165.1 1059.2h0M1216.3 1054.1h0"/><path stroke="#FA7476" d="M1086.6 1180.5h0M1137.4 1164.1h0M1182.6 1119.2h0"/><path stroke="#F962DB" d="M1463.2 949.0h0M1544.1 923.4h0"/><path stroke="#FC7180" d="M1108.4 1113.0h0M1209.7 1028.7h0"/><path stroke="#C67DFF" d="M1347.3 982.1h0M1424.9 938.7h0"/><path stroke="#D177FF" d="M1309.2 1018.3h0M1396.7 923.8h0"/><path stroke="#E86BF2" d="M1441.6 895.3h0M1496.8 892.3h0"/><path stroke="#FF62C0" d="M1386.1 1049.0h0M1424.4 1026.1h0"/><path stroke="#F564E3" d="M1421.6 955.8h0M1474.8 905.9h0"/><path stroke="#AA88FF" d="M1381.0 1008.7h0M1447.2 955.3h0"/><path stroke="#FF67A5" d="M1443.4 914.2h0M1478.7 876.4h0M1498.5 890.7h0"/><path stroke="#FF6C93" d="M1180.4 1041.7h0M1277.9 1009.8h0"/><path stroke="#D476FE" d="M1432.6 918.1h0M1513.0 904.3h0"/><path stroke="#FF61C8" d="M1437.9 995.1h0M1503.9 965.5h0"/><path stroke="#FF66AA" d="M1183.4 1101.3h0M1228.7 1057.9h0"/><path stroke="#FF67A3" d="M1368.3 1025.4h0M1444.2 958.7h0"/><path stroke="#F763DF" d="M1238.2 1082.6h0M1274.4 1035.0h0"/><path stroke="#FD6F88" d="M1455.6 941.9h0M1515.3 918.4h0"/><path stroke="#F365E6" d="M1506.3 939.9h0M1582.4 903.4h0"/><path stroke="#E56DF5" d="M1494.9 904.4h0M1584.3 901.9h0"/><path stroke="#FD61D0" d="M1282.1 1016.7h0M1337.7 983.3h0"/><path stroke="#FF6A98" d="M1514.3 976.9h0M1553.9 975.0h0"/><path stroke="#EF67EC" d="M1521.6 916.7h0M1617.3 871.3h0"/><path stroke="#FA7378" d="M1134.4 1124.3h0M1173.5 1097.9h0"/><path stroke="#FF66A7" d="M1190.5 1101.2h0M1288.9 1030.2h0"/><path stroke="#E76BF3" d="M1616.1 812.8h0M1701.0 812.8h0"/><path stroke="#FE6D8D" d="M1510.5 927.0h0M1597.4 912.2h0"/><path stroke="#FD7084" d="M1319.2 988.6h0M1362.0 933.9h0"/><path stroke="#F564E4" d="M1214.4 1095.5h0M1285.3 996.1h0"/><path stroke="#FF63B4" d="M1493.5 942.6h0M1576.6 905.9h0"/><path stroke="#FD61D2" d="M1233.9 1082.2h0M1334.2 1000.8h0"/><path stroke="#FB61D7" d="M1309.4 1038.3h0M1402.3 991.0h0"/><path stroke="#FF62BD" d="M1426.0 983.2h0M1501.0 987.5h0"/><path stroke="#FF61C2" d="M1280.3 1068.9h0M1358.6 1019.6h0"/><path stroke="#F464E5" d="M1466.7 935.8h0M1558.0 908.1h0"/><path stroke="#FA62DA" d="M1350.4 1020.5h0M1451.2 922.2h0"/><path stroke="#FF61C3" d="M1448.3 907.1h0M1485.6 853.3h0"/><path stroke="#FC61D6" d="M1152.7 1118.1h0M1202.4 1089.7h0"/><path stroke="#FF68A0" d="M1401.2 964.3h0M1482.3 894.0h0"/><path stroke="#FF61CB" d="M1443.9 916.8h0M1520.5 874.6h0"/><path stroke="#FE61CF" d="M1403.3 950.2h0M1453.0 931.1h0M1491.0 940.1h0"/><path stroke="#FF68A1" d="M1244.5 1096.8h0M1320.0 1030.5h0"/><path stroke="#FF61C6" d="M1185.2 1108.3h0M1223.4 1099.8h0"/><path stroke="#FF6D8F" d="M1222.9 1096.3h0M1311.1 1012.1h0"/><path stroke="#FF64B1" d="M1398.0 974.6h0M1450.6 963.4h0"/><path stroke="#FF699E" d="M1261.4 1003.7h0M1350.6 951.5h0"/><path stroke="#F97473" d="M1389.6 1022.5h0M1433.3 1000.1h0"/><path stroke="#FF6A98" d="M1306.0 1040.6h0M1379.6 956.2h0"/><path stroke="#FE6E8A" d="M1197.5 1123.2h0M1245.7 1068.8h0"/><path stroke="#FC7082" d="M1402.0 1014.4h0M1460.6 1001.1h0"/><path stroke="#FF6A98" d="M1612.3 888.2h0M1689.7 879.2h0"/></g></g>
<g stroke="#333333" stroke-width="2.7"><line x1="1001.80" x2="1009.6" y1="1234.20" y2="1234.20"/><line x1="1001.80" x2="1009.6" y1="1113.80" y2="1113.80"/><line x1="1001.80" x2="1009.6" y1="993.40" y2="993.40"/><line x1="1001.80" x2="1009.6" y1="873.00" y2="873.00"/><line x1="1060.30" x2="1060.30" y1="1246.7" y2="1254.50"/><line x1="1264.30" x2="1264.30" y1="1246.7" y2="1254.50"/><line x1="1468.30" x2="1468.30" y1="1246.7" y2="1254.50"/><line x1="1672.30" x2="1672.30" y1="1246.7" y2="1254.50"/></g>
<g font-size="30.3" fill="#000"><text x="990.0" y="1243.7" text-anchor="end" textLength="16.29" lengthAdjust="spacingAndGlyphs">0</text><text x="990.0" y="1123.3" text-anchor="end" textLength="32.58" lengthAdjust="spacingAndGlyphs">20</text><text x="990.0" y="1002.9" text-anchor="end" textLength="32.58" lengthAdjust="spacingAndGlyphs">40</text><text x="990.0" y="882.5" text-anchor="end" textLength="32.58" lengthAdjust="spacingAndGlyphs">60</text><text x="1060.3" y="1287.9" text-anchor="middle" textLength="32.58" lengthAdjust="spacingAndGlyphs">20</text><text x="1264.3" y="1287.9" text-anchor="middle" textLength="32.58" lengthAdjust="spacingAndGlyphs">40</text><text x="1468.3" y="1287.9" text-anchor="middle" textLength="32.58" lengthAdjust="spacingAndGlyphs">60</text><text x="1672.3" y="1287.9" text-anchor="middle" textLength="32.58" lengthAdjust="spacingAndGlyphs">80</text></g>
<text x="1379.5" y="1329.7" font-size="30.3" text-anchor="middle" textLength="51.96" lengthAdjust="spacingAndGlyphs">Age</text>
<text transform="translate(925.8,1004.0) rotate(-90)" font-size="29.4" text-anchor="middle" textLength="221.8" lengthAdjust="spacingAndGlyphs">DNAmPhenoAge</text>
<text x="1055.9" y="739.5" font-size="34.5" textLength="256.3" lengthAdjust="spacingAndGlyphs">DNAmPhenoAge</text>
<g font-weight="bold" font-size="42">
<text x="-1.3" y="31.2">a</text><text x="903" y="30.6">b</text>
<text x="-1" y="729">c</text><text x="903" y="729">d</text>
</g>
</svg></body></html>
